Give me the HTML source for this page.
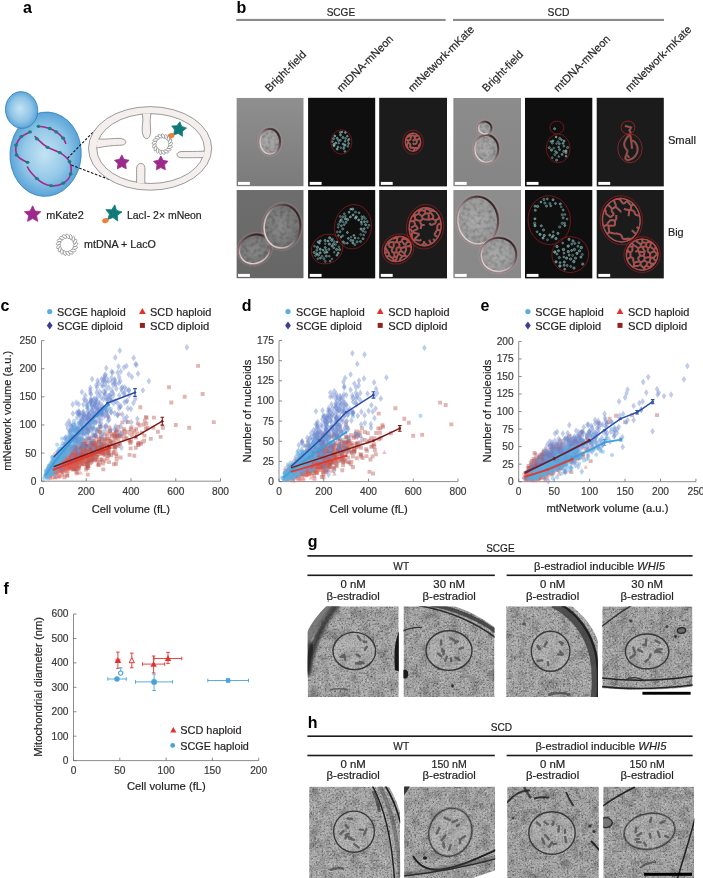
<!DOCTYPE html>
<html><head><meta charset="utf-8"><title>Figure</title>
<style>
html,body{margin:0;padding:0;background:#fff;}
body{width:703px;height:878px;overflow:hidden;}
svg{display:block;font-family:"Liberation Sans",sans-serif;will-change:transform;}
</style></head><body>
<svg width="703" height="878" viewBox="0 0 703 878">
<text x="23.0" y="13.2" font-size="16" font-weight="bold" fill="#000">a</text>
<text x="236.5" y="13.0" font-size="16" font-weight="bold" fill="#000">b</text>
<text x="0.5" y="310.8" font-size="16" font-weight="bold" fill="#000">c</text>
<text x="241.8" y="310.6" font-size="16" font-weight="bold" fill="#000">d</text>
<text x="480.5" y="310.9" font-size="16" font-weight="bold" fill="#000">e</text>
<text x="3.5" y="593.8" font-size="16" font-weight="bold" fill="#000">f</text>
<text x="307.8" y="547.0" font-size="16" font-weight="bold" fill="#000">g</text>
<text x="307.8" y="727.7" font-size="16" font-weight="bold" fill="#000">h</text>
<defs>
<radialGradient id="cellg" cx="0.5" cy="0.5" r="0.55" fx="0.48" fy="0.5">
<stop offset="0" stop-color="#c4e3f3"/><stop offset="0.55" stop-color="#94c8e8"/><stop offset="1" stop-color="#4c9bd4"/></radialGradient>
<radialGradient id="budg" cx="0.5" cy="0.5" r="0.55" fx="0.45" fy="0.45">
<stop offset="0" stop-color="#c4e3f3"/><stop offset="0.6" stop-color="#8fc4e6"/><stop offset="1" stop-color="#4e9dd5"/></radialGradient>
<clipPath id="innerclip"><ellipse cx="150.6" cy="148.6" rx="54.25" ry="35.35"/></clipPath>
</defs>
<ellipse cx="45.6" cy="154.2" rx="35.6" ry="42.2" transform="rotate(4 45.6 154.2)" fill="url(#cellg)" stroke="#2f7fc2" stroke-width="0.8"/>
<ellipse cx="21.6" cy="110" rx="16.1" ry="18.4" transform="rotate(-8 21.6 110)" fill="url(#budg)" stroke="#2f7fc2" stroke-width="0.8"/>
<path d="M38.5,126.3 C44,126.6 49.8,128.5 49.8,128.5 C53,129.8 56.3,131.9 56.3,131.9 C60,134.5 63.2,138.2 63.2,138.2 C64.5,140 65.7,143.2 65.7,143.2" fill="none" stroke="#a6278c" stroke-width="1.6" stroke-linecap="round"/>
<path d="M30,131.9 C26,133.5 21.3,136.6 21.3,136.6 C18,140 16,145.1 16,145.1 C15.2,150 16.6,155.1 16.6,155.1 C20,159.5 27.5,162.3 27.5,162.3" fill="none" stroke="#a6278c" stroke-width="1.6" stroke-linecap="round"/>
<path d="M35,136.6 C40,141 42,144.5 47.6,147.3 C52,149.6 56,150.4 59.8,152.6 C64,155 67.5,158 69.5,161.6 C71.5,166 71.6,170 70.7,173.9 C69.5,178 66.5,181.5 63.2,183.2 C59,185.6 55,186.2 51.1,185.7 C46,185.2 40.5,182 36.9,178.6 C32,174 29,170.5 27.5,167" fill="none" stroke="#a6278c" stroke-width="1.6" stroke-linecap="round"/>
<ellipse cx="38.5" cy="126.3" rx="1.95" ry="1.65" fill="#17807a"/>
<ellipse cx="49.8" cy="128.5" rx="1.95" ry="1.65" fill="#17807a"/>
<ellipse cx="56.3" cy="131.9" rx="1.95" ry="1.65" fill="#17807a"/>
<ellipse cx="63.2" cy="138.2" rx="1.95" ry="1.65" fill="#17807a"/>
<ellipse cx="30" cy="131.9" rx="1.95" ry="1.65" fill="#17807a"/>
<ellipse cx="21.3" cy="136.6" rx="1.95" ry="1.65" fill="#17807a"/>
<ellipse cx="16" cy="145.1" rx="1.95" ry="1.65" fill="#17807a"/>
<ellipse cx="16.6" cy="155.1" rx="1.95" ry="1.65" fill="#17807a"/>
<ellipse cx="27.5" cy="162.3" rx="1.95" ry="1.65" fill="#17807a"/>
<ellipse cx="36.9" cy="138.8" rx="1.95" ry="1.65" fill="#17807a"/>
<ellipse cx="47.6" cy="147.3" rx="1.95" ry="1.65" fill="#17807a"/>
<ellipse cx="59.8" cy="152.6" rx="1.95" ry="1.65" fill="#17807a"/>
<ellipse cx="69.5" cy="161.6" rx="1.95" ry="1.65" fill="#17807a"/>
<ellipse cx="70.7" cy="173.9" rx="1.95" ry="1.65" fill="#17807a"/>
<ellipse cx="63.2" cy="183.2" rx="1.95" ry="1.65" fill="#17807a"/>
<ellipse cx="51.1" cy="185.7" rx="1.95" ry="1.65" fill="#17807a"/>
<ellipse cx="36.9" cy="178.6" rx="1.95" ry="1.65" fill="#17807a"/>
<line x1="67.6" y1="158.2" x2="94.5" y2="130.6" stroke="#111" stroke-width="1.1" stroke-dasharray="2.6 1.6"/>
<line x1="71.3" y1="165.1" x2="110.5" y2="179.9" stroke="#111" stroke-width="1.1" stroke-dasharray="2.6 1.6"/>
<ellipse cx="150.1" cy="148.4" rx="61.6" ry="41.8" fill="#f4eeec" stroke="#7c7c7c" stroke-width="0.75"/>
<ellipse cx="150.6" cy="148.6" rx="53.8" ry="34.9" fill="#fff" stroke="#7c7c7c" stroke-width="0.75"/>
<g clip-path="url(#innerclip)">
<path d="M141.5,106 L142.6,116 C143.4,121 142,125 142.2,130 C142.4,135 144,138.6 146.6,138.6 C149.4,138.6 150.8,135 150.6,130 C150.4,125 149.8,121 150.6,116 L151.8,106 Z" fill="#f4eeec" stroke="#7c7c7c" stroke-width="0.75"/>
<path d="M90,138.4 L99,139 C106,139.6 113,138.2 119,138.4 C123.5,138.6 125.8,140.2 125.8,142 C125.8,144 123.5,145.3 119.5,145.3 C113,145.4 106,146.2 99,147.6 L90,148.4 Z" fill="#f4eeec" stroke="#7c7c7c" stroke-width="0.75"/>
<path d="M136.2,190 L136.6,180 C136.8,174 136.2,170 136.8,167 C137.4,164.4 139,163.4 140.9,163.4 C142.8,163.4 144.4,164.6 144.8,167.4 C145.2,170.5 144.6,175 144.8,180 L145.4,190 Z" fill="#f4eeec" stroke="#7c7c7c" stroke-width="0.75"/>
<path d="M212,150.6 L203,151.2 C196,151.6 189,151.4 181,151.6 C178.6,151.8 177,153 177,154.7 C177,156.4 178.6,157.6 181,157.7 C189,157.9 196,157.6 203,157.6 L212,157.8 Z" fill="#f4eeec" stroke="#7c7c7c" stroke-width="0.75"/>
</g>
<polygon points="121.80,155.00 124.15,159.36 129.03,160.25 125.60,163.84 126.27,168.75 121.80,166.60 117.33,168.75 118.00,163.84 114.57,160.25 119.45,159.36" fill="#9c2a8c" stroke="#9c2a8c" stroke-width="0.8" stroke-linejoin="round"/>
<polygon points="160.80,156.00 163.15,160.36 168.03,161.25 164.60,164.84 165.27,169.75 160.80,167.60 156.33,169.75 157.00,164.84 153.57,161.25 158.45,160.36" fill="#9c2a8c" stroke="#9c2a8c" stroke-width="0.8" stroke-linejoin="round"/>
<polygon points="179.89,121.68 181.65,126.45 186.48,128.05 182.49,131.20 182.46,136.29 178.23,133.46 173.38,135.01 174.76,130.11 171.79,125.98 176.88,125.78" fill="#117a78" stroke="#117a78" stroke-width="0.8" stroke-linejoin="round"/>
<ellipse cx="171.0" cy="135.8" rx="3.5" ry="2.6" transform="rotate(-20 171 135.8)" fill="#ee7f3b"/>
<ellipse cx="170.55" cy="144.20" rx="2.55" ry="1.25" transform="rotate(140.0 170.55 144.20)" fill="#fff" stroke="#6e6e6e" stroke-width="0.55"/><ellipse cx="170.00" cy="147.14" rx="2.55" ry="1.25" transform="rotate(161.2 170.00 147.14)" fill="#fff" stroke="#6e6e6e" stroke-width="0.55"/><ellipse cx="168.42" cy="149.69" rx="2.55" ry="1.25" transform="rotate(182.4 168.42 149.69)" fill="#fff" stroke="#6e6e6e" stroke-width="0.55"/><ellipse cx="166.03" cy="151.50" rx="2.55" ry="1.25" transform="rotate(203.5 166.03 151.50)" fill="#fff" stroke="#6e6e6e" stroke-width="0.55"/><ellipse cx="163.15" cy="152.32" rx="2.55" ry="1.25" transform="rotate(224.7 163.15 152.32)" fill="#fff" stroke="#6e6e6e" stroke-width="0.55"/><ellipse cx="160.17" cy="152.04" rx="2.55" ry="1.25" transform="rotate(245.9 160.17 152.04)" fill="#fff" stroke="#6e6e6e" stroke-width="0.55"/><ellipse cx="157.49" cy="150.70" rx="2.55" ry="1.25" transform="rotate(267.1 157.49 150.70)" fill="#fff" stroke="#6e6e6e" stroke-width="0.55"/><ellipse cx="155.47" cy="148.49" rx="2.55" ry="1.25" transform="rotate(288.2 155.47 148.49)" fill="#fff" stroke="#6e6e6e" stroke-width="0.55"/><ellipse cx="154.39" cy="145.70" rx="2.55" ry="1.25" transform="rotate(309.4 154.39 145.70)" fill="#fff" stroke="#6e6e6e" stroke-width="0.55"/><ellipse cx="154.39" cy="142.70" rx="2.55" ry="1.25" transform="rotate(330.6 154.39 142.70)" fill="#fff" stroke="#6e6e6e" stroke-width="0.55"/><ellipse cx="155.47" cy="139.91" rx="2.55" ry="1.25" transform="rotate(351.8 155.47 139.91)" fill="#fff" stroke="#6e6e6e" stroke-width="0.55"/><ellipse cx="157.49" cy="137.70" rx="2.55" ry="1.25" transform="rotate(372.9 157.49 137.70)" fill="#fff" stroke="#6e6e6e" stroke-width="0.55"/><ellipse cx="160.17" cy="136.36" rx="2.55" ry="1.25" transform="rotate(394.1 160.17 136.36)" fill="#fff" stroke="#6e6e6e" stroke-width="0.55"/><ellipse cx="163.15" cy="136.08" rx="2.55" ry="1.25" transform="rotate(415.3 163.15 136.08)" fill="#fff" stroke="#6e6e6e" stroke-width="0.55"/><ellipse cx="166.03" cy="136.90" rx="2.55" ry="1.25" transform="rotate(436.5 166.03 136.90)" fill="#fff" stroke="#6e6e6e" stroke-width="0.55"/><ellipse cx="168.42" cy="138.71" rx="2.55" ry="1.25" transform="rotate(457.6 168.42 138.71)" fill="#fff" stroke="#6e6e6e" stroke-width="0.55"/><ellipse cx="170.00" cy="141.26" rx="2.55" ry="1.25" transform="rotate(478.8 170.00 141.26)" fill="#fff" stroke="#6e6e6e" stroke-width="0.55"/>
<polygon points="32.60,205.80 35.07,211.00 40.78,211.74 36.59,215.70 37.65,221.36 32.60,218.60 27.55,221.36 28.61,215.70 24.42,211.74 30.13,211.00" fill="#9c2a8c" stroke="#9c2a8c" stroke-width="0.8" stroke-linejoin="round"/>
<text x="46.2" y="218.8" font-size="10.6" fill="#231f20" stroke="#231f20" stroke-width="0.2" textLength="37.5" lengthAdjust="spacingAndGlyphs">mKate2</text>
<polygon points="114.80,204.88 116.52,210.38 122.07,211.91 117.37,215.24 117.64,220.99 113.02,217.56 107.63,219.59 109.46,214.13 105.87,209.63 111.63,209.69" fill="#117a78" stroke="#117a78" stroke-width="0.8" stroke-linejoin="round"/>
<ellipse cx="105.4" cy="220.6" rx="3.3" ry="2.4" transform="rotate(-15 105.4 220.6)" fill="#ee7f3b"/>
<text x="126.9" y="218.8" font-size="10.6" fill="#231f20" stroke="#231f20" stroke-width="0.2" textLength="74.8" lengthAdjust="spacingAndGlyphs">LacI- 2× mNeon</text>
<ellipse cx="75.56" cy="244.80" rx="2.68" ry="1.31" transform="rotate(140.0 75.56 244.80)" fill="#fff" stroke="#6e6e6e" stroke-width="0.55"/><ellipse cx="74.98" cy="247.89" rx="2.68" ry="1.31" transform="rotate(161.2 74.98 247.89)" fill="#fff" stroke="#6e6e6e" stroke-width="0.55"/><ellipse cx="73.32" cy="250.57" rx="2.68" ry="1.31" transform="rotate(182.4 73.32 250.57)" fill="#fff" stroke="#6e6e6e" stroke-width="0.55"/><ellipse cx="70.81" cy="252.46" rx="2.68" ry="1.31" transform="rotate(203.5 70.81 252.46)" fill="#fff" stroke="#6e6e6e" stroke-width="0.55"/><ellipse cx="67.79" cy="253.32" rx="2.68" ry="1.31" transform="rotate(224.7 67.79 253.32)" fill="#fff" stroke="#6e6e6e" stroke-width="0.55"/><ellipse cx="64.66" cy="253.03" rx="2.68" ry="1.31" transform="rotate(245.9 64.66 253.03)" fill="#fff" stroke="#6e6e6e" stroke-width="0.55"/><ellipse cx="61.84" cy="251.63" rx="2.68" ry="1.31" transform="rotate(267.1 61.84 251.63)" fill="#fff" stroke="#6e6e6e" stroke-width="0.55"/><ellipse cx="59.72" cy="249.30" rx="2.68" ry="1.31" transform="rotate(288.2 59.72 249.30)" fill="#fff" stroke="#6e6e6e" stroke-width="0.55"/><ellipse cx="58.59" cy="246.37" rx="2.68" ry="1.31" transform="rotate(309.4 58.59 246.37)" fill="#fff" stroke="#6e6e6e" stroke-width="0.55"/><ellipse cx="58.59" cy="243.23" rx="2.68" ry="1.31" transform="rotate(330.6 58.59 243.23)" fill="#fff" stroke="#6e6e6e" stroke-width="0.55"/><ellipse cx="59.72" cy="240.30" rx="2.68" ry="1.31" transform="rotate(351.8 59.72 240.30)" fill="#fff" stroke="#6e6e6e" stroke-width="0.55"/><ellipse cx="61.84" cy="237.97" rx="2.68" ry="1.31" transform="rotate(372.9 61.84 237.97)" fill="#fff" stroke="#6e6e6e" stroke-width="0.55"/><ellipse cx="64.66" cy="236.57" rx="2.68" ry="1.31" transform="rotate(394.1 64.66 236.57)" fill="#fff" stroke="#6e6e6e" stroke-width="0.55"/><ellipse cx="67.79" cy="236.28" rx="2.68" ry="1.31" transform="rotate(415.3 67.79 236.28)" fill="#fff" stroke="#6e6e6e" stroke-width="0.55"/><ellipse cx="70.81" cy="237.14" rx="2.68" ry="1.31" transform="rotate(436.5 70.81 237.14)" fill="#fff" stroke="#6e6e6e" stroke-width="0.55"/><ellipse cx="73.32" cy="239.03" rx="2.68" ry="1.31" transform="rotate(457.6 73.32 239.03)" fill="#fff" stroke="#6e6e6e" stroke-width="0.55"/><ellipse cx="74.98" cy="241.71" rx="2.68" ry="1.31" transform="rotate(478.8 74.98 241.71)" fill="#fff" stroke="#6e6e6e" stroke-width="0.55"/>
<text x="84.1" y="247.6" font-size="10.6" fill="#231f20" stroke="#231f20" stroke-width="0.2" textLength="71.8" lengthAdjust="spacingAndGlyphs">mtDNA + LacO</text>
<text x="340.9" y="15.6" font-size="10.4" text-anchor="middle" fill="#231f20" stroke="#231f20" stroke-width="0.2" textLength="28.5" lengthAdjust="spacingAndGlyphs">SCGE</text>
<text x="558.5" y="15.6" font-size="10.4" text-anchor="middle" fill="#231f20" stroke="#231f20" stroke-width="0.2" textLength="21.8" lengthAdjust="spacingAndGlyphs">SCD</text>
<rect x="236.2" y="18.9" width="209.4" height="2.1" fill="#8b8b8b"/>
<rect x="453" y="18.9" width="211" height="2.1" fill="#8b8b8b"/>
<text x="269.6" y="92.4" font-size="11" fill="#231f20" stroke="#231f20" stroke-width="0.2" transform="rotate(-45 269.6 92.4)">Bright-field</text>
<text x="341.2" y="92.4" font-size="11" fill="#231f20" stroke="#231f20" stroke-width="0.2" transform="rotate(-45 341.2 92.4)">mtDNA-mNeon</text>
<text x="412.6" y="92.4" font-size="11" fill="#231f20" stroke="#231f20" stroke-width="0.2" transform="rotate(-45 412.6 92.4)">mtNetwork-mKate</text>
<text x="486.6" y="92.4" font-size="11" fill="#231f20" stroke="#231f20" stroke-width="0.2" transform="rotate(-45 486.6 92.4)">Bright-field</text>
<text x="558.1" y="92.4" font-size="11" fill="#231f20" stroke="#231f20" stroke-width="0.2" transform="rotate(-45 558.1 92.4)">mtDNA-mNeon</text>
<text x="629.8" y="92.4" font-size="11" fill="#231f20" stroke="#231f20" stroke-width="0.2" transform="rotate(-45 629.8 92.4)">mtNetwork-mKate</text>
<text x="667.9" y="144.0" font-size="10.4" fill="#231f20" stroke="#231f20" stroke-width="0.2" textLength="28.0" lengthAdjust="spacingAndGlyphs">Small</text>
<text x="667.9" y="236.4" font-size="10.4" fill="#231f20" stroke="#231f20" stroke-width="0.2" textLength="15.7" lengthAdjust="spacingAndGlyphs">Big</text>
<defs>
<linearGradient id="bfbg1" x1="0" y1="0" x2="0" y2="1"><stop offset="0" stop-color="#8f8f8f"/><stop offset="1" stop-color="#7b7b7b"/></linearGradient>
<linearGradient id="bfbg2" x1="0" y1="0" x2="0" y2="1"><stop offset="0" stop-color="#8c8c8c"/><stop offset="1" stop-color="#858585"/></linearGradient>
<linearGradient id="bfbg3" x1="0" y1="0" x2="0" y2="1"><stop offset="0" stop-color="#6e6e6e"/><stop offset="1" stop-color="#666666"/></linearGradient>
<linearGradient id="bfbg4" x1="0" y1="0" x2="0" y2="1"><stop offset="0" stop-color="#8d8d8d"/><stop offset="1" stop-color="#888888"/></linearGradient>
<linearGradient id="dic" x1="0.1" y1="0.9" x2="0.9" y2="0.1"><stop offset="0" stop-color="#e0e0e0"/><stop offset="0.35" stop-color="#b8b8b8"/><stop offset="0.6" stop-color="#707070"/><stop offset="1" stop-color="#1a1a1a"/></linearGradient>
<radialGradient id="bfcell" cx="0.45" cy="0.5" r="0.6"><stop offset="0" stop-color="#acacac"/><stop offset="1" stop-color="#969696"/></radialGradient>
<radialGradient id="bfcellD" cx="0.45" cy="0.5" r="0.6"><stop offset="0" stop-color="#8a8a8a"/><stop offset="1" stop-color="#727272"/></radialGradient>
<filter id="mott" x="0" y="0" width="1" height="1">
<feTurbulence type="fractalNoise" baseFrequency="0.28" numOctaves="2" seed="5" result="n"/>
<feColorMatrix in="n" type="matrix" values="0 0 0 0 0  0 0 0 0 0  0 0 0 0 0  1.0 0 0 0 -0.4" result="a"/>
<feComposite in="a" in2="SourceGraphic" operator="in" result="m"/>
<feMerge><feMergeNode in="SourceGraphic"/><feMergeNode in="m"/></feMerge>
</filter>
<filter id="blur04"><feGaussianBlur stdDeviation="0.45"/></filter>
<filter id="blur07"><feGaussianBlur stdDeviation="0.7"/></filter>
</defs>
<clipPath id="clip00"><rect x="236.4" y="97.8" width="67.3" height="88.6"/></clipPath>
<g clip-path="url(#clip00)"><rect x="236.4" y="97.8" width="67.3" height="88.6" fill="url(#bfbg1)"/>
<ellipse cx="269.9" cy="141.6" rx="12.2" ry="14.7" fill="none" stroke="#b0b0b0" stroke-opacity="0.2" stroke-width="1.4"/>
<ellipse cx="269.9" cy="141.6" rx="10.6" ry="13.1" fill="url(#bfcell)" filter="url(#mott)"/>
<ellipse cx="269.9" cy="141.6" rx="10.1" ry="12.6" fill="none" stroke="url(#dic)" stroke-width="1.9"/>
<ellipse cx="269.9" cy="141.6" rx="10.9" ry="13.4" fill="none" stroke="#a82028" stroke-width="0.5" stroke-opacity="0.75"/>
</g>
<rect x="308.1" y="97.8" width="67.1" height="88.6" fill="#0f0f0f"/>
<circle cx="340.3" cy="132.5" r="1.00" fill="#8fd3d3" fill-opacity="0.37" stroke="#a8e4e2" stroke-width="0.5" stroke-opacity="0.74"/><circle cx="342.0" cy="132.0" r="0.81" fill="#8fd3d3" fill-opacity="0.48" stroke="#a8e4e2" stroke-width="0.5" stroke-opacity="0.96"/><circle cx="345.4" cy="132.5" r="0.91" fill="#8fd3d3" fill-opacity="0.49" stroke="#a8e4e2" stroke-width="0.5" stroke-opacity="0.99"/><circle cx="334.8" cy="136.0" r="0.98" fill="#8fd3d3" fill-opacity="0.49" stroke="#a8e4e2" stroke-width="0.5" stroke-opacity="0.99"/><circle cx="340.5" cy="135.0" r="0.97" fill="#8fd3d3" fill-opacity="0.46" stroke="#a8e4e2" stroke-width="0.5" stroke-opacity="0.92"/><circle cx="347.3" cy="136.2" r="0.89" fill="#8fd3d3" fill-opacity="0.42" stroke="#a8e4e2" stroke-width="0.5" stroke-opacity="0.83"/><circle cx="333.5" cy="138.7" r="1.02" fill="#8fd3d3" fill-opacity="0.41" stroke="#a8e4e2" stroke-width="0.5" stroke-opacity="0.81"/><circle cx="337.2" cy="138.3" r="1.02" fill="#8fd3d3" fill-opacity="0.47" stroke="#a8e4e2" stroke-width="0.5" stroke-opacity="0.94"/><circle cx="342.9" cy="137.5" r="1.05" fill="#8fd3d3" fill-opacity="0.43" stroke="#a8e4e2" stroke-width="0.5" stroke-opacity="0.86"/><circle cx="345.6" cy="138.5" r="1.00" fill="#8fd3d3" fill-opacity="0.35" stroke="#a8e4e2" stroke-width="0.5" stroke-opacity="0.70"/><circle cx="348.9" cy="139.2" r="0.92" fill="#8fd3d3" fill-opacity="0.38" stroke="#a8e4e2" stroke-width="0.5" stroke-opacity="0.75"/><circle cx="332.4" cy="141.6" r="0.92" fill="#8fd3d3" fill-opacity="0.37" stroke="#a8e4e2" stroke-width="0.5" stroke-opacity="0.73"/><circle cx="338.4" cy="140.5" r="0.98" fill="#8fd3d3" fill-opacity="0.35" stroke="#a8e4e2" stroke-width="0.5" stroke-opacity="0.69"/><circle cx="340.3" cy="140.3" r="1.09" fill="#8fd3d3" fill-opacity="0.37" stroke="#a8e4e2" stroke-width="0.5" stroke-opacity="0.74"/><circle cx="345.1" cy="141.3" r="0.86" fill="#8fd3d3" fill-opacity="0.43" stroke="#a8e4e2" stroke-width="0.5" stroke-opacity="0.86"/><circle cx="348.2" cy="140.5" r="0.91" fill="#8fd3d3" fill-opacity="0.37" stroke="#a8e4e2" stroke-width="0.5" stroke-opacity="0.74"/><circle cx="333.9" cy="144.5" r="1.06" fill="#8fd3d3" fill-opacity="0.45" stroke="#a8e4e2" stroke-width="0.5" stroke-opacity="0.91"/><circle cx="335.7" cy="143.1" r="1.00" fill="#8fd3d3" fill-opacity="0.48" stroke="#a8e4e2" stroke-width="0.5" stroke-opacity="0.96"/><circle cx="338.7" cy="143.2" r="0.88" fill="#8fd3d3" fill-opacity="0.34" stroke="#a8e4e2" stroke-width="0.5" stroke-opacity="0.67"/><circle cx="343.2" cy="144.1" r="0.96" fill="#8fd3d3" fill-opacity="0.47" stroke="#a8e4e2" stroke-width="0.5" stroke-opacity="0.93"/><circle cx="345.1" cy="144.9" r="0.97" fill="#8fd3d3" fill-opacity="0.46" stroke="#a8e4e2" stroke-width="0.5" stroke-opacity="0.91"/><circle cx="348.6" cy="143.5" r="0.96" fill="#8fd3d3" fill-opacity="0.44" stroke="#a8e4e2" stroke-width="0.5" stroke-opacity="0.88"/><circle cx="334.1" cy="145.8" r="0.97" fill="#8fd3d3" fill-opacity="0.45" stroke="#a8e4e2" stroke-width="0.5" stroke-opacity="0.90"/><circle cx="337.9" cy="147.0" r="0.91" fill="#8fd3d3" fill-opacity="0.38" stroke="#a8e4e2" stroke-width="0.5" stroke-opacity="0.76"/><circle cx="340.8" cy="147.7" r="0.92" fill="#8fd3d3" fill-opacity="0.29" stroke="#a8e4e2" stroke-width="0.5" stroke-opacity="0.58"/><circle cx="344.1" cy="146.9" r="1.09" fill="#8fd3d3" fill-opacity="0.29" stroke="#a8e4e2" stroke-width="0.5" stroke-opacity="0.59"/><circle cx="347.9" cy="146.3" r="1.04" fill="#8fd3d3" fill-opacity="0.32" stroke="#a8e4e2" stroke-width="0.5" stroke-opacity="0.63"/><circle cx="337.2" cy="149.1" r="1.00" fill="#8fd3d3" fill-opacity="0.47" stroke="#a8e4e2" stroke-width="0.5" stroke-opacity="0.94"/><circle cx="343.6" cy="148.6" r="0.85" fill="#8fd3d3" fill-opacity="0.40" stroke="#a8e4e2" stroke-width="0.5" stroke-opacity="0.81"/><circle cx="345.0" cy="151.4" r="0.91" fill="#8fd3d3" fill-opacity="0.38" stroke="#a8e4e2" stroke-width="0.5" stroke-opacity="0.76"/>
<ellipse cx="341.4" cy="142" rx="10.5" ry="12.2" fill="none" stroke="#9e1a1f" stroke-width="0.65"/>
<rect x="379.2" y="97.8" width="67.8" height="88.6" fill="#1b1b1b"/>
<clipPath id="netc1"><ellipse cx="413" cy="142.2" rx="8.30" ry="9.67" transform="rotate(0 413 142.2)"/></clipPath>
<g clip-path="url(#netc1)"><path d="M420.9,142.2 L420.8,143.8 L420.4,145.4 L419.8,146.8 L419.1,148.2 L418.1,149.3 L417.0,150.2 L415.7,150.9 L414.4,151.3 L413.0,151.5 L411.6,151.3 L410.3,150.9 L409.0,150.2 L407.9,149.3 L406.9,148.2 L406.2,146.8 L405.6,145.4 L405.2,143.8 L405.1,142.2 L405.2,140.6 L405.6,139.0 L406.2,137.6 L406.9,136.2 L407.9,135.1 L409.0,134.2 L410.3,133.5 L411.6,133.1 L413.0,132.9 L414.4,133.1 L415.7,133.5 L417.0,134.2 L418.1,135.1 L419.1,136.2 L419.8,137.6 L420.4,139.0 L420.8,140.6 L420.9,142.2 M404.7,138.6 L410.1,135.4 M412.9,135.0 L411.0,135.8 M411.0,135.8 L410.1,135.4 M406.7,145.0 L407.9,148.8 M425.0,136.2 L416.5,140.0 M414.5,136.5 L423.9,133.6 M414.5,136.5 L415.0,139.3 M415.0,139.3 L416.5,140.0 M412.9,135.0 L414.5,136.5 M408.0,140.6 L408.2,142.7 M408.0,140.6 L410.4,139.8 M408.2,142.7 L410.5,144.2 M404.7,138.6 L408.0,140.6 M406.7,145.0 L408.2,142.7 M411.0,135.8 L410.4,139.8 M410.0,147.7 L410.5,144.2 M415.0,139.3 L412.6,140.9 M410.0,147.7 L414.5,147.8 M412.8,143.1 L414.3,144.5 M416.5,140.0 L417.0,142.8 M414.3,144.5 L417.0,142.8 M426.3,140.7 L419.5,144.2 M418.2,148.0 L414.6,148.0 M418.2,148.0 L423.6,153.4 M414.6,148.0 L412.8,158.3 M414.5,147.8 L414.6,148.0 M419.5,144.2 L418.2,148.0" fill="none" stroke="#d8e0e0" stroke-width="2.0" stroke-opacity="0.42" filter="url(#blur04)"/>
<path d="M420.9,142.2 L420.8,143.8 L420.4,145.4 L419.8,146.8 L419.1,148.2 L418.1,149.3 L417.0,150.2 L415.7,150.9 L414.4,151.3 L413.0,151.5 L411.6,151.3 L410.3,150.9 L409.0,150.2 L407.9,149.3 L406.9,148.2 L406.2,146.8 L405.6,145.4 L405.2,143.8 L405.1,142.2 L405.2,140.6 L405.6,139.0 L406.2,137.6 L406.9,136.2 L407.9,135.1 L409.0,134.2 L410.3,133.5 L411.6,133.1 L413.0,132.9 L414.4,133.1 L415.7,133.5 L417.0,134.2 L418.1,135.1 L419.1,136.2 L419.8,137.6 L420.4,139.0 L420.8,140.6 L420.9,142.2 M404.7,138.6 L410.1,135.4 M412.9,135.0 L411.0,135.8 M411.0,135.8 L410.1,135.4 M406.7,145.0 L407.9,148.8 M425.0,136.2 L416.5,140.0 M414.5,136.5 L423.9,133.6 M414.5,136.5 L415.0,139.3 M415.0,139.3 L416.5,140.0 M412.9,135.0 L414.5,136.5 M408.0,140.6 L408.2,142.7 M408.0,140.6 L410.4,139.8 M408.2,142.7 L410.5,144.2 M404.7,138.6 L408.0,140.6 M406.7,145.0 L408.2,142.7 M411.0,135.8 L410.4,139.8 M410.0,147.7 L410.5,144.2 M415.0,139.3 L412.6,140.9 M410.0,147.7 L414.5,147.8 M412.8,143.1 L414.3,144.5 M416.5,140.0 L417.0,142.8 M414.3,144.5 L417.0,142.8 M426.3,140.7 L419.5,144.2 M418.2,148.0 L414.6,148.0 M418.2,148.0 L423.6,153.4 M414.6,148.0 L412.8,158.3 M414.5,147.8 L414.6,148.0 M419.5,144.2 L418.2,148.0" fill="none" stroke="#f0302a" stroke-width="0.85" stroke-linejoin="round"/></g>
<ellipse cx="413" cy="142.2" rx="10.4" ry="12.2" fill="none" stroke="#9e1a1f" stroke-width="0.65"/>
<clipPath id="clip30"><rect x="453.2" y="97.8" width="67.8" height="88.6"/></clipPath>
<g clip-path="url(#clip30)"><rect x="453.2" y="97.8" width="67.8" height="88.6" fill="url(#bfbg2)"/>
<ellipse cx="486.4" cy="148.7" rx="13.9" ry="15.799999999999999" fill="none" stroke="#b0b0b0" stroke-opacity="0.2" stroke-width="1.4"/>
<ellipse cx="486.4" cy="148.7" rx="12.3" ry="14.2" fill="url(#bfcell)" filter="url(#mott)"/>
<ellipse cx="486.4" cy="148.7" rx="11.8" ry="13.7" fill="none" stroke="url(#dic)" stroke-width="1.9"/>
<ellipse cx="486.4" cy="148.7" rx="12.600000000000001" ry="14.5" fill="none" stroke="#a82028" stroke-width="0.5" stroke-opacity="0.75"/>
<ellipse cx="484.9" cy="127.9" rx="8.6" ry="8.2" fill="none" stroke="#b0b0b0" stroke-opacity="0.2" stroke-width="1.4"/>
<ellipse cx="484.9" cy="127.9" rx="7.0" ry="6.6" fill="url(#bfcell)" filter="url(#mott)"/>
<ellipse cx="484.9" cy="127.9" rx="6.5" ry="6.1" fill="none" stroke="url(#dic)" stroke-width="1.9"/>
<ellipse cx="484.9" cy="127.9" rx="7.3" ry="6.8999999999999995" fill="none" stroke="#a82028" stroke-width="0.5" stroke-opacity="0.75"/>
</g>
<rect x="525" y="97.8" width="67.3" height="88.6" fill="#0f0f0f"/>
<circle cx="556.1" cy="137.0" r="0.88" fill="#8fd3d3" fill-opacity="0.50" stroke="#a8e4e2" stroke-width="0.5" stroke-opacity="0.99"/><circle cx="559.7" cy="138.4" r="1.11" fill="#8fd3d3" fill-opacity="0.37" stroke="#a8e4e2" stroke-width="0.5" stroke-opacity="0.74"/><circle cx="550.9" cy="141.5" r="0.86" fill="#8fd3d3" fill-opacity="0.41" stroke="#a8e4e2" stroke-width="0.5" stroke-opacity="0.81"/><circle cx="552.9" cy="140.9" r="0.97" fill="#8fd3d3" fill-opacity="0.47" stroke="#a8e4e2" stroke-width="0.5" stroke-opacity="0.95"/><circle cx="558.1" cy="141.6" r="0.95" fill="#8fd3d3" fill-opacity="0.31" stroke="#a8e4e2" stroke-width="0.5" stroke-opacity="0.63"/><circle cx="561.5" cy="139.8" r="0.86" fill="#8fd3d3" fill-opacity="0.41" stroke="#a8e4e2" stroke-width="0.5" stroke-opacity="0.82"/><circle cx="564.1" cy="141.0" r="1.03" fill="#8fd3d3" fill-opacity="0.42" stroke="#a8e4e2" stroke-width="0.5" stroke-opacity="0.84"/><circle cx="552.4" cy="143.2" r="0.98" fill="#8fd3d3" fill-opacity="0.33" stroke="#a8e4e2" stroke-width="0.5" stroke-opacity="0.65"/><circle cx="556.5" cy="143.6" r="0.86" fill="#8fd3d3" fill-opacity="0.32" stroke="#a8e4e2" stroke-width="0.5" stroke-opacity="0.64"/><circle cx="559.4" cy="143.7" r="0.98" fill="#8fd3d3" fill-opacity="0.41" stroke="#a8e4e2" stroke-width="0.5" stroke-opacity="0.81"/><circle cx="563.0" cy="143.4" r="0.91" fill="#8fd3d3" fill-opacity="0.46" stroke="#a8e4e2" stroke-width="0.5" stroke-opacity="0.93"/><circle cx="549.3" cy="147.7" r="1.05" fill="#8fd3d3" fill-opacity="0.37" stroke="#a8e4e2" stroke-width="0.5" stroke-opacity="0.75"/><circle cx="553.7" cy="148.1" r="0.96" fill="#8fd3d3" fill-opacity="0.29" stroke="#a8e4e2" stroke-width="0.5" stroke-opacity="0.58"/><circle cx="558.6" cy="147.1" r="0.92" fill="#8fd3d3" fill-opacity="0.43" stroke="#a8e4e2" stroke-width="0.5" stroke-opacity="0.86"/><circle cx="563.9" cy="146.1" r="1.02" fill="#8fd3d3" fill-opacity="0.36" stroke="#a8e4e2" stroke-width="0.5" stroke-opacity="0.71"/><circle cx="567.6" cy="147.5" r="1.11" fill="#8fd3d3" fill-opacity="0.37" stroke="#a8e4e2" stroke-width="0.5" stroke-opacity="0.73"/><circle cx="551.5" cy="150.1" r="1.10" fill="#8fd3d3" fill-opacity="0.47" stroke="#a8e4e2" stroke-width="0.5" stroke-opacity="0.94"/><circle cx="555.4" cy="151.3" r="0.91" fill="#8fd3d3" fill-opacity="0.37" stroke="#a8e4e2" stroke-width="0.5" stroke-opacity="0.74"/><circle cx="559.5" cy="149.6" r="0.98" fill="#8fd3d3" fill-opacity="0.42" stroke="#a8e4e2" stroke-width="0.5" stroke-opacity="0.84"/><circle cx="563.7" cy="151.4" r="1.05" fill="#8fd3d3" fill-opacity="0.39" stroke="#a8e4e2" stroke-width="0.5" stroke-opacity="0.78"/><circle cx="566.0" cy="150.9" r="1.09" fill="#8fd3d3" fill-opacity="0.49" stroke="#a8e4e2" stroke-width="0.5" stroke-opacity="0.97"/><circle cx="554.8" cy="154.6" r="1.12" fill="#8fd3d3" fill-opacity="0.30" stroke="#a8e4e2" stroke-width="0.5" stroke-opacity="0.61"/><circle cx="556.7" cy="152.6" r="0.95" fill="#8fd3d3" fill-opacity="0.43" stroke="#a8e4e2" stroke-width="0.5" stroke-opacity="0.85"/><circle cx="562.1" cy="154.4" r="0.99" fill="#8fd3d3" fill-opacity="0.44" stroke="#a8e4e2" stroke-width="0.5" stroke-opacity="0.88"/><circle cx="566.0" cy="152.8" r="1.02" fill="#8fd3d3" fill-opacity="0.40" stroke="#a8e4e2" stroke-width="0.5" stroke-opacity="0.80"/><circle cx="552.3" cy="157.7" r="0.96" fill="#8fd3d3" fill-opacity="0.31" stroke="#a8e4e2" stroke-width="0.5" stroke-opacity="0.62"/><circle cx="558.7" cy="156.5" r="0.87" fill="#8fd3d3" fill-opacity="0.37" stroke="#a8e4e2" stroke-width="0.5" stroke-opacity="0.75"/><circle cx="566.1" cy="156.2" r="0.95" fill="#8fd3d3" fill-opacity="0.44" stroke="#a8e4e2" stroke-width="0.5" stroke-opacity="0.88"/><circle cx="556.6" cy="160.1" r="1.13" fill="#8fd3d3" fill-opacity="0.38" stroke="#a8e4e2" stroke-width="0.5" stroke-opacity="0.76"/>
<circle cx="554.6" cy="128.7" r="1.03" fill="#8fd3d3" fill-opacity="0.43" stroke="#a8e4e2" stroke-width="0.5" stroke-opacity="0.85"/>
<ellipse cx="558.2" cy="148.4" rx="11.9" ry="14.4" fill="none" stroke="#9e1a1f" stroke-width="0.65"/>
<ellipse cx="556.9" cy="127.5" rx="7.0" ry="6.4" fill="none" stroke="#9e1a1f" stroke-width="0.65"/>
<rect x="596.7" y="97.8" width="67.1" height="88.6" fill="#1b1b1b"/>
<path d="M624.9,125.9 L631,127.4 L629.4,130.4 L631,133 M630.4,134.5 C628,136 626,138 624.4,142.6 C623.8,145 624,147 627.4,150.7 C627.6,152.5 626.8,153.6 626.4,154.7 C625.6,156.2 625,157.6 625.4,158.8 C626.8,160.2 628,160.4 629.4,159.8 C632,159 633.5,158 634.5,156.8 C636.5,154.2 637.6,152.5 637.5,150.7 C637.8,148.5 637.6,147 637,145.6 C636.2,143.6 635.5,142.5 634.5,141.6 C633.6,141 632.8,140.7 632,140.6 M630.4,135.5 C631,140 631.8,144 632,148.7 M626.4,154.7 C628,155.5 629,156.5 628.6,158" fill="none" stroke="#c8d0d0" stroke-width="2.2" stroke-opacity="0.35" filter="url(#blur07)"/>
<path d="M624.9,125.9 L631,127.4 L629.4,130.4 L631,133 M630.4,134.5 C628,136 626,138 624.4,142.6 C623.8,145 624,147 627.4,150.7 C627.6,152.5 626.8,153.6 626.4,154.7 C625.6,156.2 625,157.6 625.4,158.8 C626.8,160.2 628,160.4 629.4,159.8 C632,159 633.5,158 634.5,156.8 C636.5,154.2 637.6,152.5 637.5,150.7 C637.8,148.5 637.6,147 637,145.6 C636.2,143.6 635.5,142.5 634.5,141.6 C633.6,141 632.8,140.7 632,140.6 M630.4,135.5 C631,140 631.8,144 632,148.7 M626.4,154.7 C628,155.5 629,156.5 628.6,158" fill="none" stroke="#f0302a" stroke-width="0.85" stroke-linejoin="round"/>
<ellipse cx="630" cy="148.4" rx="12.2" ry="14.4" fill="none" stroke="#c42a2a" stroke-width="0.65"/>
<ellipse cx="628" cy="127.5" rx="6.9" ry="6.5" fill="none" stroke="#c42a2a" stroke-width="0.65"/>
<clipPath id="clip01"><rect x="236.4" y="190.0" width="67.3" height="88.4"/></clipPath>
<g clip-path="url(#clip01)"><rect x="236.4" y="190.0" width="67.3" height="88.4" fill="url(#bfbg3)"/>
<ellipse cx="254.8" cy="249.2" rx="18.200000000000003" ry="16.2" transform="rotate(-32 254.8 249.2)" fill="none" stroke="#b0b0b0" stroke-opacity="0.2" stroke-width="1.4"/>
<ellipse cx="254.8" cy="249.2" rx="16.6" ry="14.6" transform="rotate(-32 254.8 249.2)" fill="url(#bfcellD)" filter="url(#mott)"/>
<ellipse cx="254.8" cy="249.2" rx="16.1" ry="14.1" transform="rotate(-32 254.8 249.2)" fill="none" stroke="url(#dic)" stroke-width="1.9"/>
<ellipse cx="254.8" cy="249.2" rx="16.900000000000002" ry="14.9" transform="rotate(-32 254.8 249.2)" fill="none" stroke="#a82028" stroke-width="0.5" stroke-opacity="0.75"/>
<ellipse cx="282.1" cy="226.5" rx="20.200000000000003" ry="23.8" transform="rotate(8 282.1 226.5)" fill="none" stroke="#b0b0b0" stroke-opacity="0.2" stroke-width="1.4"/>
<ellipse cx="282.1" cy="226.5" rx="18.6" ry="22.2" transform="rotate(8 282.1 226.5)" fill="url(#bfcellD)" filter="url(#mott)"/>
<ellipse cx="282.1" cy="226.5" rx="18.1" ry="21.7" transform="rotate(8 282.1 226.5)" fill="none" stroke="url(#dic)" stroke-width="1.9"/>
<ellipse cx="282.1" cy="226.5" rx="18.900000000000002" ry="22.5" transform="rotate(8 282.1 226.5)" fill="none" stroke="#a82028" stroke-width="0.5" stroke-opacity="0.75"/>
</g>
<rect x="308.1" y="190.0" width="67.1" height="88.4" fill="#0f0f0f"/>
<circle cx="350.7" cy="209.2" r="0.92" fill="#8fd3d3" fill-opacity="0.48" stroke="#a8e4e2" stroke-width="0.5" stroke-opacity="0.96"/><circle cx="352.7" cy="209.2" r="1.11" fill="#8fd3d3" fill-opacity="0.46" stroke="#a8e4e2" stroke-width="0.5" stroke-opacity="0.91"/><circle cx="344.3" cy="213.7" r="0.98" fill="#8fd3d3" fill-opacity="0.32" stroke="#a8e4e2" stroke-width="0.5" stroke-opacity="0.64"/><circle cx="349.1" cy="212.2" r="0.97" fill="#8fd3d3" fill-opacity="0.43" stroke="#a8e4e2" stroke-width="0.5" stroke-opacity="0.87"/><circle cx="355.5" cy="212.2" r="1.08" fill="#8fd3d3" fill-opacity="0.30" stroke="#a8e4e2" stroke-width="0.5" stroke-opacity="0.60"/><circle cx="359.0" cy="212.8" r="0.91" fill="#8fd3d3" fill-opacity="0.38" stroke="#a8e4e2" stroke-width="0.5" stroke-opacity="0.77"/><circle cx="340.2" cy="216.5" r="1.01" fill="#8fd3d3" fill-opacity="0.29" stroke="#a8e4e2" stroke-width="0.5" stroke-opacity="0.57"/><circle cx="342.8" cy="216.8" r="1.09" fill="#8fd3d3" fill-opacity="0.34" stroke="#a8e4e2" stroke-width="0.5" stroke-opacity="0.68"/><circle cx="345.4" cy="216.1" r="0.85" fill="#8fd3d3" fill-opacity="0.31" stroke="#a8e4e2" stroke-width="0.5" stroke-opacity="0.62"/><circle cx="350.4" cy="216.9" r="0.98" fill="#8fd3d3" fill-opacity="0.48" stroke="#a8e4e2" stroke-width="0.5" stroke-opacity="0.96"/><circle cx="353.1" cy="214.9" r="1.02" fill="#8fd3d3" fill-opacity="0.47" stroke="#a8e4e2" stroke-width="0.5" stroke-opacity="0.93"/><circle cx="356.3" cy="216.9" r="1.13" fill="#8fd3d3" fill-opacity="0.47" stroke="#a8e4e2" stroke-width="0.5" stroke-opacity="0.95"/><circle cx="361.7" cy="216.6" r="0.93" fill="#8fd3d3" fill-opacity="0.29" stroke="#a8e4e2" stroke-width="0.5" stroke-opacity="0.59"/><circle cx="363.7" cy="216.9" r="1.14" fill="#8fd3d3" fill-opacity="0.32" stroke="#a8e4e2" stroke-width="0.5" stroke-opacity="0.63"/><circle cx="341.2" cy="219.9" r="1.13" fill="#8fd3d3" fill-opacity="0.43" stroke="#a8e4e2" stroke-width="0.5" stroke-opacity="0.86"/><circle cx="345.4" cy="218.7" r="1.09" fill="#8fd3d3" fill-opacity="0.50" stroke="#a8e4e2" stroke-width="0.5" stroke-opacity="0.99"/><circle cx="347.6" cy="219.6" r="1.13" fill="#8fd3d3" fill-opacity="0.47" stroke="#a8e4e2" stroke-width="0.5" stroke-opacity="0.94"/><circle cx="355.5" cy="218.2" r="1.10" fill="#8fd3d3" fill-opacity="0.41" stroke="#a8e4e2" stroke-width="0.5" stroke-opacity="0.82"/><circle cx="358.7" cy="219.9" r="0.99" fill="#8fd3d3" fill-opacity="0.49" stroke="#a8e4e2" stroke-width="0.5" stroke-opacity="0.99"/><circle cx="362.0" cy="219.0" r="1.05" fill="#8fd3d3" fill-opacity="0.32" stroke="#a8e4e2" stroke-width="0.5" stroke-opacity="0.65"/><circle cx="365.5" cy="218.7" r="0.94" fill="#8fd3d3" fill-opacity="0.29" stroke="#a8e4e2" stroke-width="0.5" stroke-opacity="0.57"/><circle cx="340.1" cy="221.7" r="1.09" fill="#8fd3d3" fill-opacity="0.36" stroke="#a8e4e2" stroke-width="0.5" stroke-opacity="0.72"/><circle cx="343.0" cy="222.0" r="0.95" fill="#8fd3d3" fill-opacity="0.28" stroke="#a8e4e2" stroke-width="0.5" stroke-opacity="0.56"/><circle cx="346.0" cy="222.4" r="1.05" fill="#8fd3d3" fill-opacity="0.34" stroke="#a8e4e2" stroke-width="0.5" stroke-opacity="0.69"/><circle cx="361.3" cy="222.1" r="0.99" fill="#8fd3d3" fill-opacity="0.47" stroke="#a8e4e2" stroke-width="0.5" stroke-opacity="0.94"/><circle cx="364.4" cy="221.7" r="0.98" fill="#8fd3d3" fill-opacity="0.46" stroke="#a8e4e2" stroke-width="0.5" stroke-opacity="0.93"/><circle cx="367.3" cy="221.6" r="0.95" fill="#8fd3d3" fill-opacity="0.39" stroke="#a8e4e2" stroke-width="0.5" stroke-opacity="0.78"/><circle cx="338.5" cy="224.5" r="1.12" fill="#8fd3d3" fill-opacity="0.32" stroke="#a8e4e2" stroke-width="0.5" stroke-opacity="0.64"/><circle cx="341.4" cy="225.8" r="0.93" fill="#8fd3d3" fill-opacity="0.41" stroke="#a8e4e2" stroke-width="0.5" stroke-opacity="0.82"/><circle cx="344.2" cy="224.6" r="0.97" fill="#8fd3d3" fill-opacity="0.40" stroke="#a8e4e2" stroke-width="0.5" stroke-opacity="0.79"/><circle cx="361.7" cy="224.2" r="1.06" fill="#8fd3d3" fill-opacity="0.28" stroke="#a8e4e2" stroke-width="0.5" stroke-opacity="0.57"/><circle cx="365.7" cy="224.7" r="1.03" fill="#8fd3d3" fill-opacity="0.47" stroke="#a8e4e2" stroke-width="0.5" stroke-opacity="0.94"/><circle cx="369.0" cy="225.3" r="0.98" fill="#8fd3d3" fill-opacity="0.31" stroke="#a8e4e2" stroke-width="0.5" stroke-opacity="0.62"/><circle cx="338.2" cy="227.3" r="0.90" fill="#8fd3d3" fill-opacity="0.32" stroke="#a8e4e2" stroke-width="0.5" stroke-opacity="0.64"/><circle cx="342.7" cy="228.9" r="1.12" fill="#8fd3d3" fill-opacity="0.34" stroke="#a8e4e2" stroke-width="0.5" stroke-opacity="0.68"/><circle cx="361.1" cy="229.0" r="1.09" fill="#8fd3d3" fill-opacity="0.46" stroke="#a8e4e2" stroke-width="0.5" stroke-opacity="0.93"/><circle cx="364.2" cy="228.6" r="0.88" fill="#8fd3d3" fill-opacity="0.48" stroke="#a8e4e2" stroke-width="0.5" stroke-opacity="0.97"/><circle cx="367.6" cy="227.6" r="0.86" fill="#8fd3d3" fill-opacity="0.32" stroke="#a8e4e2" stroke-width="0.5" stroke-opacity="0.65"/><circle cx="337.3" cy="232.0" r="1.04" fill="#8fd3d3" fill-opacity="0.28" stroke="#a8e4e2" stroke-width="0.5" stroke-opacity="0.55"/><circle cx="340.1" cy="231.7" r="1.02" fill="#8fd3d3" fill-opacity="0.37" stroke="#a8e4e2" stroke-width="0.5" stroke-opacity="0.73"/><circle cx="347.4" cy="232.5" r="0.94" fill="#8fd3d3" fill-opacity="0.47" stroke="#a8e4e2" stroke-width="0.5" stroke-opacity="0.94"/><circle cx="362.9" cy="231.0" r="1.10" fill="#8fd3d3" fill-opacity="0.33" stroke="#a8e4e2" stroke-width="0.5" stroke-opacity="0.66"/><circle cx="365.4" cy="232.1" r="1.13" fill="#8fd3d3" fill-opacity="0.28" stroke="#a8e4e2" stroke-width="0.5" stroke-opacity="0.56"/><circle cx="338.5" cy="235.4" r="0.86" fill="#8fd3d3" fill-opacity="0.35" stroke="#a8e4e2" stroke-width="0.5" stroke-opacity="0.71"/><circle cx="342.9" cy="235.6" r="0.87" fill="#8fd3d3" fill-opacity="0.32" stroke="#a8e4e2" stroke-width="0.5" stroke-opacity="0.65"/><circle cx="353.9" cy="235.4" r="0.87" fill="#8fd3d3" fill-opacity="0.47" stroke="#a8e4e2" stroke-width="0.5" stroke-opacity="0.93"/><circle cx="360.7" cy="234.5" r="1.03" fill="#8fd3d3" fill-opacity="0.29" stroke="#a8e4e2" stroke-width="0.5" stroke-opacity="0.57"/><circle cx="363.7" cy="235.0" r="0.95" fill="#8fd3d3" fill-opacity="0.32" stroke="#a8e4e2" stroke-width="0.5" stroke-opacity="0.64"/><circle cx="341.2" cy="236.9" r="0.98" fill="#8fd3d3" fill-opacity="0.45" stroke="#a8e4e2" stroke-width="0.5" stroke-opacity="0.90"/><circle cx="348.4" cy="238.4" r="0.93" fill="#8fd3d3" fill-opacity="0.44" stroke="#a8e4e2" stroke-width="0.5" stroke-opacity="0.88"/><circle cx="351.1" cy="237.2" r="0.87" fill="#8fd3d3" fill-opacity="0.30" stroke="#a8e4e2" stroke-width="0.5" stroke-opacity="0.61"/><circle cx="355.1" cy="238.0" r="0.89" fill="#8fd3d3" fill-opacity="0.46" stroke="#a8e4e2" stroke-width="0.5" stroke-opacity="0.93"/><circle cx="358.4" cy="238.2" r="0.90" fill="#8fd3d3" fill-opacity="0.29" stroke="#a8e4e2" stroke-width="0.5" stroke-opacity="0.59"/><circle cx="363.0" cy="238.7" r="1.06" fill="#8fd3d3" fill-opacity="0.39" stroke="#a8e4e2" stroke-width="0.5" stroke-opacity="0.78"/><circle cx="343.2" cy="241.8" r="1.04" fill="#8fd3d3" fill-opacity="0.39" stroke="#a8e4e2" stroke-width="0.5" stroke-opacity="0.77"/><circle cx="350.8" cy="240.4" r="1.07" fill="#8fd3d3" fill-opacity="0.39" stroke="#a8e4e2" stroke-width="0.5" stroke-opacity="0.77"/><circle cx="353.1" cy="240.5" r="0.90" fill="#8fd3d3" fill-opacity="0.41" stroke="#a8e4e2" stroke-width="0.5" stroke-opacity="0.82"/><circle cx="357.1" cy="241.8" r="1.15" fill="#8fd3d3" fill-opacity="0.35" stroke="#a8e4e2" stroke-width="0.5" stroke-opacity="0.70"/><circle cx="360.5" cy="241.5" r="1.05" fill="#8fd3d3" fill-opacity="0.38" stroke="#a8e4e2" stroke-width="0.5" stroke-opacity="0.75"/><circle cx="344.6" cy="243.2" r="1.05" fill="#8fd3d3" fill-opacity="0.31" stroke="#a8e4e2" stroke-width="0.5" stroke-opacity="0.63"/><circle cx="347.4" cy="243.2" r="0.90" fill="#8fd3d3" fill-opacity="0.43" stroke="#a8e4e2" stroke-width="0.5" stroke-opacity="0.86"/><circle cx="352.8" cy="242.9" r="0.97" fill="#8fd3d3" fill-opacity="0.49" stroke="#a8e4e2" stroke-width="0.5" stroke-opacity="0.97"/><circle cx="354.8" cy="244.6" r="1.05" fill="#8fd3d3" fill-opacity="0.35" stroke="#a8e4e2" stroke-width="0.5" stroke-opacity="0.71"/>
<circle cx="329.7" cy="237.8" r="1.13" fill="#8fd3d3" fill-opacity="0.48" stroke="#a8e4e2" stroke-width="0.5" stroke-opacity="0.95"/><circle cx="332.4" cy="239.1" r="1.12" fill="#8fd3d3" fill-opacity="0.29" stroke="#a8e4e2" stroke-width="0.5" stroke-opacity="0.57"/><circle cx="318.1" cy="241.9" r="1.02" fill="#8fd3d3" fill-opacity="0.43" stroke="#a8e4e2" stroke-width="0.5" stroke-opacity="0.86"/><circle cx="320.3" cy="240.8" r="0.97" fill="#8fd3d3" fill-opacity="0.48" stroke="#a8e4e2" stroke-width="0.5" stroke-opacity="0.96"/><circle cx="325.1" cy="240.5" r="1.10" fill="#8fd3d3" fill-opacity="0.43" stroke="#a8e4e2" stroke-width="0.5" stroke-opacity="0.85"/><circle cx="328.0" cy="241.1" r="1.02" fill="#8fd3d3" fill-opacity="0.46" stroke="#a8e4e2" stroke-width="0.5" stroke-opacity="0.92"/><circle cx="331.7" cy="240.4" r="1.11" fill="#8fd3d3" fill-opacity="0.40" stroke="#a8e4e2" stroke-width="0.5" stroke-opacity="0.80"/><circle cx="334.3" cy="241.7" r="1.06" fill="#8fd3d3" fill-opacity="0.32" stroke="#a8e4e2" stroke-width="0.5" stroke-opacity="0.64"/><circle cx="337.1" cy="242.0" r="0.89" fill="#8fd3d3" fill-opacity="0.46" stroke="#a8e4e2" stroke-width="0.5" stroke-opacity="0.92"/><circle cx="319.4" cy="243.2" r="0.89" fill="#8fd3d3" fill-opacity="0.47" stroke="#a8e4e2" stroke-width="0.5" stroke-opacity="0.93"/><circle cx="325.3" cy="243.7" r="0.99" fill="#8fd3d3" fill-opacity="0.29" stroke="#a8e4e2" stroke-width="0.5" stroke-opacity="0.57"/><circle cx="329.4" cy="244.1" r="1.13" fill="#8fd3d3" fill-opacity="0.49" stroke="#a8e4e2" stroke-width="0.5" stroke-opacity="0.97"/><circle cx="333.3" cy="244.3" r="1.09" fill="#8fd3d3" fill-opacity="0.41" stroke="#a8e4e2" stroke-width="0.5" stroke-opacity="0.81"/><circle cx="335.5" cy="244.5" r="1.04" fill="#8fd3d3" fill-opacity="0.33" stroke="#a8e4e2" stroke-width="0.5" stroke-opacity="0.66"/><circle cx="314.5" cy="246.2" r="0.93" fill="#8fd3d3" fill-opacity="0.31" stroke="#a8e4e2" stroke-width="0.5" stroke-opacity="0.62"/><circle cx="317.4" cy="247.3" r="1.12" fill="#8fd3d3" fill-opacity="0.48" stroke="#a8e4e2" stroke-width="0.5" stroke-opacity="0.97"/><circle cx="325.3" cy="247.5" r="0.99" fill="#8fd3d3" fill-opacity="0.44" stroke="#a8e4e2" stroke-width="0.5" stroke-opacity="0.88"/><circle cx="331.9" cy="246.1" r="0.90" fill="#8fd3d3" fill-opacity="0.47" stroke="#a8e4e2" stroke-width="0.5" stroke-opacity="0.95"/><circle cx="333.7" cy="247.8" r="1.03" fill="#8fd3d3" fill-opacity="0.39" stroke="#a8e4e2" stroke-width="0.5" stroke-opacity="0.78"/><circle cx="338.9" cy="246.8" r="1.09" fill="#8fd3d3" fill-opacity="0.28" stroke="#a8e4e2" stroke-width="0.5" stroke-opacity="0.57"/><circle cx="316.8" cy="250.3" r="1.13" fill="#8fd3d3" fill-opacity="0.34" stroke="#a8e4e2" stroke-width="0.5" stroke-opacity="0.68"/><circle cx="320.2" cy="249.2" r="1.09" fill="#8fd3d3" fill-opacity="0.48" stroke="#a8e4e2" stroke-width="0.5" stroke-opacity="0.97"/><circle cx="323.1" cy="250.2" r="0.94" fill="#8fd3d3" fill-opacity="0.46" stroke="#a8e4e2" stroke-width="0.5" stroke-opacity="0.92"/><circle cx="326.1" cy="249.9" r="0.96" fill="#8fd3d3" fill-opacity="0.31" stroke="#a8e4e2" stroke-width="0.5" stroke-opacity="0.62"/><circle cx="328.9" cy="249.3" r="1.13" fill="#8fd3d3" fill-opacity="0.36" stroke="#a8e4e2" stroke-width="0.5" stroke-opacity="0.73"/><circle cx="336.6" cy="249.5" r="1.10" fill="#8fd3d3" fill-opacity="0.46" stroke="#a8e4e2" stroke-width="0.5" stroke-opacity="0.92"/><circle cx="339.6" cy="249.6" r="1.09" fill="#8fd3d3" fill-opacity="0.43" stroke="#a8e4e2" stroke-width="0.5" stroke-opacity="0.86"/><circle cx="314.2" cy="252.4" r="1.12" fill="#8fd3d3" fill-opacity="0.38" stroke="#a8e4e2" stroke-width="0.5" stroke-opacity="0.76"/><circle cx="316.7" cy="253.7" r="0.97" fill="#8fd3d3" fill-opacity="0.49" stroke="#a8e4e2" stroke-width="0.5" stroke-opacity="0.99"/><circle cx="320.2" cy="252.8" r="1.06" fill="#8fd3d3" fill-opacity="0.48" stroke="#a8e4e2" stroke-width="0.5" stroke-opacity="0.96"/><circle cx="324.8" cy="252.6" r="1.01" fill="#8fd3d3" fill-opacity="0.42" stroke="#a8e4e2" stroke-width="0.5" stroke-opacity="0.84"/><circle cx="326.9" cy="252.2" r="0.96" fill="#8fd3d3" fill-opacity="0.49" stroke="#a8e4e2" stroke-width="0.5" stroke-opacity="0.97"/><circle cx="334.3" cy="252.2" r="0.87" fill="#8fd3d3" fill-opacity="0.31" stroke="#a8e4e2" stroke-width="0.5" stroke-opacity="0.61"/><circle cx="338.2" cy="253.1" r="1.01" fill="#8fd3d3" fill-opacity="0.46" stroke="#a8e4e2" stroke-width="0.5" stroke-opacity="0.91"/><circle cx="315.5" cy="255.6" r="0.95" fill="#8fd3d3" fill-opacity="0.33" stroke="#a8e4e2" stroke-width="0.5" stroke-opacity="0.66"/><circle cx="318.5" cy="255.1" r="1.07" fill="#8fd3d3" fill-opacity="0.42" stroke="#a8e4e2" stroke-width="0.5" stroke-opacity="0.85"/><circle cx="322.1" cy="256.3" r="1.04" fill="#8fd3d3" fill-opacity="0.29" stroke="#a8e4e2" stroke-width="0.5" stroke-opacity="0.59"/><circle cx="326.3" cy="256.1" r="1.09" fill="#8fd3d3" fill-opacity="0.41" stroke="#a8e4e2" stroke-width="0.5" stroke-opacity="0.82"/><circle cx="329.3" cy="256.2" r="0.90" fill="#8fd3d3" fill-opacity="0.33" stroke="#a8e4e2" stroke-width="0.5" stroke-opacity="0.65"/><circle cx="337.0" cy="255.2" r="0.97" fill="#8fd3d3" fill-opacity="0.44" stroke="#a8e4e2" stroke-width="0.5" stroke-opacity="0.89"/><circle cx="317.8" cy="258.8" r="0.98" fill="#8fd3d3" fill-opacity="0.30" stroke="#a8e4e2" stroke-width="0.5" stroke-opacity="0.60"/><circle cx="320.4" cy="258.1" r="0.95" fill="#8fd3d3" fill-opacity="0.45" stroke="#a8e4e2" stroke-width="0.5" stroke-opacity="0.91"/><circle cx="323.8" cy="258.7" r="1.08" fill="#8fd3d3" fill-opacity="0.32" stroke="#a8e4e2" stroke-width="0.5" stroke-opacity="0.64"/><circle cx="332.0" cy="258.9" r="0.88" fill="#8fd3d3" fill-opacity="0.29" stroke="#a8e4e2" stroke-width="0.5" stroke-opacity="0.58"/><circle cx="325.3" cy="261.4" r="1.09" fill="#8fd3d3" fill-opacity="0.28" stroke="#a8e4e2" stroke-width="0.5" stroke-opacity="0.56"/><circle cx="330.1" cy="261.1" r="0.91" fill="#8fd3d3" fill-opacity="0.35" stroke="#a8e4e2" stroke-width="0.5" stroke-opacity="0.71"/>
<ellipse cx="353" cy="226.7" rx="18.4" ry="22.2" transform="rotate(8 353 226.7)" fill="none" stroke="#9e1a1f" stroke-width="0.65"/>
<ellipse cx="327" cy="249" rx="16.4" ry="14.4" transform="rotate(-32 327 249)" fill="none" stroke="#9e1a1f" stroke-width="0.65"/>
<rect x="379.2" y="190.0" width="67.8" height="88.4" fill="#1b1b1b"/>
<clipPath id="netc2"><ellipse cx="425.1" cy="226.7" rx="16.59" ry="19.76" transform="rotate(8 425.1 226.7)"/></clipPath>
<g clip-path="url(#netc2)"><path d="M441.1,229.0 L440.4,232.2 L439.2,235.4 L437.6,238.2 L435.7,240.7 L433.3,242.8 L430.8,244.4 L428.1,245.5 L425.2,246.0 L422.4,245.9 L419.7,245.2 L417.1,243.9 L414.7,242.2 L412.7,239.9 L411.1,237.3 L409.9,234.3 L409.1,231.1 L408.8,227.8 L409.1,224.4 L409.8,221.2 L411.0,218.0 L412.6,215.2 L414.5,212.7 L416.9,210.6 L419.4,209.0 L422.1,207.9 L425.0,207.4 L427.8,207.5 L430.5,208.2 L433.1,209.5 L435.5,211.2 L437.5,213.5 L439.1,216.1 L440.3,219.1 L441.1,222.3 L441.4,225.6 L441.1,229.0 M434.2,234.8 L437.3,229.5 M434.5,235.2 L446.7,241.5 M437.3,229.5 L449.6,233.9 M437.0,229.0 L437.3,229.5 M440.0,248.1 L433.2,238.8 M426.2,208.3 L424.7,210.9 M424.0,201.7 L421.1,210.1 M421.1,210.1 L424.7,210.9 M427.3,257.8 L427.1,244.8 M421.2,245.8 L424.1,243.0 M421.2,245.8 L422.7,258.2 M424.1,243.0 L427.1,244.8 M440.0,248.1 L430.1,242.5 M429.3,239.8 L430.1,242.5 M424.1,243.0 L424.1,241.0 M410.5,229.1 L398.6,232.1 M410.5,229.1 L412.3,231.7 M412.3,231.7 L412.5,232.4 M398.6,232.5 L411.7,235.0 M411.7,235.0 L412.5,232.4 M402.9,208.6 L412.0,216.1 M412.0,216.1 L407.8,221.3 M412.2,210.8 L415.4,215.3 M412.2,210.8 L417.5,209.8 M415.4,215.3 L418.8,213.7 M418.8,213.7 L418.9,211.7 M417.5,209.8 L418.9,211.7 M412.0,216.1 L414.9,216.0 M414.9,216.0 L415.4,215.3 M413.6,197.9 L417.5,209.8 M421.1,210.1 L418.9,211.7 M426.2,208.3 L430.8,210.8 M430.8,210.8 L431.3,210.4 M409.6,244.2 L419.5,244.4 M411.7,235.0 L412.2,240.3 M414.9,216.0 L415.2,219.5 M407.9,221.4 L414.0,221.1 M415.2,219.5 L414.0,221.1 M411.0,227.6 L415.4,225.4 M414.0,221.1 L415.4,225.4 M412.3,231.7 L418.0,228.7 M418.0,228.7 L415.9,225.5 M415.4,225.4 L415.9,225.5 M430.2,212.2 L433.5,216.2 M430.2,212.2 L430.8,210.8 M431.3,210.4 L439.6,212.2 M424.7,210.9 L425.5,213.2 M418.8,213.7 L421.9,216.2 M421.9,216.2 L425.5,213.2 M430.2,212.2 L428.6,213.6 M429.0,219.9 L428.8,219.8 M429.0,219.9 L432.6,218.8 M432.6,218.8 L433.5,216.2 M428.8,219.8 L428.6,213.6 M428.6,213.6 L425.5,213.2 M431.3,225.2 L429.3,223.3 M412.2,240.3 L414.1,239.5 M414.1,239.5 L419.7,240.7 M421.3,239.5 L419.7,240.7 M420.1,222.6 L420.4,221.1 M420.1,222.6 L421.6,224.8 M421.6,224.8 L424.6,225.1 M420.4,221.1 L422.7,218.7 M422.7,218.7 L423.9,219.2 M415.2,219.5 L420.4,221.1 M428.8,219.8 L423.9,219.2 M421.9,216.2 L422.7,218.7 M435.6,220.3 L438.8,218.6 M435.6,220.3 L435.8,223.1 M437.6,224.8 L440.4,223.7 M440.4,223.7 L441.1,221.4 M432.6,218.8 L435.6,220.3 M440.1,212.1 L438.8,218.6 M431.3,225.2 L435.8,223.1 M452.0,218.7 L441.1,221.4 M437.0,229.0 L437.6,224.8 M449.8,233.3 L440.4,223.7 M421.6,224.8 L420.6,229.0 M412.5,232.4 L419.4,234.0 M414.1,239.5 L419.5,234.3" fill="none" stroke="#d8e0e0" stroke-width="2.0" stroke-opacity="0.42" filter="url(#blur04)"/>
<path d="M441.1,229.0 L440.4,232.2 L439.2,235.4 L437.6,238.2 L435.7,240.7 L433.3,242.8 L430.8,244.4 L428.1,245.5 L425.2,246.0 L422.4,245.9 L419.7,245.2 L417.1,243.9 L414.7,242.2 L412.7,239.9 L411.1,237.3 L409.9,234.3 L409.1,231.1 L408.8,227.8 L409.1,224.4 L409.8,221.2 L411.0,218.0 L412.6,215.2 L414.5,212.7 L416.9,210.6 L419.4,209.0 L422.1,207.9 L425.0,207.4 L427.8,207.5 L430.5,208.2 L433.1,209.5 L435.5,211.2 L437.5,213.5 L439.1,216.1 L440.3,219.1 L441.1,222.3 L441.4,225.6 L441.1,229.0 M434.2,234.8 L437.3,229.5 M434.5,235.2 L446.7,241.5 M437.3,229.5 L449.6,233.9 M437.0,229.0 L437.3,229.5 M440.0,248.1 L433.2,238.8 M426.2,208.3 L424.7,210.9 M424.0,201.7 L421.1,210.1 M421.1,210.1 L424.7,210.9 M427.3,257.8 L427.1,244.8 M421.2,245.8 L424.1,243.0 M421.2,245.8 L422.7,258.2 M424.1,243.0 L427.1,244.8 M440.0,248.1 L430.1,242.5 M429.3,239.8 L430.1,242.5 M424.1,243.0 L424.1,241.0 M410.5,229.1 L398.6,232.1 M410.5,229.1 L412.3,231.7 M412.3,231.7 L412.5,232.4 M398.6,232.5 L411.7,235.0 M411.7,235.0 L412.5,232.4 M402.9,208.6 L412.0,216.1 M412.0,216.1 L407.8,221.3 M412.2,210.8 L415.4,215.3 M412.2,210.8 L417.5,209.8 M415.4,215.3 L418.8,213.7 M418.8,213.7 L418.9,211.7 M417.5,209.8 L418.9,211.7 M412.0,216.1 L414.9,216.0 M414.9,216.0 L415.4,215.3 M413.6,197.9 L417.5,209.8 M421.1,210.1 L418.9,211.7 M426.2,208.3 L430.8,210.8 M430.8,210.8 L431.3,210.4 M409.6,244.2 L419.5,244.4 M411.7,235.0 L412.2,240.3 M414.9,216.0 L415.2,219.5 M407.9,221.4 L414.0,221.1 M415.2,219.5 L414.0,221.1 M411.0,227.6 L415.4,225.4 M414.0,221.1 L415.4,225.4 M412.3,231.7 L418.0,228.7 M418.0,228.7 L415.9,225.5 M415.4,225.4 L415.9,225.5 M430.2,212.2 L433.5,216.2 M430.2,212.2 L430.8,210.8 M431.3,210.4 L439.6,212.2 M424.7,210.9 L425.5,213.2 M418.8,213.7 L421.9,216.2 M421.9,216.2 L425.5,213.2 M430.2,212.2 L428.6,213.6 M429.0,219.9 L428.8,219.8 M429.0,219.9 L432.6,218.8 M432.6,218.8 L433.5,216.2 M428.8,219.8 L428.6,213.6 M428.6,213.6 L425.5,213.2 M431.3,225.2 L429.3,223.3 M412.2,240.3 L414.1,239.5 M414.1,239.5 L419.7,240.7 M421.3,239.5 L419.7,240.7 M420.1,222.6 L420.4,221.1 M420.1,222.6 L421.6,224.8 M421.6,224.8 L424.6,225.1 M420.4,221.1 L422.7,218.7 M422.7,218.7 L423.9,219.2 M415.2,219.5 L420.4,221.1 M428.8,219.8 L423.9,219.2 M421.9,216.2 L422.7,218.7 M435.6,220.3 L438.8,218.6 M435.6,220.3 L435.8,223.1 M437.6,224.8 L440.4,223.7 M440.4,223.7 L441.1,221.4 M432.6,218.8 L435.6,220.3 M440.1,212.1 L438.8,218.6 M431.3,225.2 L435.8,223.1 M452.0,218.7 L441.1,221.4 M437.0,229.0 L437.6,224.8 M449.8,233.3 L440.4,223.7 M421.6,224.8 L420.6,229.0 M412.5,232.4 L419.4,234.0 M414.1,239.5 L419.5,234.3" fill="none" stroke="#f0302a" stroke-width="0.85" stroke-linejoin="round"/></g>
<clipPath id="netc3"><ellipse cx="398" cy="249" rx="14.50" ry="12.61" transform="rotate(-32 398 249)"/></clipPath>
<g clip-path="url(#netc3)"><path d="M410.0,241.5 L410.9,243.4 L411.5,245.5 L411.6,247.7 L411.3,249.9 L410.6,252.1 L409.6,254.2 L408.2,256.2 L406.5,257.9 L404.5,259.4 L402.3,260.5 L400.0,261.3 L397.6,261.7 L395.3,261.7 L393.0,261.4 L390.9,260.7 L389.0,259.6 L387.3,258.2 L386.0,256.5 L385.1,254.6 L384.5,252.5 L384.4,250.3 L384.7,248.1 L385.4,245.9 L386.4,243.8 L387.8,241.8 L389.5,240.1 L391.5,238.6 L393.7,237.5 L396.0,236.7 L398.4,236.3 L400.7,236.3 L403.0,236.6 L405.1,237.3 L407.0,238.4 L408.7,239.8 L410.0,241.5 M377.3,244.1 L385.4,247.4 M376.0,255.7 L387.9,252.0 M385.4,247.4 L387.9,252.0 M389.0,255.3 L379.9,263.3 M389.0,255.3 L389.0,252.5 M389.0,252.5 L387.9,252.0 M396.4,247.7 L399.6,247.3 M399.6,247.3 L400.9,248.2 M396.5,252.2 L398.6,253.1 M398.6,253.1 L400.8,250.6 M396.4,247.7 L396.5,252.2 M400.9,248.2 L400.8,250.6 M399.1,242.7 L401.7,241.0 M399.6,247.3 L399.1,242.7 M405.0,246.7 L400.9,248.2 M404.9,245.1 L401.7,241.0 M389.0,255.3 L391.7,258.0 M405.0,255.5 L402.3,256.3 M405.0,255.5 L412.9,260.2 M402.3,268.1 L399.6,259.7 M402.3,256.3 L399.6,259.7 M404.4,253.5 L400.8,250.6 M405.0,255.5 L404.4,253.5 M398.6,253.1 L398.6,253.7 M402.3,256.3 L398.6,253.7 M380.8,237.8 L389.2,242.7 M389.2,242.7 L388.3,246.0 M391.5,251.3 L392.6,248.0 M388.3,246.0 L392.6,248.0 M396.5,252.2 L393.7,252.6 M393.7,252.6 L391.5,251.3 M393.7,246.9 L392.6,248.0 M397.4,237.6 L396.7,242.0 M397.4,237.6 L392.4,238.8 M396.7,242.0 L393.7,242.7 M392.7,241.8 L393.7,242.7 M398.9,235.7 L397.4,237.6 M399.1,242.7 L396.7,242.0 M401.7,241.0 L402.4,238.9 M388.5,231.5 L392.4,238.8 M393.7,246.9 L393.7,242.7 M389.2,242.7 L392.7,241.8 M406.8,239.1 L402.6,238.9 M402.6,238.9 L407.8,228.1 M404.9,245.1 L407.8,241.3 M402.4,238.9 L402.6,238.9 M407.8,241.3 L406.8,239.1 M407.8,241.3 L411.1,242.7 M415.4,253.8 L410.2,245.9 M410.2,245.9 L405.1,246.7 M406.4,249.5 L405.1,246.7 M411.1,242.7 L410.2,245.9 M404.4,253.5 L406.4,249.5 M405.0,246.7 L405.1,246.7 M394.7,256.7 L396.7,257.2 M394.7,256.7 L392.3,257.9 M392.3,257.9 L394.8,261.3 M394.8,261.3 L397.2,258.0 M397.2,258.0 L396.7,257.2 M393.7,252.6 L394.7,256.7 M398.6,253.7 L396.7,257.2 M391.7,258.0 L392.3,257.9 M394.4,269.8 L394.8,261.3" fill="none" stroke="#d8e0e0" stroke-width="2.0" stroke-opacity="0.42" filter="url(#blur04)"/>
<path d="M410.0,241.5 L410.9,243.4 L411.5,245.5 L411.6,247.7 L411.3,249.9 L410.6,252.1 L409.6,254.2 L408.2,256.2 L406.5,257.9 L404.5,259.4 L402.3,260.5 L400.0,261.3 L397.6,261.7 L395.3,261.7 L393.0,261.4 L390.9,260.7 L389.0,259.6 L387.3,258.2 L386.0,256.5 L385.1,254.6 L384.5,252.5 L384.4,250.3 L384.7,248.1 L385.4,245.9 L386.4,243.8 L387.8,241.8 L389.5,240.1 L391.5,238.6 L393.7,237.5 L396.0,236.7 L398.4,236.3 L400.7,236.3 L403.0,236.6 L405.1,237.3 L407.0,238.4 L408.7,239.8 L410.0,241.5 M377.3,244.1 L385.4,247.4 M376.0,255.7 L387.9,252.0 M385.4,247.4 L387.9,252.0 M389.0,255.3 L379.9,263.3 M389.0,255.3 L389.0,252.5 M389.0,252.5 L387.9,252.0 M396.4,247.7 L399.6,247.3 M399.6,247.3 L400.9,248.2 M396.5,252.2 L398.6,253.1 M398.6,253.1 L400.8,250.6 M396.4,247.7 L396.5,252.2 M400.9,248.2 L400.8,250.6 M399.1,242.7 L401.7,241.0 M399.6,247.3 L399.1,242.7 M405.0,246.7 L400.9,248.2 M404.9,245.1 L401.7,241.0 M389.0,255.3 L391.7,258.0 M405.0,255.5 L402.3,256.3 M405.0,255.5 L412.9,260.2 M402.3,268.1 L399.6,259.7 M402.3,256.3 L399.6,259.7 M404.4,253.5 L400.8,250.6 M405.0,255.5 L404.4,253.5 M398.6,253.1 L398.6,253.7 M402.3,256.3 L398.6,253.7 M380.8,237.8 L389.2,242.7 M389.2,242.7 L388.3,246.0 M391.5,251.3 L392.6,248.0 M388.3,246.0 L392.6,248.0 M396.5,252.2 L393.7,252.6 M393.7,252.6 L391.5,251.3 M393.7,246.9 L392.6,248.0 M397.4,237.6 L396.7,242.0 M397.4,237.6 L392.4,238.8 M396.7,242.0 L393.7,242.7 M392.7,241.8 L393.7,242.7 M398.9,235.7 L397.4,237.6 M399.1,242.7 L396.7,242.0 M401.7,241.0 L402.4,238.9 M388.5,231.5 L392.4,238.8 M393.7,246.9 L393.7,242.7 M389.2,242.7 L392.7,241.8 M406.8,239.1 L402.6,238.9 M402.6,238.9 L407.8,228.1 M404.9,245.1 L407.8,241.3 M402.4,238.9 L402.6,238.9 M407.8,241.3 L406.8,239.1 M407.8,241.3 L411.1,242.7 M415.4,253.8 L410.2,245.9 M410.2,245.9 L405.1,246.7 M406.4,249.5 L405.1,246.7 M411.1,242.7 L410.2,245.9 M404.4,253.5 L406.4,249.5 M405.0,246.7 L405.1,246.7 M394.7,256.7 L396.7,257.2 M394.7,256.7 L392.3,257.9 M392.3,257.9 L394.8,261.3 M394.8,261.3 L397.2,258.0 M397.2,258.0 L396.7,257.2 M393.7,252.6 L394.7,256.7 M398.6,253.7 L396.7,257.2 M391.7,258.0 L392.3,257.9 M394.4,269.8 L394.8,261.3" fill="none" stroke="#f0302a" stroke-width="0.85" stroke-linejoin="round"/></g>
<ellipse cx="425.1" cy="226.7" rx="18.6" ry="22.4" transform="rotate(8 425.1 226.7)" fill="none" stroke="#9e1a1f" stroke-width="0.65"/>
<ellipse cx="398" cy="249" rx="16.6" ry="14.6" transform="rotate(-32 398 249)" fill="none" stroke="#9e1a1f" stroke-width="0.65"/>
<clipPath id="clip31"><rect x="453.2" y="190.0" width="67.8" height="88.4"/></clipPath>
<g clip-path="url(#clip31)"><rect x="453.2" y="190.0" width="67.8" height="88.4" fill="url(#bfbg4)"/>
<ellipse cx="477.8" cy="220.4" rx="22.3" ry="25.8" transform="rotate(-5 477.8 220.4)" fill="none" stroke="#b0b0b0" stroke-opacity="0.2" stroke-width="1.4"/>
<ellipse cx="477.8" cy="220.4" rx="20.7" ry="24.2" transform="rotate(-5 477.8 220.4)" fill="url(#bfcell)" filter="url(#mott)"/>
<ellipse cx="477.8" cy="220.4" rx="20.2" ry="23.7" transform="rotate(-5 477.8 220.4)" fill="none" stroke="url(#dic)" stroke-width="1.9"/>
<ellipse cx="477.8" cy="220.4" rx="21.0" ry="24.5" transform="rotate(-5 477.8 220.4)" fill="none" stroke="#a82028" stroke-width="0.5" stroke-opacity="0.75"/>
<ellipse cx="498.6" cy="254.8" rx="19.700000000000003" ry="19.0" transform="rotate(-10 498.6 254.8)" fill="none" stroke="#b0b0b0" stroke-opacity="0.2" stroke-width="1.4"/>
<ellipse cx="498.6" cy="254.8" rx="18.1" ry="17.4" transform="rotate(-10 498.6 254.8)" fill="url(#bfcell)" filter="url(#mott)"/>
<ellipse cx="498.6" cy="254.8" rx="17.6" ry="16.9" transform="rotate(-10 498.6 254.8)" fill="none" stroke="url(#dic)" stroke-width="1.9"/>
<ellipse cx="498.6" cy="254.8" rx="18.400000000000002" ry="17.7" transform="rotate(-10 498.6 254.8)" fill="none" stroke="#a82028" stroke-width="0.5" stroke-opacity="0.75"/>
</g>
<rect x="525" y="190.0" width="67.3" height="88.4" fill="#0f0f0f"/>
<circle cx="543.9" cy="199.5" r="1.16" fill="#8fd3d3" fill-opacity="0.33" stroke="#a8e4e2" stroke-width="0.5" stroke-opacity="0.66"/><circle cx="547.3" cy="198.9" r="1.04" fill="#8fd3d3" fill-opacity="0.34" stroke="#a8e4e2" stroke-width="0.5" stroke-opacity="0.68"/><circle cx="553.1" cy="199.7" r="1.05" fill="#8fd3d3" fill-opacity="0.44" stroke="#a8e4e2" stroke-width="0.5" stroke-opacity="0.88"/><circle cx="540.9" cy="202.0" r="0.94" fill="#8fd3d3" fill-opacity="0.45" stroke="#a8e4e2" stroke-width="0.5" stroke-opacity="0.89"/><circle cx="544.9" cy="203.1" r="1.15" fill="#8fd3d3" fill-opacity="0.33" stroke="#a8e4e2" stroke-width="0.5" stroke-opacity="0.66"/><circle cx="549.9" cy="203.5" r="1.04" fill="#8fd3d3" fill-opacity="0.33" stroke="#a8e4e2" stroke-width="0.5" stroke-opacity="0.67"/><circle cx="555.5" cy="203.5" r="0.94" fill="#8fd3d3" fill-opacity="0.45" stroke="#a8e4e2" stroke-width="0.5" stroke-opacity="0.90"/><circle cx="560.3" cy="203.9" r="1.09" fill="#8fd3d3" fill-opacity="0.43" stroke="#a8e4e2" stroke-width="0.5" stroke-opacity="0.87"/><circle cx="535.0" cy="206.2" r="1.09" fill="#8fd3d3" fill-opacity="0.38" stroke="#a8e4e2" stroke-width="0.5" stroke-opacity="0.76"/><circle cx="537.6" cy="206.4" r="1.18" fill="#8fd3d3" fill-opacity="0.43" stroke="#a8e4e2" stroke-width="0.5" stroke-opacity="0.86"/><circle cx="546.5" cy="206.1" r="1.04" fill="#8fd3d3" fill-opacity="0.41" stroke="#a8e4e2" stroke-width="0.5" stroke-opacity="0.81"/><circle cx="550.8" cy="205.8" r="1.03" fill="#8fd3d3" fill-opacity="0.37" stroke="#a8e4e2" stroke-width="0.5" stroke-opacity="0.74"/><circle cx="561.3" cy="206.9" r="0.95" fill="#8fd3d3" fill-opacity="0.29" stroke="#a8e4e2" stroke-width="0.5" stroke-opacity="0.57"/><circle cx="535.3" cy="210.3" r="1.07" fill="#8fd3d3" fill-opacity="0.41" stroke="#a8e4e2" stroke-width="0.5" stroke-opacity="0.82"/><circle cx="563.2" cy="210.0" r="0.98" fill="#8fd3d3" fill-opacity="0.39" stroke="#a8e4e2" stroke-width="0.5" stroke-opacity="0.78"/><circle cx="562.3" cy="214.7" r="1.16" fill="#8fd3d3" fill-opacity="0.33" stroke="#a8e4e2" stroke-width="0.5" stroke-opacity="0.66"/><circle cx="565.0" cy="214.5" r="0.95" fill="#8fd3d3" fill-opacity="0.30" stroke="#a8e4e2" stroke-width="0.5" stroke-opacity="0.59"/><circle cx="534.9" cy="218.8" r="1.03" fill="#8fd3d3" fill-opacity="0.46" stroke="#a8e4e2" stroke-width="0.5" stroke-opacity="0.93"/><circle cx="563.2" cy="217.8" r="1.11" fill="#8fd3d3" fill-opacity="0.36" stroke="#a8e4e2" stroke-width="0.5" stroke-opacity="0.72"/><circle cx="567.1" cy="219.0" r="0.96" fill="#8fd3d3" fill-opacity="0.31" stroke="#a8e4e2" stroke-width="0.5" stroke-opacity="0.62"/><circle cx="534.7" cy="223.4" r="1.20" fill="#8fd3d3" fill-opacity="0.33" stroke="#a8e4e2" stroke-width="0.5" stroke-opacity="0.67"/><circle cx="562.2" cy="223.3" r="1.19" fill="#8fd3d3" fill-opacity="0.30" stroke="#a8e4e2" stroke-width="0.5" stroke-opacity="0.59"/><circle cx="564.6" cy="223.1" r="0.97" fill="#8fd3d3" fill-opacity="0.34" stroke="#a8e4e2" stroke-width="0.5" stroke-opacity="0.68"/><circle cx="535.0" cy="225.7" r="1.08" fill="#8fd3d3" fill-opacity="0.49" stroke="#a8e4e2" stroke-width="0.5" stroke-opacity="0.98"/><circle cx="541.3" cy="225.8" r="1.08" fill="#8fd3d3" fill-opacity="0.40" stroke="#a8e4e2" stroke-width="0.5" stroke-opacity="0.80"/><circle cx="559.7" cy="226.9" r="1.25" fill="#8fd3d3" fill-opacity="0.29" stroke="#a8e4e2" stroke-width="0.5" stroke-opacity="0.57"/><circle cx="564.8" cy="225.5" r="1.02" fill="#8fd3d3" fill-opacity="0.46" stroke="#a8e4e2" stroke-width="0.5" stroke-opacity="0.92"/><circle cx="537.1" cy="231.7" r="0.98" fill="#8fd3d3" fill-opacity="0.36" stroke="#a8e4e2" stroke-width="0.5" stroke-opacity="0.73"/><circle cx="543.5" cy="230.0" r="1.14" fill="#8fd3d3" fill-opacity="0.36" stroke="#a8e4e2" stroke-width="0.5" stroke-opacity="0.72"/><circle cx="553.2" cy="231.9" r="1.05" fill="#8fd3d3" fill-opacity="0.31" stroke="#a8e4e2" stroke-width="0.5" stroke-opacity="0.62"/><circle cx="540.0" cy="234.4" r="1.13" fill="#8fd3d3" fill-opacity="0.50" stroke="#a8e4e2" stroke-width="0.5" stroke-opacity="0.99"/><circle cx="544.2" cy="235.5" r="1.20" fill="#8fd3d3" fill-opacity="0.46" stroke="#a8e4e2" stroke-width="0.5" stroke-opacity="0.91"/><circle cx="549.7" cy="235.1" r="0.98" fill="#8fd3d3" fill-opacity="0.48" stroke="#a8e4e2" stroke-width="0.5" stroke-opacity="0.96"/><circle cx="553.3" cy="235.7" r="1.03" fill="#8fd3d3" fill-opacity="0.46" stroke="#a8e4e2" stroke-width="0.5" stroke-opacity="0.92"/><circle cx="557.9" cy="233.4" r="1.10" fill="#8fd3d3" fill-opacity="0.44" stroke="#a8e4e2" stroke-width="0.5" stroke-opacity="0.88"/><circle cx="543.0" cy="238.1" r="1.02" fill="#8fd3d3" fill-opacity="0.49" stroke="#a8e4e2" stroke-width="0.5" stroke-opacity="0.98"/><circle cx="547.5" cy="239.7" r="1.03" fill="#8fd3d3" fill-opacity="0.29" stroke="#a8e4e2" stroke-width="0.5" stroke-opacity="0.58"/><circle cx="552.0" cy="237.3" r="0.95" fill="#8fd3d3" fill-opacity="0.43" stroke="#a8e4e2" stroke-width="0.5" stroke-opacity="0.85"/><circle cx="556.0" cy="238.6" r="1.16" fill="#8fd3d3" fill-opacity="0.48" stroke="#a8e4e2" stroke-width="0.5" stroke-opacity="0.97"/>
<circle cx="569.0" cy="239.4" r="1.05" fill="#8fd3d3" fill-opacity="0.49" stroke="#a8e4e2" stroke-width="0.5" stroke-opacity="0.98"/><circle cx="573.0" cy="241.0" r="1.20" fill="#8fd3d3" fill-opacity="0.38" stroke="#a8e4e2" stroke-width="0.5" stroke-opacity="0.77"/><circle cx="562.7" cy="243.1" r="0.98" fill="#8fd3d3" fill-opacity="0.36" stroke="#a8e4e2" stroke-width="0.5" stroke-opacity="0.72"/><circle cx="571.8" cy="244.1" r="1.10" fill="#8fd3d3" fill-opacity="0.34" stroke="#a8e4e2" stroke-width="0.5" stroke-opacity="0.67"/><circle cx="574.8" cy="243.4" r="1.02" fill="#8fd3d3" fill-opacity="0.36" stroke="#a8e4e2" stroke-width="0.5" stroke-opacity="0.72"/><circle cx="578.9" cy="242.8" r="1.12" fill="#8fd3d3" fill-opacity="0.30" stroke="#a8e4e2" stroke-width="0.5" stroke-opacity="0.60"/><circle cx="557.0" cy="246.5" r="1.21" fill="#8fd3d3" fill-opacity="0.44" stroke="#a8e4e2" stroke-width="0.5" stroke-opacity="0.88"/><circle cx="568.2" cy="246.1" r="1.20" fill="#8fd3d3" fill-opacity="0.50" stroke="#a8e4e2" stroke-width="0.5" stroke-opacity="1.00"/><circle cx="577.9" cy="246.3" r="1.02" fill="#8fd3d3" fill-opacity="0.35" stroke="#a8e4e2" stroke-width="0.5" stroke-opacity="0.71"/><circle cx="581.3" cy="247.6" r="1.24" fill="#8fd3d3" fill-opacity="0.47" stroke="#a8e4e2" stroke-width="0.5" stroke-opacity="0.95"/><circle cx="554.8" cy="252.0" r="1.25" fill="#8fd3d3" fill-opacity="0.50" stroke="#a8e4e2" stroke-width="0.5" stroke-opacity="0.99"/><circle cx="558.5" cy="250.7" r="1.03" fill="#8fd3d3" fill-opacity="0.48" stroke="#a8e4e2" stroke-width="0.5" stroke-opacity="0.97"/><circle cx="563.5" cy="249.6" r="1.23" fill="#8fd3d3" fill-opacity="0.47" stroke="#a8e4e2" stroke-width="0.5" stroke-opacity="0.95"/><circle cx="568.3" cy="251.6" r="1.16" fill="#8fd3d3" fill-opacity="0.48" stroke="#a8e4e2" stroke-width="0.5" stroke-opacity="0.97"/><circle cx="571.6" cy="250.5" r="0.94" fill="#8fd3d3" fill-opacity="0.46" stroke="#a8e4e2" stroke-width="0.5" stroke-opacity="0.91"/><circle cx="574.4" cy="249.5" r="1.22" fill="#8fd3d3" fill-opacity="0.39" stroke="#a8e4e2" stroke-width="0.5" stroke-opacity="0.78"/><circle cx="579.4" cy="250.9" r="1.21" fill="#8fd3d3" fill-opacity="0.39" stroke="#a8e4e2" stroke-width="0.5" stroke-opacity="0.79"/><circle cx="556.9" cy="254.1" r="1.01" fill="#8fd3d3" fill-opacity="0.37" stroke="#a8e4e2" stroke-width="0.5" stroke-opacity="0.74"/><circle cx="564.0" cy="253.2" r="0.94" fill="#8fd3d3" fill-opacity="0.38" stroke="#a8e4e2" stroke-width="0.5" stroke-opacity="0.76"/><circle cx="569.2" cy="255.0" r="1.06" fill="#8fd3d3" fill-opacity="0.38" stroke="#a8e4e2" stroke-width="0.5" stroke-opacity="0.76"/><circle cx="572.7" cy="255.4" r="1.06" fill="#8fd3d3" fill-opacity="0.28" stroke="#a8e4e2" stroke-width="0.5" stroke-opacity="0.56"/><circle cx="577.0" cy="253.4" r="1.15" fill="#8fd3d3" fill-opacity="0.50" stroke="#a8e4e2" stroke-width="0.5" stroke-opacity="1.00"/><circle cx="582.3" cy="254.5" r="1.03" fill="#8fd3d3" fill-opacity="0.33" stroke="#a8e4e2" stroke-width="0.5" stroke-opacity="0.65"/><circle cx="559.3" cy="257.6" r="1.15" fill="#8fd3d3" fill-opacity="0.38" stroke="#a8e4e2" stroke-width="0.5" stroke-opacity="0.75"/><circle cx="563.8" cy="257.0" r="0.95" fill="#8fd3d3" fill-opacity="0.37" stroke="#a8e4e2" stroke-width="0.5" stroke-opacity="0.74"/><circle cx="566.6" cy="258.1" r="1.12" fill="#8fd3d3" fill-opacity="0.49" stroke="#a8e4e2" stroke-width="0.5" stroke-opacity="0.97"/><circle cx="570.6" cy="259.0" r="1.20" fill="#8fd3d3" fill-opacity="0.40" stroke="#a8e4e2" stroke-width="0.5" stroke-opacity="0.80"/><circle cx="575.5" cy="258.2" r="1.16" fill="#8fd3d3" fill-opacity="0.39" stroke="#a8e4e2" stroke-width="0.5" stroke-opacity="0.77"/><circle cx="580.9" cy="257.1" r="1.07" fill="#8fd3d3" fill-opacity="0.44" stroke="#a8e4e2" stroke-width="0.5" stroke-opacity="0.87"/><circle cx="556.0" cy="261.8" r="1.13" fill="#8fd3d3" fill-opacity="0.50" stroke="#a8e4e2" stroke-width="0.5" stroke-opacity="0.99"/><circle cx="560.1" cy="262.6" r="0.95" fill="#8fd3d3" fill-opacity="0.42" stroke="#a8e4e2" stroke-width="0.5" stroke-opacity="0.84"/><circle cx="564.3" cy="262.1" r="1.14" fill="#8fd3d3" fill-opacity="0.43" stroke="#a8e4e2" stroke-width="0.5" stroke-opacity="0.86"/><circle cx="573.8" cy="261.6" r="1.25" fill="#8fd3d3" fill-opacity="0.47" stroke="#a8e4e2" stroke-width="0.5" stroke-opacity="0.93"/><circle cx="559.9" cy="266.0" r="1.25" fill="#8fd3d3" fill-opacity="0.49" stroke="#a8e4e2" stroke-width="0.5" stroke-opacity="0.99"/><circle cx="564.1" cy="265.3" r="1.05" fill="#8fd3d3" fill-opacity="0.39" stroke="#a8e4e2" stroke-width="0.5" stroke-opacity="0.78"/><circle cx="567.1" cy="265.5" r="1.11" fill="#8fd3d3" fill-opacity="0.33" stroke="#a8e4e2" stroke-width="0.5" stroke-opacity="0.66"/><circle cx="570.7" cy="266.4" r="1.05" fill="#8fd3d3" fill-opacity="0.31" stroke="#a8e4e2" stroke-width="0.5" stroke-opacity="0.63"/><circle cx="582.7" cy="264.1" r="1.18" fill="#8fd3d3" fill-opacity="0.38" stroke="#a8e4e2" stroke-width="0.5" stroke-opacity="0.77"/><circle cx="564.7" cy="269.2" r="1.00" fill="#8fd3d3" fill-opacity="0.42" stroke="#a8e4e2" stroke-width="0.5" stroke-opacity="0.85"/><circle cx="574.0" cy="268.1" r="1.23" fill="#8fd3d3" fill-opacity="0.37" stroke="#a8e4e2" stroke-width="0.5" stroke-opacity="0.74"/>
<ellipse cx="549.3" cy="220.2" rx="21.2" ry="24.5" transform="rotate(-5 549.3 220.2)" fill="none" stroke="#9e1a1f" stroke-width="0.65"/>
<ellipse cx="570.3" cy="254.6" rx="18.4" ry="17.9" transform="rotate(-10 570.3 254.6)" fill="none" stroke="#9e1a1f" stroke-width="0.65"/>
<rect x="596.7" y="190.0" width="67.1" height="88.4" fill="#1b1b1b"/>
<clipPath id="netc4"><ellipse cx="621.3" cy="220.2" rx="19.48" ry="22.45" transform="rotate(-5 621.3 220.2)"/></clipPath>
<g clip-path="url(#netc4)"><path d="M640.3,218.5 L640.4,222.4 L639.8,226.2 L638.7,229.7 L637.1,233.0 L635.0,236.0 L632.5,238.4 L629.6,240.3 L626.5,241.5 L623.2,242.2 L619.9,242.1 L616.6,241.4 L613.5,240.1 L610.6,238.1 L608.0,235.6 L605.8,232.6 L604.1,229.3 L602.9,225.7 L602.3,221.9 L602.2,218.0 L602.8,214.2 L603.9,210.7 L605.5,207.4 L607.6,204.4 L610.1,202.0 L613.0,200.1 L616.1,198.9 L619.4,198.2 L622.7,198.3 L626.0,199.0 L629.1,200.3 L632.0,202.3 L634.6,204.8 L636.8,207.8 L638.5,211.1 L639.7,214.7 L640.3,218.5 M631.5,188.3 L627.1,201.0 M630.8,187.8 L619.4,198.9 M627.1,201.0 L623.8,203.8 M623.8,203.8 L622.9,203.4 M619.4,198.9 L622.9,203.4 M634.1,211.1 L630.6,209.7 M630.6,209.7 L631.3,205.9 M631.3,205.9 L643.6,197.3 M646.6,218.1 L635.2,214.6 M635.2,214.6 L634.1,211.1 M627.1,201.0 L631.3,205.9 M630.6,209.7 L629.3,210.3 M629.3,210.3 L623.9,209.1 M629.3,210.3 L628.6,216.2 M620.6,212.4 L620.9,211.6 M616.3,215.0 L616.3,219.5 M620.9,211.6 L615.6,206.8 M615.8,204.9 L615.6,206.8 M607.5,223.3 L607.5,224.7 M607.5,223.3 L610.5,220.0 M610.5,220.0 L615.0,220.4 M608.4,225.8 L614.8,225.6 M608.4,225.8 L607.5,224.7 M614.8,225.6 L615.0,220.4 M597.9,240.8 L609.2,232.3 M609.2,232.3 L608.4,225.8 M592.5,230.8 L607.5,224.7 M609.2,232.3 L614.8,233.8 M630.6,239.6 L635.6,252.4 M630.6,239.6 L629.1,238.4 M629.1,238.4 L623.1,239.3 M623.1,239.3 L623.0,239.2 M616.3,219.5 L615.0,220.4 M610.4,217.2 L614.0,214.4 M619.4,198.9 L614.7,199.0 M615.8,204.9 L614.1,200.8 M614.7,199.0 L614.1,200.8 M638.8,228.7 L651.7,221.2 M630.6,239.6 L636.9,234.8 M636.6,227.0 L638.8,228.7 M631.8,230.2 L636.9,234.8 M614.8,233.8 L615.7,233.3 M623.0,239.2 L620.9,234.6 M620.9,234.6 L615.7,233.3 M615.6,206.8 L612.1,208.9 M612.1,208.9 L607.3,203.7 M614.0,214.4 L611.4,210.6 M612.1,208.9 L611.4,210.6 M606.1,212.4 L605.2,210.2 M606.1,212.4 L605.7,213.5 M605.2,210.2 L590.4,208.8 M604.8,203.5 L605.2,210.2 M610.4,217.2 L605.7,213.5" fill="none" stroke="#d8e0e0" stroke-width="2.0" stroke-opacity="0.42" filter="url(#blur04)"/>
<path d="M640.3,218.5 L640.4,222.4 L639.8,226.2 L638.7,229.7 L637.1,233.0 L635.0,236.0 L632.5,238.4 L629.6,240.3 L626.5,241.5 L623.2,242.2 L619.9,242.1 L616.6,241.4 L613.5,240.1 L610.6,238.1 L608.0,235.6 L605.8,232.6 L604.1,229.3 L602.9,225.7 L602.3,221.9 L602.2,218.0 L602.8,214.2 L603.9,210.7 L605.5,207.4 L607.6,204.4 L610.1,202.0 L613.0,200.1 L616.1,198.9 L619.4,198.2 L622.7,198.3 L626.0,199.0 L629.1,200.3 L632.0,202.3 L634.6,204.8 L636.8,207.8 L638.5,211.1 L639.7,214.7 L640.3,218.5 M631.5,188.3 L627.1,201.0 M630.8,187.8 L619.4,198.9 M627.1,201.0 L623.8,203.8 M623.8,203.8 L622.9,203.4 M619.4,198.9 L622.9,203.4 M634.1,211.1 L630.6,209.7 M630.6,209.7 L631.3,205.9 M631.3,205.9 L643.6,197.3 M646.6,218.1 L635.2,214.6 M635.2,214.6 L634.1,211.1 M627.1,201.0 L631.3,205.9 M630.6,209.7 L629.3,210.3 M629.3,210.3 L623.9,209.1 M629.3,210.3 L628.6,216.2 M620.6,212.4 L620.9,211.6 M616.3,215.0 L616.3,219.5 M620.9,211.6 L615.6,206.8 M615.8,204.9 L615.6,206.8 M607.5,223.3 L607.5,224.7 M607.5,223.3 L610.5,220.0 M610.5,220.0 L615.0,220.4 M608.4,225.8 L614.8,225.6 M608.4,225.8 L607.5,224.7 M614.8,225.6 L615.0,220.4 M597.9,240.8 L609.2,232.3 M609.2,232.3 L608.4,225.8 M592.5,230.8 L607.5,224.7 M609.2,232.3 L614.8,233.8 M630.6,239.6 L635.6,252.4 M630.6,239.6 L629.1,238.4 M629.1,238.4 L623.1,239.3 M623.1,239.3 L623.0,239.2 M616.3,219.5 L615.0,220.4 M610.4,217.2 L614.0,214.4 M619.4,198.9 L614.7,199.0 M615.8,204.9 L614.1,200.8 M614.7,199.0 L614.1,200.8 M638.8,228.7 L651.7,221.2 M630.6,239.6 L636.9,234.8 M636.6,227.0 L638.8,228.7 M631.8,230.2 L636.9,234.8 M614.8,233.8 L615.7,233.3 M623.0,239.2 L620.9,234.6 M620.9,234.6 L615.7,233.3 M615.6,206.8 L612.1,208.9 M612.1,208.9 L607.3,203.7 M614.0,214.4 L611.4,210.6 M612.1,208.9 L611.4,210.6 M606.1,212.4 L605.2,210.2 M606.1,212.4 L605.7,213.5 M605.2,210.2 L590.4,208.8 M604.8,203.5 L605.2,210.2 M610.4,217.2 L605.7,213.5" fill="none" stroke="#f0302a" stroke-width="0.85" stroke-linejoin="round"/></g>
<clipPath id="netc5"><ellipse cx="642.1" cy="254.6" rx="16.42" ry="16.15" transform="rotate(-10 642.1 254.6)"/></clipPath>
<g clip-path="url(#netc5)"><path d="M657.9,251.8 L658.1,254.6 L657.9,257.3 L657.1,259.9 L655.9,262.4 L654.3,264.7 L652.4,266.6 L650.1,268.2 L647.5,269.4 L644.8,270.1 L642.1,270.4 L639.3,270.1 L636.6,269.4 L634.1,268.3 L631.8,266.7 L629.8,264.8 L628.2,262.5 L627.0,260.0 L626.3,257.4 L626.1,254.6 L626.3,251.9 L627.1,249.3 L628.3,246.8 L629.9,244.5 L631.8,242.6 L634.1,241.0 L636.7,239.8 L639.4,239.1 L642.1,238.8 L644.9,239.1 L647.6,239.8 L650.1,240.9 L652.4,242.5 L654.4,244.4 L656.0,246.7 L657.2,249.2 L657.9,251.8 M634.7,230.7 L636.3,241.3 M634.1,245.2 L633.7,245.3 M633.7,245.3 L624.8,235.8 M667.9,249.5 L655.2,248.6 M656.0,242.2 L655.2,248.6 M646.4,229.7 L648.8,241.7 M648.8,241.7 L650.9,243.0 M656.0,242.2 L650.9,243.0 M619.5,263.8 L630.6,257.1 M630.6,257.1 L633.4,258.2 M633.2,261.4 L633.4,258.2 M632.5,246.4 L626.2,246.5 M632.5,246.4 L632.3,251.3 M626.2,246.5 L628.4,251.4 M628.4,251.4 L630.3,252.2 M630.3,252.2 L632.3,251.3 M633.7,245.3 L632.5,246.4 M634.1,245.2 L638.4,248.2 M635.4,251.9 L637.9,250.5 M638.4,248.2 L637.9,250.5 M617.3,259.3 L628.4,251.4 M630.6,257.1 L630.3,252.2 M650.9,243.0 L650.2,246.7 M654.3,249.7 L650.2,246.7 M636.3,241.3 L640.9,244.4 M638.4,248.2 L640.8,246.5 M640.9,244.4 L640.8,246.5 M641.3,229.7 L642.5,242.2 M640.9,244.4 L642.5,242.2 M648.8,241.7 L646.6,242.9 M642.5,242.2 L646.6,242.9 M643.5,267.7 L653.1,277.3 M643.5,267.7 L643.2,267.6 M626.1,273.4 L633.8,266.0 M633.2,261.4 L634.1,262.8 M633.8,266.0 L634.1,262.8 M633.8,266.0 L638.9,265.7 M643.2,267.6 L640.6,264.8 M638.9,265.7 L640.6,264.8 M640.8,246.5 L642.1,247.1 M646.6,242.9 L645.9,246.3 M645.9,246.3 L642.1,247.1 M650.2,246.7 L648.1,248.2 M645.9,246.3 L648.1,248.2 M646.2,265.9 L650.8,267.4 M646.2,265.9 L647.5,262.5 M647.5,262.5 L649.6,262.0 M649.6,262.0 L651.6,263.9 M651.6,263.9 L650.8,267.4 M643.5,267.7 L646.2,265.9 M657.1,262.7 L651.6,263.9 M640.6,264.8 L640.6,262.6 M647.5,262.5 L644.2,260.4 M644.2,260.4 L640.6,262.6 M638.7,251.4 L637.9,250.5 M638.7,251.4 L640.2,255.8 M640.2,255.8 L637.9,258.2 M634.1,262.8 L639.3,261.3 M637.9,258.2 L639.3,261.3 M640.6,262.6 L639.3,261.3 M657.1,262.7 L653.1,257.9 M649.6,262.0 L650.8,257.6 M653.1,257.9 L650.8,257.6 M667.3,256.4 L657.3,254.3 M653.1,257.9 L657.3,254.3 M654.3,249.7 L654.1,251.1 M657.3,254.3 L654.1,251.1 M650.0,253.1 L650.3,257.1 M650.0,253.1 L647.5,251.5 M650.3,257.1 L644.8,257.8 M643.6,255.7 L644.8,257.8 M643.6,255.7 L644.8,252.4 M650.8,257.6 L650.3,257.1 M654.1,251.1 L650.0,253.1 M648.1,248.2 L647.5,251.5 M644.2,260.4 L644.8,257.8 M642.1,247.1 L645.2,252.0 M640.2,255.8 L643.6,255.7 M638.7,251.4 L644.8,252.4" fill="none" stroke="#d8e0e0" stroke-width="2.0" stroke-opacity="0.42" filter="url(#blur04)"/>
<path d="M657.9,251.8 L658.1,254.6 L657.9,257.3 L657.1,259.9 L655.9,262.4 L654.3,264.7 L652.4,266.6 L650.1,268.2 L647.5,269.4 L644.8,270.1 L642.1,270.4 L639.3,270.1 L636.6,269.4 L634.1,268.3 L631.8,266.7 L629.8,264.8 L628.2,262.5 L627.0,260.0 L626.3,257.4 L626.1,254.6 L626.3,251.9 L627.1,249.3 L628.3,246.8 L629.9,244.5 L631.8,242.6 L634.1,241.0 L636.7,239.8 L639.4,239.1 L642.1,238.8 L644.9,239.1 L647.6,239.8 L650.1,240.9 L652.4,242.5 L654.4,244.4 L656.0,246.7 L657.2,249.2 L657.9,251.8 M634.7,230.7 L636.3,241.3 M634.1,245.2 L633.7,245.3 M633.7,245.3 L624.8,235.8 M667.9,249.5 L655.2,248.6 M656.0,242.2 L655.2,248.6 M646.4,229.7 L648.8,241.7 M648.8,241.7 L650.9,243.0 M656.0,242.2 L650.9,243.0 M619.5,263.8 L630.6,257.1 M630.6,257.1 L633.4,258.2 M633.2,261.4 L633.4,258.2 M632.5,246.4 L626.2,246.5 M632.5,246.4 L632.3,251.3 M626.2,246.5 L628.4,251.4 M628.4,251.4 L630.3,252.2 M630.3,252.2 L632.3,251.3 M633.7,245.3 L632.5,246.4 M634.1,245.2 L638.4,248.2 M635.4,251.9 L637.9,250.5 M638.4,248.2 L637.9,250.5 M617.3,259.3 L628.4,251.4 M630.6,257.1 L630.3,252.2 M650.9,243.0 L650.2,246.7 M654.3,249.7 L650.2,246.7 M636.3,241.3 L640.9,244.4 M638.4,248.2 L640.8,246.5 M640.9,244.4 L640.8,246.5 M641.3,229.7 L642.5,242.2 M640.9,244.4 L642.5,242.2 M648.8,241.7 L646.6,242.9 M642.5,242.2 L646.6,242.9 M643.5,267.7 L653.1,277.3 M643.5,267.7 L643.2,267.6 M626.1,273.4 L633.8,266.0 M633.2,261.4 L634.1,262.8 M633.8,266.0 L634.1,262.8 M633.8,266.0 L638.9,265.7 M643.2,267.6 L640.6,264.8 M638.9,265.7 L640.6,264.8 M640.8,246.5 L642.1,247.1 M646.6,242.9 L645.9,246.3 M645.9,246.3 L642.1,247.1 M650.2,246.7 L648.1,248.2 M645.9,246.3 L648.1,248.2 M646.2,265.9 L650.8,267.4 M646.2,265.9 L647.5,262.5 M647.5,262.5 L649.6,262.0 M649.6,262.0 L651.6,263.9 M651.6,263.9 L650.8,267.4 M643.5,267.7 L646.2,265.9 M657.1,262.7 L651.6,263.9 M640.6,264.8 L640.6,262.6 M647.5,262.5 L644.2,260.4 M644.2,260.4 L640.6,262.6 M638.7,251.4 L637.9,250.5 M638.7,251.4 L640.2,255.8 M640.2,255.8 L637.9,258.2 M634.1,262.8 L639.3,261.3 M637.9,258.2 L639.3,261.3 M640.6,262.6 L639.3,261.3 M657.1,262.7 L653.1,257.9 M649.6,262.0 L650.8,257.6 M653.1,257.9 L650.8,257.6 M667.3,256.4 L657.3,254.3 M653.1,257.9 L657.3,254.3 M654.3,249.7 L654.1,251.1 M657.3,254.3 L654.1,251.1 M650.0,253.1 L650.3,257.1 M650.0,253.1 L647.5,251.5 M650.3,257.1 L644.8,257.8 M643.6,255.7 L644.8,257.8 M643.6,255.7 L644.8,252.4 M650.8,257.6 L650.3,257.1 M654.1,251.1 L650.0,253.1 M648.1,248.2 L647.5,251.5 M644.2,260.4 L644.8,257.8 M642.1,247.1 L645.2,252.0 M640.2,255.8 L643.6,255.7 M638.7,251.4 L644.8,252.4" fill="none" stroke="#f0302a" stroke-width="0.85" stroke-linejoin="round"/></g>
<ellipse cx="621.3" cy="220.2" rx="21.2" ry="24.5" transform="rotate(-5 621.3 220.2)" fill="none" stroke="#9e1a1f" stroke-width="0.65"/>
<ellipse cx="642.1" cy="254.6" rx="18.2" ry="17.9" transform="rotate(-10 642.1 254.6)" fill="none" stroke="#9e1a1f" stroke-width="0.65"/>
<rect x="238.0" y="181.9" width="11.9" height="3" fill="#fff"/>
<rect x="238.0" y="273.9" width="11.9" height="3" fill="#fff"/>
<rect x="309.7" y="181.9" width="11.9" height="3" fill="#fff"/>
<rect x="309.7" y="273.9" width="11.9" height="3" fill="#fff"/>
<rect x="380.8" y="181.9" width="11.9" height="3" fill="#fff"/>
<rect x="380.8" y="273.9" width="11.9" height="3" fill="#fff"/>
<rect x="454.8" y="181.9" width="11.9" height="3" fill="#fff"/>
<rect x="454.8" y="273.9" width="11.9" height="3" fill="#fff"/>
<rect x="526.6" y="181.9" width="11.9" height="3" fill="#fff"/>
<rect x="526.6" y="273.9" width="11.9" height="3" fill="#fff"/>
<rect x="598.3" y="181.9" width="11.9" height="3" fill="#fff"/>
<rect x="598.3" y="273.9" width="11.9" height="3" fill="#fff"/>
<clipPath id="clipc"><rect x="38.5" y="330" width="185" height="154.2"/></clipPath>
<text x="0.5" y="310.8" font-size="1" fill="#231f20" stroke="#231f20" stroke-width="0.2"></text>
<circle cx="49.7" cy="311.6" r="2.6" fill="#5badde"/>
<text x="57.1" y="315.9" font-size="10.6" fill="#231f20" stroke="#231f20" stroke-width="0.2" textLength="68.6" lengthAdjust="spacingAndGlyphs">SCGE haploid</text>
<path d="M49.7,321.4 L52.6,325.4 L49.7,329.4 L46.8,325.4Z" fill="#3b3f95"/>
<text x="57.1" y="329.7" font-size="10.6" fill="#231f20" stroke="#231f20" stroke-width="0.2" textLength="65.8" lengthAdjust="spacingAndGlyphs">SCGE diploid</text>
<path d="M142.4,307.9 L145.8,314.0 L139.0,314.0Z" fill="#e2322b"/>
<text x="150.1" y="315.9" font-size="10.6" fill="#231f20" stroke="#231f20" stroke-width="0.2" textLength="61.2" lengthAdjust="spacingAndGlyphs">SCD haploid</text>
<rect x="139.9" y="322.9" width="5.0" height="5.0" fill="#8e2320"/>
<text x="150.1" y="329.7" font-size="10.6" fill="#231f20" stroke="#231f20" stroke-width="0.2" textLength="59.2" lengthAdjust="spacingAndGlyphs">SCD diploid</text>
<path d="M41.5,340.6 L41.5,481.2 L220.6,481.2" fill="none" stroke="#6d6e71" stroke-width="0.8"/>
<line x1="41.50" y1="481.2" x2="41.50" y2="478.2" stroke="#6d6e71" stroke-width="0.8"/>
<text x="41.5" y="494.8" font-size="10.2" text-anchor="middle" fill="#3a3a3a" stroke="#3a3a3a" stroke-width="0.2">0</text>
<line x1="86.25" y1="481.2" x2="86.25" y2="478.2" stroke="#6d6e71" stroke-width="0.8"/>
<text x="86.2" y="494.8" font-size="10.2" text-anchor="middle" fill="#3a3a3a" stroke="#3a3a3a" stroke-width="0.2">200</text>
<line x1="131.00" y1="481.2" x2="131.00" y2="478.2" stroke="#6d6e71" stroke-width="0.8"/>
<text x="131.0" y="494.8" font-size="10.2" text-anchor="middle" fill="#3a3a3a" stroke="#3a3a3a" stroke-width="0.2">400</text>
<line x1="175.75" y1="481.2" x2="175.75" y2="478.2" stroke="#6d6e71" stroke-width="0.8"/>
<text x="175.8" y="494.8" font-size="10.2" text-anchor="middle" fill="#3a3a3a" stroke="#3a3a3a" stroke-width="0.2">600</text>
<line x1="220.50" y1="481.2" x2="220.50" y2="478.2" stroke="#6d6e71" stroke-width="0.8"/>
<text x="220.5" y="494.8" font-size="10.2" text-anchor="middle" fill="#3a3a3a" stroke="#3a3a3a" stroke-width="0.2">800</text>
<line x1="41.5" y1="481.20" x2="44.5" y2="481.20" stroke="#6d6e71" stroke-width="0.8"/>
<text x="36.5" y="484.6" font-size="10.2" text-anchor="end" fill="#3a3a3a" stroke="#3a3a3a" stroke-width="0.2">0</text>
<line x1="41.5" y1="453.08" x2="44.5" y2="453.08" stroke="#6d6e71" stroke-width="0.8"/>
<text x="36.5" y="456.5" font-size="10.2" text-anchor="end" fill="#3a3a3a" stroke="#3a3a3a" stroke-width="0.2">50</text>
<line x1="41.5" y1="424.96" x2="44.5" y2="424.96" stroke="#6d6e71" stroke-width="0.8"/>
<text x="36.5" y="428.4" font-size="10.2" text-anchor="end" fill="#3a3a3a" stroke="#3a3a3a" stroke-width="0.2">100</text>
<line x1="41.5" y1="396.84" x2="44.5" y2="396.84" stroke="#6d6e71" stroke-width="0.8"/>
<text x="36.5" y="400.2" font-size="10.2" text-anchor="end" fill="#3a3a3a" stroke="#3a3a3a" stroke-width="0.2">150</text>
<line x1="41.5" y1="368.72" x2="44.5" y2="368.72" stroke="#6d6e71" stroke-width="0.8"/>
<text x="36.5" y="372.1" font-size="10.2" text-anchor="end" fill="#3a3a3a" stroke="#3a3a3a" stroke-width="0.2">200</text>
<line x1="41.5" y1="340.60" x2="44.5" y2="340.60" stroke="#6d6e71" stroke-width="0.8"/>
<text x="36.5" y="344.0" font-size="10.2" text-anchor="end" fill="#3a3a3a" stroke="#3a3a3a" stroke-width="0.2">250</text>
<text x="10.8" y="410.8" font-size="10.8" text-anchor="middle" fill="#231f20" stroke="#231f20" stroke-width="0.2" textLength="120.0" lengthAdjust="spacingAndGlyphs" transform="rotate(-90 10.8 410.8)">mtNetwork volume (a.u.)</text>
<text x="130.8" y="512.7" font-size="10.8" text-anchor="middle" fill="#231f20" stroke="#231f20" stroke-width="0.2" textLength="78.3" lengthAdjust="spacingAndGlyphs">Cell volume (fL)</text>
<g clip-path="url(#clipc)"><g transform="scale(.1)"><path d="M990,4420h0M745,4638h0M938,4494h0M1373,4335h0M766,4619h0M1445,4356h0M1225,4325h0M904,4580h0M731,4542h0M910,4468h0M649,4583h0M908,4453h0M795,4537h0M825,4550h0M763,4597h0M648,4577h0M744,4583h0M894,4576h0M965,4569h0M737,4647h0M1049,4344h0M1174,4360h0M1091,4548h0M717,4601h0M988,4649h0M924,4437h0M1098,4302h0M874,4637h0M709,4671h0M878,4660h0M735,4635h0M667,4657h0M752,4523h0M1083,4324h0M868,4325h0M820,4602h0M840,4434h0M861,4537h0M814,4456h0M562,4725h0M918,4489h0M786,4534h0M673,4757h0M751,4506h0M804,4517h0M1216,4359h0M784,4599h0M783,4478h0M760,4656h0M847,4561h0M928,4576h0M1177,4350h0M775,4612h0M834,4586h0M927,4591h0M969,4307h0M962,4371h0M933,4540h0M798,4590h0M857,4491h0M1090,4274h0M624,4598h0M1379,4445h0M998,4622h0M700,4614h0M654,4639h0M871,4467h0M862,4509h0M747,4691h0M638,4618h0M894,4597h0M1279,4220h0M1021,4474h0M1362,4292h0M929,4522h0M1008,4364h0M684,4613h0M633,4696h0M1464,4238h0M878,4746h0M752,4570h0M921,4470h0M667,4711h0M994,4517h0M712,4608h0M694,4644h0M1161,4637h0M739,4598h0M1148,4470h0M948,4557h0M839,4547h0M596,4672h0M733,4605h0M1044,4344h0M836,4442h0M1147,4404h0M776,4476h0M1049,4545h0M859,4517h0M879,4587h0M1690,3873h0M2138,4221h0" stroke="#b6504b" stroke-opacity="0.42" stroke-width="39" stroke-linecap="square"/><path d="M962,4450h0M1071,4449h0M897,4462h0M1410,4439h0M805,4545h0M906,4468h0M605,4587h0M1244,4345h0M689,4510h0M932,4589h0M867,4648h0M655,4632h0M899,4590h0M865,4524h0M1314,4274h0M645,4589h0M1004,4480h0M1073,4391h0M1043,4498h0M658,4664h0M1064,4512h0M1186,4358h0M862,4546h0M713,4658h0M834,4573h0M926,4443h0M962,4491h0M737,4682h0M1161,4378h0M680,4459h0M782,4529h0M1078,4530h0M750,4552h0M1224,4224h0M921,4411h0M830,4526h0M1151,4368h0M1165,4451h0M662,4600h0M1018,4457h0M685,4685h0M980,4514h0M758,4553h0M1002,4317h0M797,4438h0M995,4518h0M806,4520h0M773,4613h0M755,4476h0M1246,4307h0M947,4525h0M840,4579h0M857,4453h0M1343,4558h0M614,4584h0M1082,4421h0M706,4569h0M795,4541h0M881,4584h0M963,4497h0M915,4570h0M1378,4234h0M672,4747h0M803,4488h0M875,4681h0M868,4451h0M980,4512h0M1019,4488h0M826,4456h0M1093,4474h0M1149,4458h0M694,4549h0M951,4597h0M925,4450h0M1166,4595h0M1475,4279h0M1606,4369h0M899,4607h0M834,4512h0M1293,4404h0M630,4636h0M905,4381h0M644,4645h0M996,4494h0M1169,4313h0M610,4716h0M1188,4441h0M769,4548h0M1105,4423h0M1063,4492h0M674,4638h0M615,4570h0M904,4462h0M1359,4376h0M806,4512h0M958,4484h0M1074,4584h0M853,4529h0M859,4607h0M792,4567h0M1758,4250h0M1534,4278h0" stroke="#b6504b" stroke-opacity="0.42" stroke-width="39" stroke-linecap="square"/><path d="M809,4610h0M1403,4073h0M876,4481h0M899,4601h0M784,4527h0M1092,4461h0M1136,4532h0M776,4604h0M701,4680h0M1057,4456h0M926,4550h0M770,4555h0M1508,4389h0M1150,4532h0M1056,4443h0M917,4529h0M794,4556h0M776,4667h0M868,4466h0M1265,4381h0M1067,4545h0M918,4615h0M918,4452h0M575,4619h0M1004,4269h0M1183,4460h0M801,4526h0M611,4558h0M812,4501h0M765,4680h0M830,4529h0M885,4626h0M1160,4538h0M813,4472h0M975,4548h0M774,4559h0M856,4461h0M925,4586h0M892,4554h0M723,4533h0M701,4580h0M605,4541h0M915,4488h0M861,4696h0M718,4638h0M1142,4438h0M677,4648h0M989,4412h0M647,4525h0M852,4503h0M1086,4384h0M1129,4423h0M807,4414h0M806,4529h0M817,4583h0M883,4497h0M854,4545h0M646,4630h0M650,4702h0M845,4402h0M747,4659h0M1029,4635h0M1342,4306h0M764,4663h0M767,4526h0M777,4513h0M1085,4509h0M974,4482h0M1003,4487h0M655,4615h0M766,4559h0M1031,4621h0M1030,4506h0M778,4535h0M628,4693h0M919,4520h0M907,4432h0M820,4631h0M1072,4357h0M1308,4293h0M787,4609h0M1306,4484h0M1434,4246h0M799,4529h0M1003,4528h0M717,4612h0M1061,4514h0M1078,4559h0M720,4489h0M1118,4444h0M777,4652h0M1017,4532h0M759,4581h0M709,4685h0M721,4576h0M1138,4642h0M601,4685h0M1048,4548h0M744,4470h0M785,4533h0M1847,3968h0M1579,4317h0" stroke="#b6504b" stroke-opacity="0.42" stroke-width="39" stroke-linecap="square"/><path d="M985,4647h0M1003,4463h0M926,4547h0M863,4459h0M1089,4535h0M1387,4451h0M1166,4560h0M1201,4363h0M678,4606h0M1039,4397h0M1459,4286h0M900,4495h0M658,4553h0M624,4651h0M707,4603h0M1629,4278h0M607,4653h0M948,4410h0M629,4582h0M716,4600h0M708,4467h0M890,4575h0M838,4533h0M807,4616h0M1238,4290h0M1393,4433h0M981,4507h0M895,4487h0M1319,4350h0M1183,4268h0M891,4536h0M1156,4319h0M837,4540h0M928,4601h0M719,4626h0M762,4488h0M1017,4395h0M687,4626h0M816,4551h0M861,4598h0M850,4549h0M754,4554h0M1119,4362h0M1419,4328h0M672,4502h0M692,4656h0M670,4642h0M1108,4410h0M654,4559h0M1070,4490h0M1459,4171h0M634,4543h0M914,4551h0M924,4508h0M829,4554h0M1034,4440h0M825,4440h0M816,4588h0M716,4621h0M882,4606h0M671,4626h0M1036,4533h0M775,4724h0M1021,4434h0M651,4659h0M1112,4471h0M823,4640h0M980,4512h0M946,4455h0M765,4713h0M1312,4333h0M933,4542h0M712,4616h0M829,4583h0M866,4670h0M1300,4336h0M823,4475h0M1154,4359h0M1295,4318h0M943,4352h0M773,4619h0M707,4657h0M886,4575h0M780,4560h0M739,4633h0M1272,4323h0M852,4619h0M776,4507h0M795,4567h0M830,4558h0M1136,4460h0M863,4590h0M951,4445h0M793,4680h0M1037,4447h0M764,4568h0M1051,4403h0M851,4495h0M792,4525h0M1302,4419h0M1892,4278h0M1713,4025h0" stroke="#b6504b" stroke-opacity="0.42" stroke-width="39" stroke-linecap="square"/><path d="M1017,4440h0M1296,4549h0M746,4638h0M835,4544h0M1358,4478h0M748,4567h0M782,4575h0M727,4612h0M795,4610h0M798,4506h0M1539,4176h0M1001,4500h0M968,4468h0M645,4772h0M722,4468h0M961,4593h0M1100,4310h0M789,4544h0M706,4631h0M677,4614h0M685,4652h0M751,4596h0M999,4456h0M1304,4430h0M663,4603h0M824,4550h0M767,4733h0M600,4613h0M968,4426h0M680,4606h0M760,4628h0M911,4506h0M604,4665h0M722,4614h0M806,4477h0M906,4559h0M712,4527h0M981,4292h0M886,4660h0M990,4387h0M1166,4299h0M866,4553h0M790,4652h0M841,4441h0M1312,4411h0M912,4616h0M712,4586h0M889,4395h0M564,4571h0M1047,4387h0M970,4543h0M599,4682h0M792,4604h0M1021,4461h0M809,4566h0M1137,4349h0M1105,4440h0M1008,4544h0M828,4474h0M769,4676h0M1088,4492h0M859,4634h0M706,4644h0M919,4430h0M882,4308h0M1027,4508h0M1003,4520h0M1094,4405h0M1145,4367h0M841,4466h0M931,4576h0M617,4592h0M1020,4596h0M911,4524h0M707,4555h0M722,4539h0M956,4547h0M951,4488h0M737,4579h0M754,4403h0M900,4498h0M1026,4527h0M806,4607h0M859,4459h0M774,4545h0M903,4634h0M879,4415h0M1111,4553h0M653,4647h0M734,4615h0M841,4486h0M943,4448h0M1200,4436h0M742,4693h0M1098,4442h0M890,4628h0M930,4447h0M784,4503h0M780,4691h0M1149,4494h0M1981,3659h0" stroke="#b6504b" stroke-opacity="0.42" stroke-width="39" stroke-linecap="square"/><path d="M769,4558h0M696,4608h0M958,4509h0M995,4322h0M986,4462h0M749,4665h0M958,4471h0M1090,4621h0M883,4582h0M752,4541h0M732,4567h0M1026,4509h0M763,4661h0M1238,4392h0M709,4673h0M740,4536h0M1006,4473h0M943,4432h0M1141,4338h0M1007,4595h0M819,4543h0M1448,4207h0M1033,4694h0M1046,4454h0M821,4644h0M790,4659h0M857,4435h0M1007,4387h0M1018,4493h0M825,4568h0M800,4558h0M954,4512h0M876,4618h0M635,4628h0M1153,4471h0M1206,4575h0M725,4667h0M707,4488h0M685,4657h0M803,4507h0M625,4745h0M1115,4343h0M744,4507h0M804,4626h0M728,4696h0M968,4570h0M949,4358h0M782,4620h0M753,4565h0M767,4645h0M713,4562h0M795,4519h0M1000,4510h0M828,4616h0M908,4526h0M830,4576h0M780,4505h0M908,4545h0M784,4539h0M760,4666h0M635,4512h0M686,4664h0M1429,4419h0M785,4539h0M1078,4507h0M867,4637h0M907,4503h0M734,4595h0M1465,4178h0M1011,4428h0M1395,4252h0M829,4549h0M1003,4516h0M1184,4399h0M970,4609h0M765,4534h0M741,4569h0M776,4641h0M964,4505h0M880,4658h0M839,4536h0M1135,4522h0M796,4546h0M848,4512h0M751,4642h0M779,4525h0M1172,4358h0M849,4451h0M751,4689h0M1037,4411h0M725,4547h0M765,4547h0M1384,4431h0M928,4428h0M881,4512h0M1254,4384h0M830,4462h0M1028,4523h0M1441,4408h0M943,4550h0M2026,3940h0" stroke="#b6504b" stroke-opacity="0.42" stroke-width="39" stroke-linecap="square"/></g></g>
<g clip-path="url(#clipc)"><g transform="scale(.1)"><path d="M853,4470l23,41h-46zM564,4703l23,41h-46zM711,4577l23,41h-46zM490,4648l23,41h-46zM527,4629l23,41h-46zM585,4646l23,41h-46zM615,4681l23,41h-46zM530,4627l23,41h-46zM604,4656l23,41h-46zM466,4722l23,41h-46zM559,4620l23,41h-46zM925,4529l23,41h-46zM811,4476l23,41h-46zM717,4575l23,41h-46zM511,4693l23,41h-46zM664,4663l23,41h-46zM541,4736l23,41h-46zM588,4670l23,41h-46zM493,4692l23,41h-46zM508,4722l23,41h-46zM587,4662l23,41h-46zM563,4676l23,41h-46zM590,4720l23,41h-46zM580,4633l23,41h-46zM1021,4507l23,41h-46zM628,4601l23,41h-46zM683,4595l23,41h-46zM591,4655l23,41h-46zM670,4586l23,41h-46zM561,4623l23,41h-46zM548,4594l23,41h-46zM600,4612l23,41h-46zM746,4531l23,41h-46zM594,4732l23,41h-46zM772,4589l23,41h-46zM645,4660l23,41h-46zM586,4622l23,41h-46zM506,4670l23,41h-46zM768,4555l23,41h-46zM765,4637l23,41h-46zM571,4686l23,41h-46zM835,4527l23,41h-46zM548,4678l23,41h-46zM566,4589l23,41h-46zM513,4732l23,41h-46zM577,4622l23,41h-46zM546,4594l23,41h-46zM530,4625l23,41h-46zM567,4660l23,41h-46zM675,4570l23,41h-46zM585,4741l23,41h-46zM692,4575l23,41h-46zM525,4750l23,41h-46zM751,4471l23,41h-46zM554,4681l23,41h-46zM533,4624l23,41h-46zM552,4615l23,41h-46zM682,4687l23,41h-46zM657,4595l23,41h-46zM542,4676l23,41h-46zM558,4627l23,41h-46zM787,4597l23,41h-46zM494,4711l23,41h-46zM519,4662l23,41h-46z" fill="#e8574c" fill-opacity="0.38"/><path d="M738,4631l23,41h-46zM559,4613l23,41h-46zM469,4697l23,41h-46zM648,4646l23,41h-46zM788,4607l23,41h-46zM589,4742l23,41h-46zM545,4623l23,41h-46zM697,4560l23,41h-46zM621,4644l23,41h-46zM548,4659l23,41h-46zM637,4658l23,41h-46zM579,4718l23,41h-46zM883,4359l23,41h-46zM707,4662l23,41h-46zM626,4703l23,41h-46zM598,4558l23,41h-46zM505,4725l23,41h-46zM571,4640l23,41h-46zM584,4583l23,41h-46zM704,4636l23,41h-46zM522,4629l23,41h-46zM515,4691l23,41h-46zM687,4608l23,41h-46zM647,4564l23,41h-46zM578,4603l23,41h-46zM722,4563l23,41h-46zM696,4613l23,41h-46zM519,4697l23,41h-46zM550,4749l23,41h-46zM838,4576l23,41h-46zM560,4592l23,41h-46zM516,4635l23,41h-46zM551,4733l23,41h-46zM534,4680l23,41h-46zM539,4697l23,41h-46zM597,4600l23,41h-46zM1052,4588l23,41h-46zM757,4633l23,41h-46zM723,4591l23,41h-46zM623,4627l23,41h-46zM690,4608l23,41h-46zM567,4672l23,41h-46zM710,4517l23,41h-46zM678,4575l23,41h-46zM549,4626l23,41h-46zM470,4698l23,41h-46zM603,4649l23,41h-46zM511,4610l23,41h-46zM628,4676l23,41h-46zM627,4635l23,41h-46zM644,4599l23,41h-46zM562,4740l23,41h-46zM500,4646l23,41h-46zM644,4595l23,41h-46zM673,4594l23,41h-46zM548,4706l23,41h-46zM670,4649l23,41h-46zM560,4652l23,41h-46zM603,4651l23,41h-46zM633,4662l23,41h-46zM550,4687l23,41h-46zM526,4578l23,41h-46zM670,4536l23,41h-46zM633,4639l23,41h-46z" fill="#e8574c" fill-opacity="0.38"/><path d="M779,4540l23,41h-46zM496,4689l23,41h-46zM689,4593l23,41h-46zM757,4664l23,41h-46zM515,4661l23,41h-46zM501,4738l23,41h-46zM494,4743l23,41h-46zM516,4693l23,41h-46zM634,4620l23,41h-46zM566,4695l23,41h-46zM704,4510l23,41h-46zM652,4619l23,41h-46zM693,4600l23,41h-46zM505,4656l23,41h-46zM498,4692l23,41h-46zM712,4558l23,41h-46zM708,4606l23,41h-46zM464,4670l23,41h-46zM534,4654l23,41h-46zM807,4704l23,41h-46zM728,4596l23,41h-46zM609,4668l23,41h-46zM611,4620l23,41h-46zM1050,4567l23,41h-46zM726,4474l23,41h-46zM629,4599l23,41h-46zM651,4652l23,41h-46zM554,4642l23,41h-46zM600,4681l23,41h-46zM724,4633l23,41h-46zM563,4650l23,41h-46zM529,4628l23,41h-46zM496,4709l23,41h-46zM600,4619l23,41h-46zM579,4648l23,41h-46zM715,4623l23,41h-46zM506,4685l23,41h-46zM874,4561l23,41h-46zM685,4524l23,41h-46zM646,4562l23,41h-46zM597,4676l23,41h-46zM613,4569l23,41h-46zM616,4497l23,41h-46zM678,4644l23,41h-46zM695,4552l23,41h-46zM738,4518l23,41h-46zM611,4604l23,41h-46zM879,4657l23,41h-46zM632,4632l23,41h-46zM525,4644l23,41h-46zM516,4702l23,41h-46zM633,4653l23,41h-46zM542,4514l23,41h-46zM727,4566l23,41h-46zM1086,4476l23,41h-46zM521,4692l23,41h-46zM552,4649l23,41h-46zM599,4603l23,41h-46zM676,4600l23,41h-46zM548,4673l23,41h-46zM662,4659l23,41h-46zM510,4639l23,41h-46zM737,4621l23,41h-46zM1086,4141l23,41h-46z" fill="#e8574c" fill-opacity="0.38"/><path d="M562,4695l23,41h-46zM566,4652l23,41h-46zM579,4632l23,41h-46zM699,4623l23,41h-46zM601,4624l23,41h-46zM560,4658l23,41h-46zM608,4610l23,41h-46zM633,4655l23,41h-46zM775,4506l23,41h-46zM493,4677l23,41h-46zM651,4579l23,41h-46zM621,4559l23,41h-46zM720,4534l23,41h-46zM669,4589l23,41h-46zM576,4606l23,41h-46zM871,4500l23,41h-46zM624,4653l23,41h-46zM935,4519l23,41h-46zM541,4696l23,41h-46zM593,4641l23,41h-46zM613,4561l23,41h-46zM750,4544l23,41h-46zM588,4582l23,41h-46zM585,4610l23,41h-46zM845,4505l23,41h-46zM561,4670l23,41h-46zM556,4628l23,41h-46zM590,4628l23,41h-46zM543,4677l23,41h-46zM634,4610l23,41h-46zM752,4522l23,41h-46zM568,4614l23,41h-46zM510,4709l23,41h-46zM741,4554l23,41h-46zM527,4666l23,41h-46zM520,4673l23,41h-46zM633,4519l23,41h-46zM594,4621l23,41h-46zM1072,4446l23,41h-46zM614,4680l23,41h-46zM799,4555l23,41h-46zM585,4625l23,41h-46zM623,4618l23,41h-46zM519,4713l23,41h-46zM1338,4304l23,41h-46zM506,4759l23,41h-46zM529,4603l23,41h-46zM766,4460l23,41h-46zM557,4674l23,41h-46zM691,4634l23,41h-46zM562,4601l23,41h-46zM655,4595l23,41h-46zM526,4690l23,41h-46zM908,4547l23,41h-46zM517,4668l23,41h-46zM1033,4472l23,41h-46zM704,4603l23,41h-46zM728,4580l23,41h-46zM582,4627l23,41h-46zM609,4602l23,41h-46zM660,4581l23,41h-46zM583,4652l23,41h-46zM561,4664l23,41h-46zM1042,4237l23,41h-46z" fill="#e8574c" fill-opacity="0.38"/><path d="M593,4743l23,41h-46zM807,4512l23,41h-46zM728,4379l23,41h-46zM829,4496l23,41h-46zM531,4630l23,41h-46zM565,4670l23,41h-46zM568,4662l23,41h-46zM657,4504l23,41h-46zM588,4639l23,41h-46zM703,4604l23,41h-46zM663,4566l23,41h-46zM672,4611l23,41h-46zM493,4653l23,41h-46zM556,4679l23,41h-46zM688,4559l23,41h-46zM762,4589l23,41h-46zM591,4624l23,41h-46zM532,4684l23,41h-46zM583,4613l23,41h-46zM576,4645l23,41h-46zM535,4663l23,41h-46zM673,4576l23,41h-46zM562,4706l23,41h-46zM573,4628l23,41h-46zM977,4617l23,41h-46zM818,4615l23,41h-46zM741,4440l23,41h-46zM498,4704l23,41h-46zM593,4689l23,41h-46zM597,4651l23,41h-46zM523,4701l23,41h-46zM793,4578l23,41h-46zM705,4468l23,41h-46zM509,4679l23,41h-46zM639,4632l23,41h-46zM552,4664l23,41h-46zM478,4690l23,41h-46zM637,4689l23,41h-46zM638,4666l23,41h-46zM610,4586l23,41h-46zM557,4620l23,41h-46zM551,4628l23,41h-46zM790,4583l23,41h-46zM565,4741l23,41h-46zM754,4491l23,41h-46zM711,4630l23,41h-46zM583,4672l23,41h-46zM564,4597l23,41h-46zM555,4689l23,41h-46zM844,4621l23,41h-46zM660,4621l23,41h-46zM479,4704l23,41h-46zM545,4698l23,41h-46zM667,4656l23,41h-46zM713,4608l23,41h-46zM623,4651l23,41h-46zM559,4690l23,41h-46zM604,4612l23,41h-46zM549,4621l23,41h-46zM853,4578l23,41h-46zM603,4736l23,41h-46zM579,4623l23,41h-46zM555,4696l23,41h-46zM1198,4113l23,41h-46z" fill="#e8574c" fill-opacity="0.38"/><path d="M724,4583l23,41h-46zM545,4691l23,41h-46zM557,4667l23,41h-46zM731,4586l23,41h-46zM517,4625l23,41h-46zM673,4544l23,41h-46zM629,4665l23,41h-46zM549,4673l23,41h-46zM697,4537l23,41h-46zM622,4653l23,41h-46zM581,4591l23,41h-46zM505,4679l23,41h-46zM514,4634l23,41h-46zM623,4581l23,41h-46zM642,4489l23,41h-46zM654,4569l23,41h-46zM549,4674l23,41h-46zM673,4569l23,41h-46zM729,4659l23,41h-46zM798,4598l23,41h-46zM688,4660l23,41h-46zM820,4557l23,41h-46zM580,4688l23,41h-46zM505,4686l23,41h-46zM607,4566l23,41h-46zM602,4645l23,41h-46zM580,4619l23,41h-46zM550,4684l23,41h-46zM549,4614l23,41h-46zM602,4665l23,41h-46zM523,4614l23,41h-46zM575,4685l23,41h-46zM549,4754l23,41h-46zM599,4686l23,41h-46zM618,4593l23,41h-46zM580,4644l23,41h-46zM645,4589l23,41h-46zM644,4551l23,41h-46zM549,4618l23,41h-46zM632,4621l23,41h-46zM549,4571l23,41h-46zM548,4655l23,41h-46zM542,4638l23,41h-46zM538,4711l23,41h-46zM612,4602l23,41h-46zM499,4741l23,41h-46zM570,4655l23,41h-46zM591,4583l23,41h-46zM528,4645l23,41h-46zM759,4638l23,41h-46zM734,4623l23,41h-46zM589,4570l23,41h-46zM722,4603l23,41h-46zM655,4604l23,41h-46zM635,4653l23,41h-46zM580,4630l23,41h-46zM567,4648l23,41h-46zM501,4698l23,41h-46zM696,4591l23,41h-46zM871,4561l23,41h-46zM887,4553l23,41h-46zM556,4591l23,41h-46zM944,4386l23,41h-46z" fill="#e8574c" fill-opacity="0.38"/></g></g>
<g clip-path="url(#clipc)"><g transform="scale(.1)"><path d="M744,4339l23,34-23,34-23-34zM1117,3684l23,34-23,34-23-34zM886,4289l23,34-23,34-23-34zM849,4194l23,34-23,34-23-34zM858,4497l23,34-23,34-23-34zM1031,4090l23,34-23,34-23-34zM1009,4123l23,34-23,34-23-34zM933,3961l23,34-23,34-23-34zM1289,3864l23,34-23,34-23-34zM1218,3877l23,34-23,34-23-34zM801,4292l23,34-23,34-23-34zM692,4447l23,34-23,34-23-34zM661,4483l23,34-23,34-23-34zM1012,4198l23,34-23,34-23-34zM928,4378l23,34-23,34-23-34zM727,4011l23,34-23,34-23-34zM1071,4071l23,34-23,34-23-34zM1046,4118l23,34-23,34-23-34zM870,4357l23,34-23,34-23-34zM665,4455l23,34-23,34-23-34zM964,3982l23,34-23,34-23-34zM857,4374l23,34-23,34-23-34zM710,4499l23,34-23,34-23-34zM649,4349l23,34-23,34-23-34zM930,4100l23,34-23,34-23-34zM813,4345l23,34-23,34-23-34zM1004,4109l23,34-23,34-23-34zM942,4026l23,34-23,34-23-34zM859,4183l23,34-23,34-23-34zM734,4359l23,34-23,34-23-34zM825,4095l23,34-23,34-23-34zM1191,3736l23,34-23,34-23-34zM976,3772l23,34-23,34-23-34zM858,4234l23,34-23,34-23-34zM1040,3749l23,34-23,34-23-34zM861,4179l23,34-23,34-23-34zM689,4178l23,34-23,34-23-34zM726,4562l23,34-23,34-23-34zM1119,3870l23,34-23,34-23-34zM1114,4089l23,34-23,34-23-34zM996,4198l23,34-23,34-23-34zM1207,4310l23,34-23,34-23-34zM842,4115l23,34-23,34-23-34zM1155,4231l23,34-23,34-23-34zM797,4356l23,34-23,34-23-34zM967,3891l23,34-23,34-23-34zM883,4078l23,34-23,34-23-34zM1062,4099l23,34-23,34-23-34zM1081,4172l23,34-23,34-23-34zM720,4350l23,34-23,34-23-34zM831,4435l23,34-23,34-23-34zM817,4265l23,34-23,34-23-34zM807,4194l23,34-23,34-23-34zM941,4253l23,34-23,34-23-34zM745,4419l23,34-23,34-23-34zM1318,3735l23,34-23,34-23-34zM1016,4155l23,34-23,34-23-34zM886,4166l23,34-23,34-23-34zM723,4228l23,34-23,34-23-34zM930,4126l23,34-23,34-23-34zM982,3994l23,34-23,34-23-34zM777,4300l23,34-23,34-23-34zM953,3999l23,34-23,34-23-34zM926,4172l23,34-23,34-23-34zM996,4229l23,34-23,34-23-34zM1134,3818l23,34-23,34-23-34zM944,4471l23,34-23,34-23-34zM1185,3631l23,34-23,34-23-34zM919,4066l23,34-23,34-23-34zM904,4219l23,34-23,34-23-34zM887,4222l23,34-23,34-23-34zM1023,4021l23,34-23,34-23-34zM1355,3608l23,34-23,34-23-34z" fill="#6a86cc" fill-opacity="0.42"/><path d="M989,4139l23,34-23,34-23-34zM750,4472l23,34-23,34-23-34zM780,4242l23,34-23,34-23-34zM877,4149l23,34-23,34-23-34zM825,4297l23,34-23,34-23-34zM783,4360l23,34-23,34-23-34zM901,3871l23,34-23,34-23-34zM745,4318l23,34-23,34-23-34zM1337,3545l23,34-23,34-23-34zM830,4239l23,34-23,34-23-34zM835,4111l23,34-23,34-23-34zM1011,4068l23,34-23,34-23-34zM960,4320l23,34-23,34-23-34zM985,3801l23,34-23,34-23-34zM803,4401l23,34-23,34-23-34zM1147,3770l23,34-23,34-23-34zM760,4272l23,34-23,34-23-34zM1083,4005l23,34-23,34-23-34zM969,3841l23,34-23,34-23-34zM947,4195l23,34-23,34-23-34zM748,4273l23,34-23,34-23-34zM997,3883l23,34-23,34-23-34zM721,4319l23,34-23,34-23-34zM588,4525l23,34-23,34-23-34zM668,4209l23,34-23,34-23-34zM896,4226l23,34-23,34-23-34zM1268,4135l23,34-23,34-23-34zM886,4107l23,34-23,34-23-34zM1093,4161l23,34-23,34-23-34zM705,4358l23,34-23,34-23-34zM660,4338l23,34-23,34-23-34zM972,4073l23,34-23,34-23-34zM703,4275l23,34-23,34-23-34zM1208,4229l23,34-23,34-23-34zM787,4009l23,34-23,34-23-34zM1119,3784l23,34-23,34-23-34zM1061,4222l23,34-23,34-23-34zM778,4101l23,34-23,34-23-34zM1109,3946l23,34-23,34-23-34zM1224,4110l23,34-23,34-23-34zM1008,4063l23,34-23,34-23-34zM1266,4179l23,34-23,34-23-34zM952,4193l23,34-23,34-23-34zM964,4086l23,34-23,34-23-34zM794,4222l23,34-23,34-23-34zM912,4340l23,34-23,34-23-34zM930,4242l23,34-23,34-23-34zM1202,4038l23,34-23,34-23-34zM761,4375l23,34-23,34-23-34zM1246,3839l23,34-23,34-23-34zM895,4111l23,34-23,34-23-34zM733,4455l23,34-23,34-23-34zM1005,4405l23,34-23,34-23-34zM917,3978l23,34-23,34-23-34zM1089,3843l23,34-23,34-23-34zM709,4227l23,34-23,34-23-34zM867,4245l23,34-23,34-23-34zM970,4116l23,34-23,34-23-34zM999,3891l23,34-23,34-23-34zM881,4138l23,34-23,34-23-34zM1014,3941l23,34-23,34-23-34zM626,4470l23,34-23,34-23-34zM890,4156l23,34-23,34-23-34zM835,4260l23,34-23,34-23-34zM1067,4089l23,34-23,34-23-34zM916,4029l23,34-23,34-23-34zM628,4400l23,34-23,34-23-34zM841,3959l23,34-23,34-23-34zM1005,4218l23,34-23,34-23-34zM962,4022l23,34-23,34-23-34zM809,4406l23,34-23,34-23-34zM1012,4101l23,34-23,34-23-34zM1489,3777l23,34-23,34-23-34z" fill="#6a86cc" fill-opacity="0.42"/><path d="M763,3992l23,34-23,34-23-34zM1135,3980l23,34-23,34-23-34zM825,4246l23,34-23,34-23-34zM1046,3721l23,34-23,34-23-34zM652,4456l23,34-23,34-23-34zM1126,3692l23,34-23,34-23-34zM1048,4268l23,34-23,34-23-34zM698,4286l23,34-23,34-23-34zM844,4295l23,34-23,34-23-34zM817,4191l23,34-23,34-23-34zM1177,4116l23,34-23,34-23-34zM751,4241l23,34-23,34-23-34zM1006,4056l23,34-23,34-23-34zM771,4381l23,34-23,34-23-34zM831,4361l23,34-23,34-23-34zM723,4538l23,34-23,34-23-34zM910,4177l23,34-23,34-23-34zM1148,4257l23,34-23,34-23-34zM798,4111l23,34-23,34-23-34zM705,4331l23,34-23,34-23-34zM758,4351l23,34-23,34-23-34zM962,4187l23,34-23,34-23-34zM729,4245l23,34-23,34-23-34zM1110,4263l23,34-23,34-23-34zM832,4136l23,34-23,34-23-34zM1045,3885l23,34-23,34-23-34zM793,4086l23,34-23,34-23-34zM993,4090l23,34-23,34-23-34zM913,4159l23,34-23,34-23-34zM848,4266l23,34-23,34-23-34zM1240,3640l23,34-23,34-23-34zM1023,4300l23,34-23,34-23-34zM1135,4000l23,34-23,34-23-34zM962,3993l23,34-23,34-23-34zM1000,4091l23,34-23,34-23-34zM909,3978l23,34-23,34-23-34zM878,4327l23,34-23,34-23-34zM819,3887l23,34-23,34-23-34zM1037,4286l23,34-23,34-23-34zM931,4143l23,34-23,34-23-34zM1032,3824l23,34-23,34-23-34zM910,4136l23,34-23,34-23-34zM1240,3908l23,34-23,34-23-34zM869,4258l23,34-23,34-23-34zM974,4050l23,34-23,34-23-34zM819,4414l23,34-23,34-23-34zM1016,4104l23,34-23,34-23-34zM1060,3957l23,34-23,34-23-34zM762,4431l23,34-23,34-23-34zM1032,3888l23,34-23,34-23-34zM920,4067l23,34-23,34-23-34zM911,4264l23,34-23,34-23-34zM652,4402l23,34-23,34-23-34zM1115,3745l23,34-23,34-23-34zM992,4023l23,34-23,34-23-34zM884,4344l23,34-23,34-23-34zM865,4323l23,34-23,34-23-34zM859,4284l23,34-23,34-23-34zM1082,3925l23,34-23,34-23-34zM839,4436l23,34-23,34-23-34zM1334,3996l23,34-23,34-23-34zM1374,4154l23,34-23,34-23-34zM877,4050l23,34-23,34-23-34zM932,4187l23,34-23,34-23-34zM805,4180l23,34-23,34-23-34zM887,4125l23,34-23,34-23-34zM790,4265l23,34-23,34-23-34zM1009,4308l23,34-23,34-23-34zM751,4370l23,34-23,34-23-34zM946,4014l23,34-23,34-23-34zM1189,4048l23,34-23,34-23-34zM903,4390l23,34-23,34-23-34zM1288,3709l23,34-23,34-23-34z" fill="#6a86cc" fill-opacity="0.42"/><path d="M998,3993l23,34-23,34-23-34zM1049,3783l23,34-23,34-23-34zM751,4262l23,34-23,34-23-34zM1135,3918l23,34-23,34-23-34zM870,4141l23,34-23,34-23-34zM1017,3757l23,34-23,34-23-34zM828,4256l23,34-23,34-23-34zM985,4067l23,34-23,34-23-34zM823,4160l23,34-23,34-23-34zM905,3995l23,34-23,34-23-34zM1034,3958l23,34-23,34-23-34zM853,3921l23,34-23,34-23-34zM904,3898l23,34-23,34-23-34zM1074,3951l23,34-23,34-23-34zM1160,3806l23,34-23,34-23-34zM889,4162l23,34-23,34-23-34zM863,4108l23,34-23,34-23-34zM732,4362l23,34-23,34-23-34zM977,4123l23,34-23,34-23-34zM786,4103l23,34-23,34-23-34zM1215,4444l23,34-23,34-23-34zM1059,3824l23,34-23,34-23-34zM1047,4125l23,34-23,34-23-34zM888,4436l23,34-23,34-23-34zM731,4346l23,34-23,34-23-34zM941,4328l23,34-23,34-23-34zM790,4468l23,34-23,34-23-34zM1107,4085l23,34-23,34-23-34zM814,4278l23,34-23,34-23-34zM1224,3839l23,34-23,34-23-34zM1058,4232l23,34-23,34-23-34zM1104,3968l23,34-23,34-23-34zM894,4154l23,34-23,34-23-34zM884,4200l23,34-23,34-23-34zM733,4222l23,34-23,34-23-34zM774,4403l23,34-23,34-23-34zM855,3970l23,34-23,34-23-34zM922,4252l23,34-23,34-23-34zM1085,3776l23,34-23,34-23-34zM667,4358l23,34-23,34-23-34zM1353,3957l23,34-23,34-23-34zM690,4581l23,34-23,34-23-34zM768,4329l23,34-23,34-23-34zM838,4426l23,34-23,34-23-34zM696,4366l23,34-23,34-23-34zM934,4443l23,34-23,34-23-34zM1176,4116l23,34-23,34-23-34zM744,4216l23,34-23,34-23-34zM769,4092l23,34-23,34-23-34zM1273,3974l23,34-23,34-23-34zM1208,4025l23,34-23,34-23-34zM864,4252l23,34-23,34-23-34zM703,4273l23,34-23,34-23-34zM825,4296l23,34-23,34-23-34zM923,4028l23,34-23,34-23-34zM969,4086l23,34-23,34-23-34zM1179,4002l23,34-23,34-23-34zM745,4404l23,34-23,34-23-34zM1027,4062l23,34-23,34-23-34zM987,3923l23,34-23,34-23-34zM799,4291l23,34-23,34-23-34zM960,4046l23,34-23,34-23-34zM874,4021l23,34-23,34-23-34zM1263,3860l23,34-23,34-23-34zM1053,4057l23,34-23,34-23-34zM873,4121l23,34-23,34-23-34zM856,3964l23,34-23,34-23-34zM921,3757l23,34-23,34-23-34zM771,4140l23,34-23,34-23-34zM848,4298l23,34-23,34-23-34zM1058,3866l23,34-23,34-23-34zM735,4268l23,34-23,34-23-34zM1153,3541l23,34-23,34-23-34z" fill="#6a86cc" fill-opacity="0.42"/><path d="M776,4356l23,34-23,34-23-34zM1194,4286l23,34-23,34-23-34zM780,4511l23,34-23,34-23-34zM795,4242l23,34-23,34-23-34zM846,4138l23,34-23,34-23-34zM921,4004l23,34-23,34-23-34zM836,4147l23,34-23,34-23-34zM1024,4341l23,34-23,34-23-34zM1279,4050l23,34-23,34-23-34zM910,4195l23,34-23,34-23-34zM772,4426l23,34-23,34-23-34zM1313,4188l23,34-23,34-23-34zM772,4378l23,34-23,34-23-34zM797,4345l23,34-23,34-23-34zM1064,3746l23,34-23,34-23-34zM586,4526l23,34-23,34-23-34zM679,4252l23,34-23,34-23-34zM836,4155l23,34-23,34-23-34zM1380,3703l23,34-23,34-23-34zM722,4358l23,34-23,34-23-34zM1208,3681l23,34-23,34-23-34zM863,4205l23,34-23,34-23-34zM950,3998l23,34-23,34-23-34zM1022,4043l23,34-23,34-23-34zM806,4160l23,34-23,34-23-34zM939,4085l23,34-23,34-23-34zM1049,3916l23,34-23,34-23-34zM874,3991l23,34-23,34-23-34zM963,3957l23,34-23,34-23-34zM982,4043l23,34-23,34-23-34zM836,4083l23,34-23,34-23-34zM1063,3647l23,34-23,34-23-34zM913,4130l23,34-23,34-23-34zM1019,3819l23,34-23,34-23-34zM1290,3875l23,34-23,34-23-34zM1203,3777l23,34-23,34-23-34zM946,4058l23,34-23,34-23-34zM729,4262l23,34-23,34-23-34zM966,4275l23,34-23,34-23-34zM729,4103l23,34-23,34-23-34zM930,4302l23,34-23,34-23-34zM890,4109l23,34-23,34-23-34zM826,4136l23,34-23,34-23-34zM845,4179l23,34-23,34-23-34zM834,4011l23,34-23,34-23-34zM799,4103l23,34-23,34-23-34zM1291,3921l23,34-23,34-23-34zM1081,4126l23,34-23,34-23-34zM1177,3691l23,34-23,34-23-34zM941,4129l23,34-23,34-23-34zM790,4196l23,34-23,34-23-34zM1024,3794l23,34-23,34-23-34zM1099,3922l23,34-23,34-23-34zM769,4265l23,34-23,34-23-34zM981,4052l23,34-23,34-23-34zM1025,4107l23,34-23,34-23-34zM1263,3980l23,34-23,34-23-34zM1147,3759l23,34-23,34-23-34zM731,4336l23,34-23,34-23-34zM822,4235l23,34-23,34-23-34zM911,3973l23,34-23,34-23-34zM1063,3781l23,34-23,34-23-34zM832,4306l23,34-23,34-23-34zM870,4189l23,34-23,34-23-34zM1429,3869l23,34-23,34-23-34zM1024,4105l23,34-23,34-23-34zM876,4265l23,34-23,34-23-34zM921,4008l23,34-23,34-23-34zM861,4171l23,34-23,34-23-34zM1147,4097l23,34-23,34-23-34zM880,4127l23,34-23,34-23-34zM1198,3473l23,34-23,34-23-34zM1265,3625l23,34-23,34-23-34z" fill="#6a86cc" fill-opacity="0.42"/><path d="M1028,4061l23,34-23,34-23-34zM1035,3766l23,34-23,34-23-34zM1078,4132l23,34-23,34-23-34zM963,3817l23,34-23,34-23-34zM770,4258l23,34-23,34-23-34zM903,3993l23,34-23,34-23-34zM783,4271l23,34-23,34-23-34zM994,4173l23,34-23,34-23-34zM887,4431l23,34-23,34-23-34zM780,4305l23,34-23,34-23-34zM1365,3613l23,34-23,34-23-34zM897,4249l23,34-23,34-23-34zM1020,4089l23,34-23,34-23-34zM838,4165l23,34-23,34-23-34zM685,4379l23,34-23,34-23-34zM780,4472l23,34-23,34-23-34zM896,4244l23,34-23,34-23-34zM960,3967l23,34-23,34-23-34zM904,3845l23,34-23,34-23-34zM791,4110l23,34-23,34-23-34zM694,4327l23,34-23,34-23-34zM948,3981l23,34-23,34-23-34zM903,4091l23,34-23,34-23-34zM1128,3896l23,34-23,34-23-34zM774,4267l23,34-23,34-23-34zM961,3958l23,34-23,34-23-34zM811,4202l23,34-23,34-23-34zM941,4104l23,34-23,34-23-34zM731,4454l23,34-23,34-23-34zM1190,3795l23,34-23,34-23-34zM1110,3972l23,34-23,34-23-34zM857,4140l23,34-23,34-23-34zM975,4114l23,34-23,34-23-34zM907,3957l23,34-23,34-23-34zM1309,4054l23,34-23,34-23-34zM1244,3989l23,34-23,34-23-34zM869,4025l23,34-23,34-23-34zM946,3957l23,34-23,34-23-34zM1051,3902l23,34-23,34-23-34zM1009,4236l23,34-23,34-23-34zM943,3966l23,34-23,34-23-34zM957,4320l23,34-23,34-23-34zM1056,3712l23,34-23,34-23-34zM1086,4043l23,34-23,34-23-34zM1000,4083l23,34-23,34-23-34zM1243,3897l23,34-23,34-23-34zM767,4362l23,34-23,34-23-34zM990,4087l23,34-23,34-23-34zM1163,3851l23,34-23,34-23-34zM871,4140l23,34-23,34-23-34zM980,4101l23,34-23,34-23-34zM1213,3849l23,34-23,34-23-34zM961,4170l23,34-23,34-23-34zM700,4209l23,34-23,34-23-34zM715,4310l23,34-23,34-23-34zM975,4111l23,34-23,34-23-34zM658,4528l23,34-23,34-23-34zM1192,3921l23,34-23,34-23-34zM1061,4075l23,34-23,34-23-34zM834,4151l23,34-23,34-23-34zM911,3909l23,34-23,34-23-34zM1243,4154l23,34-23,34-23-34zM1110,3904l23,34-23,34-23-34zM625,4663l23,34-23,34-23-34zM1144,3800l23,34-23,34-23-34zM1156,3978l23,34-23,34-23-34zM1080,3966l23,34-23,34-23-34zM810,4353l23,34-23,34-23-34zM895,4268l23,34-23,34-23-34zM707,4326l23,34-23,34-23-34zM786,4081l23,34-23,34-23-34zM1869,3439l23,34-23,34-23-34z" fill="#6a86cc" fill-opacity="0.42"/></g></g>
<g clip-path="url(#clipc)"><g transform="scale(.1)"><path d="M539,4666h0M482,4727h0M525,4687h0M654,4471h0M521,4653h0M532,4647h0M552,4644h0M606,4575h0M593,4611h0M544,4613h0M490,4679h0M502,4750h0M508,4710h0M527,4741h0M525,4695h0M587,4677h0M514,4617h0M534,4621h0M498,4753h0M519,4674h0M518,4723h0M624,4496h0M620,4458h0M544,4603h0M458,4740h0M477,4758h0M524,4628h0M536,4590h0M619,4464h0M491,4661h0M591,4615h0M594,4564h0M458,4712h0M569,4629h0M569,4599h0M603,4581h0M517,4628h0M721,4366h0M698,4460h0M534,4638h0M550,4583h0M536,4700h0M577,4613h0M536,4655h0M724,4402h0M554,4682h0M791,4510h0M548,4642h0M581,4557h0M615,4467h0M678,4531h0M482,4763h0M544,4660h0M652,4501h0M643,4485h0M477,4731h0M473,4742h0M712,4498h0M537,4606h0M529,4669h0M701,4379h0M753,4391h0M521,4644h0M520,4609h0" stroke="#5aaee0" stroke-opacity="0.45" stroke-width="42" stroke-linecap="round"/><path d="M527,4625h0M647,4518h0M507,4684h0M504,4714h0M461,4734h0M600,4638h0M523,4700h0M527,4674h0M665,4477h0M594,4513h0M554,4636h0M527,4657h0M609,4494h0M490,4661h0M693,4409h0M507,4681h0M720,4427h0M588,4615h0M630,4488h0M561,4687h0M513,4647h0M493,4701h0M499,4700h0M465,4758h0M580,4623h0M563,4631h0M476,4736h0M630,4508h0M579,4584h0M955,4142h0M559,4592h0M480,4716h0M531,4617h0M481,4684h0M497,4743h0M503,4662h0M587,4595h0M623,4527h0M694,4333h0M563,4599h0M566,4572h0M810,4335h0M524,4641h0M816,4394h0M708,4447h0M635,4571h0M932,4238h0M547,4612h0M503,4679h0M486,4743h0M565,4564h0M716,4446h0M523,4693h0M549,4663h0M605,4490h0M521,4645h0M621,4590h0M477,4705h0M549,4622h0M603,4545h0M596,4545h0M527,4661h0M554,4592h0M633,4575h0" stroke="#5aaee0" stroke-opacity="0.45" stroke-width="42" stroke-linecap="round"/><path d="M628,4571h0M622,4578h0M723,4285h0M681,4517h0M673,4438h0M536,4592h0M599,4581h0M591,4624h0M482,4704h0M622,4527h0M540,4675h0M772,4275h0M580,4634h0M525,4702h0M616,4506h0M489,4710h0M816,4312h0M495,4677h0M631,4554h0M541,4653h0M579,4654h0M552,4667h0M468,4713h0M596,4556h0M648,4585h0M629,4521h0M678,4495h0M582,4569h0M472,4725h0M490,4721h0M581,4566h0M655,4439h0M682,4526h0M582,4525h0M586,4607h0M573,4674h0M514,4664h0M571,4522h0M507,4685h0M521,4685h0M737,4222h0M617,4582h0M697,4432h0M537,4621h0M775,4355h0M633,4491h0M463,4772h0M690,4404h0M600,4518h0M482,4721h0M697,4424h0M635,4577h0M525,4665h0M524,4682h0M500,4737h0M510,4688h0M743,4209h0M798,4392h0M570,4634h0M740,4320h0M538,4633h0M754,4345h0M506,4696h0" stroke="#5aaee0" stroke-opacity="0.45" stroke-width="42" stroke-linecap="round"/><path d="M932,4209h0M606,4604h0M559,4607h0M521,4672h0M462,4760h0M514,4645h0M590,4585h0M519,4634h0M557,4722h0M611,4572h0M492,4660h0M599,4526h0M574,4569h0M512,4741h0M628,4528h0M660,4550h0M676,4427h0M555,4620h0M557,4636h0M473,4775h0M937,4280h0M568,4599h0M606,4501h0M484,4713h0M522,4574h0M535,4714h0M491,4696h0M573,4549h0M601,4644h0M666,4461h0M634,4523h0M534,4647h0M766,4361h0M610,4599h0M632,4589h0M651,4436h0M500,4695h0M555,4761h0M748,4245h0M650,4555h0M575,4543h0M615,4625h0M586,4540h0M510,4698h0M588,4490h0M570,4582h0M495,4727h0M479,4682h0M664,4491h0M660,4491h0M564,4564h0M711,4458h0M622,4550h0M638,4563h0M854,4321h0M822,4235h0M441,4781h0M585,4636h0M790,4443h0M615,4529h0M741,4398h0M517,4709h0M517,4718h0" stroke="#5aaee0" stroke-opacity="0.45" stroke-width="42" stroke-linecap="round"/><path d="M547,4633h0M688,4366h0M786,4231h0M547,4671h0M576,4552h0M753,4314h0M616,4597h0M564,4617h0M661,4400h0M572,4447h0M660,4527h0M695,4501h0M481,4731h0M619,4589h0M645,4516h0M488,4687h0M479,4726h0M657,4439h0M475,4728h0M659,4510h0M520,4646h0M874,4080h0M567,4604h0M510,4674h0M595,4508h0M582,4561h0M537,4662h0M581,4514h0M843,4253h0M584,4532h0M558,4565h0M667,4549h0M484,4739h0M593,4527h0M646,4458h0M502,4695h0M547,4607h0M603,4547h0M528,4668h0M546,4639h0M696,4488h0M481,4786h0M521,4746h0M454,4753h0M526,4684h0M659,4643h0M480,4710h0M569,4581h0M625,4521h0M510,4689h0M702,4411h0M467,4721h0M496,4700h0M847,4266h0M654,4499h0M573,4575h0M568,4686h0M551,4607h0M526,4571h0M521,4697h0M609,4555h0M501,4735h0M727,4471h0" stroke="#5aaee0" stroke-opacity="0.45" stroke-width="42" stroke-linecap="round"/><path d="M686,4498h0M479,4735h0M533,4661h0M529,4666h0M588,4586h0M531,4625h0M687,4531h0M481,4744h0M666,4451h0M614,4657h0M743,4269h0M526,4654h0M877,4326h0M501,4738h0M766,4278h0M555,4610h0M543,4674h0M576,4602h0M980,4290h0M554,4625h0M622,4386h0M625,4553h0M539,4668h0M1108,4091h0M706,4315h0M596,4662h0M542,4585h0M703,4399h0M507,4705h0M496,4698h0M544,4675h0M681,4528h0M573,4631h0M525,4667h0M757,4311h0M521,4634h0M763,4427h0M678,4516h0M666,4547h0M533,4661h0M586,4623h0M556,4589h0M513,4679h0M622,4485h0M557,4664h0M512,4672h0M546,4584h0M570,4561h0M677,4444h0M576,4580h0M536,4628h0M738,4414h0M658,4469h0M740,4436h0M709,4416h0M595,4558h0M633,4507h0M560,4687h0M453,4761h0M583,4571h0M562,4593h0M548,4658h0M502,4640h0" stroke="#5aaee0" stroke-opacity="0.45" stroke-width="42" stroke-linecap="round"/></g></g>
<path d="M45.3,475.6 L53.6,463.2 L63.9,450.3 L75.1,437.3 L86.2,425.0 L108.6,404.7" fill="none" stroke="#3f9fdc" stroke-width="1.9" stroke-linejoin="round"/>
<circle cx="53.6" cy="463.2" r="1.3" fill="#3f9fdc"/>
<circle cx="63.9" cy="450.3" r="1.3" fill="#3f9fdc"/>
<circle cx="75.1" cy="437.3" r="1.3" fill="#3f9fdc"/>
<circle cx="86.2" cy="425.0" r="1.3" fill="#3f9fdc"/>
<circle cx="108.6" cy="404.7" r="1.3" fill="#3f9fdc"/>
<path d="M53.6,457.0 L107.5,403.0 L135.0,392.5" fill="none" stroke="#2c4fa8" stroke-width="1.5" stroke-linejoin="round"/>
<circle cx="107.5" cy="403.0" r="1.3" fill="#2c4fa8"/>
<circle cx="135.0" cy="392.5" r="1.3" fill="#2c4fa8"/>
<path d="M135.0,396.4 L135.0,388.6 M133.2,396.4 L136.8,396.4 M133.2,388.6 L136.8,388.6" stroke="#2c4fa8" stroke-width="1.1" fill="none"/>
<path d="M52.7,470.0 L109.5,448.0" fill="none" stroke="#e43a2d" stroke-width="1.9" stroke-linejoin="round"/>
<circle cx="109.5" cy="448.0" r="1.3" fill="#e43a2d"/>
<path d="M53.6,466.8 L108.6,446.0 L135.9,436.6 L162.3,421.2" fill="none" stroke="#7d1a16" stroke-width="1.5" stroke-linejoin="round"/>
<circle cx="108.6" cy="446.0" r="1.3" fill="#7d1a16"/>
<circle cx="135.9" cy="436.6" r="1.3" fill="#7d1a16"/>
<circle cx="162.3" cy="421.2" r="1.3" fill="#7d1a16"/>
<path d="M162.3,425.1 L162.3,417.3 M160.5,425.1 L164.1,425.1 M160.5,417.3 L164.1,417.3" stroke="#7d1a16" stroke-width="1.1" fill="none"/>
<clipPath id="clipd"><rect x="276.0" y="330" width="185" height="154.60000000000002"/></clipPath>
<circle cx="288.0" cy="311.6" r="2.6" fill="#5badde"/>
<text x="296.1" y="315.9" font-size="10.6" fill="#231f20" stroke="#231f20" stroke-width="0.2" textLength="68.6" lengthAdjust="spacingAndGlyphs">SCGE haploid</text>
<path d="M288.0,321.4 L290.9,325.4 L288.0,329.4 L285.1,325.4Z" fill="#3b3f95"/>
<text x="296.1" y="329.7" font-size="10.6" fill="#231f20" stroke="#231f20" stroke-width="0.2" textLength="65.8" lengthAdjust="spacingAndGlyphs">SCGE diploid</text>
<path d="M380.2,307.9 L383.6,314.0 L376.8,314.0Z" fill="#e2322b"/>
<text x="388.3" y="315.9" font-size="10.6" fill="#231f20" stroke="#231f20" stroke-width="0.2" textLength="61.2" lengthAdjust="spacingAndGlyphs">SCD haploid</text>
<rect x="377.7" y="322.9" width="5.0" height="5.0" fill="#8e2320"/>
<text x="388.3" y="329.7" font-size="10.6" fill="#231f20" stroke="#231f20" stroke-width="0.2" textLength="59.2" lengthAdjust="spacingAndGlyphs">SCD diploid</text>
<path d="M279.0,340.55 L279.0,481.6 L457.9,481.6" fill="none" stroke="#6d6e71" stroke-width="0.8"/>
<line x1="279.00" y1="481.6" x2="279.00" y2="478.6" stroke="#6d6e71" stroke-width="0.8"/>
<text x="279.0" y="495.2" font-size="10.2" text-anchor="middle" fill="#3a3a3a" stroke="#3a3a3a" stroke-width="0.2">0</text>
<line x1="323.75" y1="481.6" x2="323.75" y2="478.6" stroke="#6d6e71" stroke-width="0.8"/>
<text x="323.8" y="495.2" font-size="10.2" text-anchor="middle" fill="#3a3a3a" stroke="#3a3a3a" stroke-width="0.2">200</text>
<line x1="368.50" y1="481.6" x2="368.50" y2="478.6" stroke="#6d6e71" stroke-width="0.8"/>
<text x="368.5" y="495.2" font-size="10.2" text-anchor="middle" fill="#3a3a3a" stroke="#3a3a3a" stroke-width="0.2">400</text>
<line x1="413.25" y1="481.6" x2="413.25" y2="478.6" stroke="#6d6e71" stroke-width="0.8"/>
<text x="413.2" y="495.2" font-size="10.2" text-anchor="middle" fill="#3a3a3a" stroke="#3a3a3a" stroke-width="0.2">600</text>
<line x1="458.00" y1="481.6" x2="458.00" y2="478.6" stroke="#6d6e71" stroke-width="0.8"/>
<text x="458.0" y="495.2" font-size="10.2" text-anchor="middle" fill="#3a3a3a" stroke="#3a3a3a" stroke-width="0.2">800</text>
<line x1="279.0" y1="481.60" x2="282.0" y2="481.60" stroke="#6d6e71" stroke-width="0.8"/>
<text x="274.0" y="485.0" font-size="10.2" text-anchor="end" fill="#3a3a3a" stroke="#3a3a3a" stroke-width="0.2">0</text>
<line x1="279.0" y1="461.45" x2="282.0" y2="461.45" stroke="#6d6e71" stroke-width="0.8"/>
<text x="274.0" y="464.9" font-size="10.2" text-anchor="end" fill="#3a3a3a" stroke="#3a3a3a" stroke-width="0.2">25</text>
<line x1="279.0" y1="441.30" x2="282.0" y2="441.30" stroke="#6d6e71" stroke-width="0.8"/>
<text x="274.0" y="444.7" font-size="10.2" text-anchor="end" fill="#3a3a3a" stroke="#3a3a3a" stroke-width="0.2">50</text>
<line x1="279.0" y1="421.15" x2="282.0" y2="421.15" stroke="#6d6e71" stroke-width="0.8"/>
<text x="274.0" y="424.6" font-size="10.2" text-anchor="end" fill="#3a3a3a" stroke="#3a3a3a" stroke-width="0.2">75</text>
<line x1="279.0" y1="401.00" x2="282.0" y2="401.00" stroke="#6d6e71" stroke-width="0.8"/>
<text x="274.0" y="404.4" font-size="10.2" text-anchor="end" fill="#3a3a3a" stroke="#3a3a3a" stroke-width="0.2">100</text>
<line x1="279.0" y1="380.85" x2="282.0" y2="380.85" stroke="#6d6e71" stroke-width="0.8"/>
<text x="274.0" y="384.2" font-size="10.2" text-anchor="end" fill="#3a3a3a" stroke="#3a3a3a" stroke-width="0.2">125</text>
<line x1="279.0" y1="360.70" x2="282.0" y2="360.70" stroke="#6d6e71" stroke-width="0.8"/>
<text x="274.0" y="364.1" font-size="10.2" text-anchor="end" fill="#3a3a3a" stroke="#3a3a3a" stroke-width="0.2">150</text>
<line x1="279.0" y1="340.55" x2="282.0" y2="340.55" stroke="#6d6e71" stroke-width="0.8"/>
<text x="274.0" y="343.9" font-size="10.2" text-anchor="end" fill="#3a3a3a" stroke="#3a3a3a" stroke-width="0.2">175</text>
<text x="251.2" y="411" font-size="10.8" text-anchor="middle" fill="#231f20" stroke="#231f20" stroke-width="0.2" textLength="102.9" lengthAdjust="spacingAndGlyphs" transform="rotate(-90 251.2 411)">Number of nucleoids</text>
<text x="368.7" y="512.7" font-size="10.8" text-anchor="middle" fill="#231f20" stroke="#231f20" stroke-width="0.2" textLength="78.2" lengthAdjust="spacingAndGlyphs">Cell volume (fL)</text>
<g clip-path="url(#clipd)"><g transform="scale(.1)"><path d="M3298,4589h0M3712,4469h0M3144,4619h0M3143,4647h0M3142,4471h0M3135,4607h0M3480,4425h0M3044,4675h0M3157,4603h0M3397,4549h0M3461,4371h0M2922,4732h0M3429,4512h0M3342,4676h0M3355,4575h0M3389,4462h0M3444,4429h0M3078,4608h0M3147,4631h0M3200,4665h0M3238,4617h0M3704,4595h0M3787,4136h0M3367,4602h0M3000,4695h0M3263,4588h0M3145,4788h0M3182,4644h0M3212,4551h0M3233,4746h0M3378,4503h0M3002,4647h0M3256,4356h0M3276,4607h0M3196,4574h0M3274,4484h0M3253,4479h0M3112,4624h0M3432,4514h0M3395,4564h0M3470,4467h0M3135,4517h0M3366,4575h0M3123,4586h0M3265,4658h0M3286,4510h0M3047,4678h0M3423,4703h0M3146,4633h0M3206,4481h0M3373,4633h0M3084,4555h0M3360,4566h0M3405,4592h0M3647,4320h0M3154,4609h0M3327,4490h0M3296,4628h0M3317,4460h0M3186,4545h0M3027,4627h0M3190,4636h0M3193,4568h0M3103,4735h0M3126,4666h0M3224,4527h0M3210,4661h0M3439,4589h0M3067,4623h0M3044,4615h0M3169,4488h0M3537,4378h0M3370,4539h0M3155,4590h0M3269,4568h0M3071,4561h0M3072,4630h0M2999,4581h0M3106,4588h0M3228,4425h0M3367,4661h0M3277,4591h0M3127,4596h0M3336,4629h0M3391,4593h0M3086,4541h0M3149,4651h0M3139,4590h0M3232,4706h0M3179,4512h0M3131,4548h0M3544,4492h0M3245,4351h0M3669,4508h0M3449,4474h0M3157,4668h0M3103,4563h0M3257,4720h0M3569,4582h0M3830,4268h0M4401,4026h0M4043,4187h0" stroke="#b6504b" stroke-opacity="0.42" stroke-width="39" stroke-linecap="square"/><path d="M3518,4432h0M3427,4570h0M3126,4559h0M3092,4535h0M3154,4597h0M3086,4669h0M3106,4662h0M3154,4703h0M3479,4485h0M3041,4698h0M3198,4541h0M3153,4658h0M3264,4492h0M3040,4649h0M3219,4672h0M3227,4615h0M3097,4554h0M3106,4656h0M3046,4610h0M3063,4617h0M3308,4618h0M3194,4632h0M3222,4604h0M3067,4614h0M3098,4595h0M3096,4715h0M3247,4636h0M3562,4372h0M3129,4683h0M3145,4653h0M3269,4547h0M3398,4389h0M3286,4704h0M3021,4709h0M3193,4632h0M3563,4315h0M3543,4492h0M3058,4614h0M3292,4620h0M3173,4515h0M3203,4699h0M2994,4629h0M3426,4515h0M3743,4465h0M3339,4452h0M3191,4569h0M3665,4561h0M3151,4525h0M3338,4574h0M3036,4601h0M3218,4492h0M3273,4567h0M3168,4524h0M3030,4688h0M3161,4490h0M3661,4491h0M3381,4519h0M3182,4515h0M3578,4353h0M3181,4591h0M3281,4477h0M3280,4529h0M3226,4581h0M3302,4503h0M3051,4639h0M3157,4577h0M3226,4561h0M3289,4662h0M3218,4770h0M3019,4668h0M3807,4378h0M3192,4645h0M3178,4490h0M3227,4580h0M3604,4425h0M3744,4383h0M3267,4495h0M3112,4683h0M3178,4584h0M3294,4484h0M3314,4500h0M3285,4362h0M3124,4589h0M3084,4698h0M3178,4703h0M3092,4652h0M3462,4423h0M3120,4653h0M3331,4544h0M3081,4659h0M3343,4685h0M3331,4524h0M3166,4722h0M3307,4533h0M3185,4563h0M3110,4528h0M3297,4632h0M3203,4654h0M3290,4539h0M3346,4536h0M4457,4050h0M4088,4228h0" stroke="#b6504b" stroke-opacity="0.42" stroke-width="39" stroke-linecap="square"/><path d="M3124,4576h0M3229,4423h0M3473,4388h0M3414,4459h0M3393,4495h0M3185,4637h0M3486,4459h0M3458,4481h0M3297,4670h0M3209,4528h0M3199,4678h0M3308,4545h0M3492,4626h0M3147,4632h0M3221,4522h0M3678,4331h0M3227,4652h0M3015,4708h0M3146,4525h0M3041,4702h0M3163,4720h0M3048,4636h0M3264,4541h0M3451,4607h0M3203,4625h0M3439,4503h0M3413,4460h0M3101,4707h0M3791,4392h0M3252,4628h0M3074,4575h0M3260,4677h0M3211,4520h0M3021,4617h0M3394,4543h0M3805,4284h0M3712,4382h0M3431,4650h0M3355,4575h0M3020,4598h0M3113,4666h0M3270,4626h0M3476,4477h0M3475,4420h0M3341,4349h0M3223,4371h0M2978,4676h0M3144,4562h0M3183,4663h0M3117,4700h0M3058,4617h0M3436,4598h0M3000,4641h0M3610,4477h0M3060,4616h0M3824,4252h0M3099,4695h0M3294,4589h0M3361,4654h0M3224,4617h0M3160,4667h0M3481,4384h0M3568,4440h0M3695,4719h0M3235,4459h0M3192,4674h0M3168,4729h0M3334,4454h0M3240,4540h0M3069,4611h0M3261,4445h0M3189,4625h0M3045,4658h0M3189,4502h0M3240,4598h0M3317,4492h0M3431,4496h0M3171,4498h0M3261,4704h0M3303,4476h0M3085,4620h0M3541,4526h0M3477,4399h0M3211,4642h0M3089,4600h0M3074,4588h0M3725,4457h0M3474,4423h0M2995,4751h0M3067,4752h0M3104,4646h0M3223,4481h0M3302,4647h0M3293,4527h0M3601,4360h0M3519,4523h0M3221,4462h0M3522,4454h0M3200,4582h0M3312,4366h0M4513,4244h0M3730,4735h0" stroke="#b6504b" stroke-opacity="0.42" stroke-width="39" stroke-linecap="square"/><path d="M3130,4637h0M3183,4501h0M3464,4522h0M3385,4384h0M3144,4616h0M3491,4495h0M3159,4619h0M3530,4672h0M3367,4567h0M3283,4581h0M3130,4606h0M3348,4559h0M3444,4426h0M3029,4729h0M3123,4552h0M3047,4631h0M3142,4603h0M3394,4441h0M3271,4510h0M3181,4635h0M3216,4630h0M3189,4642h0M3196,4504h0M3195,4557h0M3545,4511h0M3306,4524h0M3620,4281h0M3384,4446h0M3175,4568h0M2954,4713h0M3108,4601h0M3294,4508h0M3075,4676h0M3293,4454h0M3006,4794h0M3102,4668h0M3313,4619h0M3200,4460h0M3084,4644h0M3434,4623h0M3462,4512h0M3077,4570h0M3139,4756h0M3739,4441h0M3108,4637h0M3358,4622h0M3120,4622h0M3604,4544h0M3025,4733h0M3453,4487h0M3461,4442h0M3214,4654h0M3107,4672h0M3193,4669h0M3242,4625h0M3124,4534h0M3677,4417h0M3182,4666h0M3158,4534h0M3129,4664h0M3649,4400h0M3211,4584h0M3242,4486h0M3241,4575h0M3102,4602h0M3261,4499h0M3085,4454h0M3351,4430h0M3183,4654h0M3343,4544h0M3427,4510h0M3235,4641h0M3168,4572h0M3421,4551h0M2959,4649h0M3479,4621h0M3075,4637h0M3438,4464h0M3306,4484h0M3512,4509h0M3235,4773h0M3313,4573h0M3234,4343h0M3249,4469h0M3214,4537h0M3761,4330h0M3465,4365h0M3099,4571h0M3096,4707h0M3217,4618h0M3231,4667h0M3164,4594h0M3402,4492h0M3303,4551h0M3457,4488h0M3343,4626h0M3480,4578h0M3024,4677h0M3131,4541h0M3167,4624h0M4132,4357h0M3909,4332h0" stroke="#b6504b" stroke-opacity="0.42" stroke-width="39" stroke-linecap="square"/><path d="M3124,4660h0M3164,4673h0M3373,4497h0M3340,4549h0M3055,4636h0M3465,4486h0M3191,4627h0M3101,4552h0M3345,4486h0M3437,4459h0M3061,4640h0M3243,4541h0M3074,4596h0M2938,4712h0M3041,4687h0M3436,4612h0M3324,4582h0M3428,4554h0M3104,4524h0M3120,4734h0M3219,4540h0M3218,4560h0M3242,4723h0M3247,4571h0M3126,4613h0M3427,4422h0M3514,4619h0M3137,4577h0M3401,4415h0M3316,4522h0M3345,4523h0M3179,4556h0M3057,4712h0M3187,4636h0M3497,4414h0M3240,4516h0M3210,4570h0M3254,4597h0M3087,4692h0M3561,4438h0M3130,4726h0M3034,4673h0M3252,4642h0M3154,4493h0M3509,4352h0M3336,4373h0M3484,4515h0M3404,4471h0M3416,4443h0M3567,4473h0M3517,4527h0M3367,4360h0M3229,4408h0M3130,4569h0M3749,4500h0M3171,4605h0M3117,4556h0M3274,4618h0M3121,4661h0M3115,4516h0M3327,4565h0M3219,4633h0M3082,4530h0M3111,4561h0M3332,4602h0M3184,4671h0M3508,4644h0M3542,4516h0M3011,4650h0M3232,4678h0M3184,4467h0M3286,4656h0M3234,4726h0M3157,4596h0M3149,4595h0M3346,4565h0M3132,4721h0M3612,4548h0M3184,4405h0M3110,4649h0M3041,4671h0M3300,4635h0M3560,4341h0M3799,4328h0M3021,4593h0M3054,4454h0M3313,4470h0M3287,4430h0M3064,4566h0M3293,4533h0M3416,4599h0M3208,4617h0M3074,4509h0M3015,4601h0M3164,4562h0M3134,4601h0M3626,4580h0M3459,4245h0M3032,4546h0M3010,4590h0M4222,4349h0" stroke="#b6504b" stroke-opacity="0.42" stroke-width="39" stroke-linecap="square"/><path d="M3111,4580h0M3322,4478h0M3215,4555h0M2966,4615h0M3216,4464h0M2961,4669h0M3142,4549h0M3238,4571h0M3284,4509h0M3335,4537h0M3371,4351h0M3141,4714h0M3036,4613h0M3163,4534h0M3370,4609h0M3296,4561h0M3027,4637h0M3079,4733h0M3163,4500h0M3244,4520h0M3088,4634h0M3197,4515h0M3280,4634h0M3277,4627h0M3227,4652h0M3246,4452h0M3026,4741h0M3099,4599h0M3200,4674h0M3363,4514h0M3081,4659h0M3416,4415h0M3233,4674h0M3177,4676h0M3253,4681h0M3140,4555h0M3247,4656h0M3081,4583h0M3303,4661h0M3341,4451h0M3143,4557h0M2963,4696h0M3529,4565h0M3507,4449h0M3410,4316h0M3576,4428h0M3173,4642h0M3073,4619h0M3223,4587h0M3759,4542h0M3405,4610h0M3170,4545h0M3301,4671h0M2930,4755h0M3417,4534h0M3187,4641h0M3202,4631h0M3362,4455h0M3211,4654h0M3037,4633h0M3354,4522h0M3231,4553h0M3100,4483h0M3167,4561h0M3142,4536h0M3306,4487h0M3183,4532h0M3170,4619h0M3546,4361h0M2978,4635h0M3245,4555h0M3147,4578h0M3374,4607h0M3726,4564h0M3280,4583h0M3307,4562h0M3185,4619h0M3266,4529h0M3391,4480h0M3286,4592h0M3192,4585h0M3693,4407h0M3072,4558h0M3487,4410h0M3231,4501h0M3191,4607h0M3042,4588h0M3127,4618h0M3103,4613h0M3598,4321h0M3350,4502h0M3047,4574h0M3305,4530h0M3612,4565h0M3783,4284h0M3012,4589h0M3002,4631h0M3585,4463h0M3323,4622h0M3173,4630h0M3954,4083h0" stroke="#b6504b" stroke-opacity="0.42" stroke-width="39" stroke-linecap="square"/></g></g>
<g clip-path="url(#clipd)"><g transform="scale(.1)"><path d="M2922,4727l23,41h-46zM3197,4645l23,41h-46zM2898,4716l23,41h-46zM3049,4598l23,41h-46zM2962,4667l23,41h-46zM2972,4736l23,41h-46zM2990,4674l23,41h-46zM2933,4716l23,41h-46zM3026,4684l23,41h-46zM2895,4670l23,41h-46zM3037,4724l23,41h-46zM3015,4674l23,41h-46zM3013,4626l23,41h-46zM2951,4699l23,41h-46zM2893,4735l23,41h-46zM2877,4722l23,41h-46zM2904,4742l23,41h-46zM2864,4741l23,41h-46zM3104,4628l23,41h-46zM3142,4674l23,41h-46zM2925,4776l23,41h-46zM2944,4713l23,41h-46zM2860,4743l23,41h-46zM3035,4703l23,41h-46zM3014,4703l23,41h-46zM3007,4599l23,41h-46zM3109,4755l23,41h-46zM3053,4695l23,41h-46zM2965,4659l23,41h-46zM2896,4749l23,41h-46zM3064,4730l23,41h-46zM2926,4698l23,41h-46zM2936,4651l23,41h-46zM2877,4743l23,41h-46zM2997,4759l23,41h-46zM3068,4564l23,41h-46zM3001,4675l23,41h-46zM2966,4606l23,41h-46zM3013,4653l23,41h-46zM3107,4582l23,41h-46zM2981,4678l23,41h-46zM2944,4683l23,41h-46zM3125,4570l23,41h-46zM2963,4666l23,41h-46zM3122,4676l23,41h-46zM2947,4732l23,41h-46zM3045,4672l23,41h-46zM3319,4686l23,41h-46zM3089,4601l23,41h-46zM2933,4778l23,41h-46zM2912,4716l23,41h-46zM2949,4700l23,41h-46zM2886,4759l23,41h-46zM3099,4522l23,41h-46zM3055,4639l23,41h-46zM2878,4732l23,41h-46zM2909,4635l23,41h-46zM2976,4686l23,41h-46zM3009,4655l23,41h-46zM2952,4699l23,41h-46zM2963,4691l23,41h-46zM2888,4772l23,41h-46zM2898,4714l23,41h-46zM2999,4641l23,41h-46z" fill="#e8574c" fill-opacity="0.38"/><path d="M2910,4685l23,41h-46zM3025,4677l23,41h-46zM2973,4685l23,41h-46zM2991,4630l23,41h-46zM2970,4732l23,41h-46zM3029,4594l23,41h-46zM3042,4674l23,41h-46zM3099,4648l23,41h-46zM2855,4738l23,41h-46zM3100,4641l23,41h-46zM3159,4681l23,41h-46zM2996,4603l23,41h-46zM3011,4643l23,41h-46zM3085,4717l23,41h-46zM2936,4709l23,41h-46zM2978,4627l23,41h-46zM2915,4660l23,41h-46zM2991,4667l23,41h-46zM2870,4710l23,41h-46zM2973,4660l23,41h-46zM2989,4627l23,41h-46zM3031,4713l23,41h-46zM2974,4701l23,41h-46zM3069,4704l23,41h-46zM2902,4733l23,41h-46zM2997,4625l23,41h-46zM2970,4650l23,41h-46zM3022,4659l23,41h-46zM3023,4599l23,41h-46zM3039,4573l23,41h-46zM2944,4695l23,41h-46zM2983,4774l23,41h-46zM2931,4705l23,41h-46zM3012,4523l23,41h-46zM3198,4542l23,41h-46zM2981,4629l23,41h-46zM3127,4540l23,41h-46zM2954,4680l23,41h-46zM2902,4705l23,41h-46zM3282,4543l23,41h-46zM2873,4684l23,41h-46zM3083,4599l23,41h-46zM2961,4747l23,41h-46zM3042,4683l23,41h-46zM2886,4664l23,41h-46zM2975,4764l23,41h-46zM3136,4550l23,41h-46zM3085,4590l23,41h-46zM2994,4608l23,41h-46zM2988,4696l23,41h-46zM3201,4648l23,41h-46zM2928,4674l23,41h-46zM3232,4695l23,41h-46zM2903,4735l23,41h-46zM3052,4652l23,41h-46zM2898,4693l23,41h-46zM3464,4529l23,41h-46zM2936,4784l23,41h-46zM2962,4643l23,41h-46zM3073,4672l23,41h-46zM3013,4617l23,41h-46zM2934,4702l23,41h-46zM3037,4776l23,41h-46zM2903,4700l23,41h-46z" fill="#e8574c" fill-opacity="0.38"/><path d="M2932,4660l23,41h-46zM2886,4699l23,41h-46zM2987,4716l23,41h-46zM2912,4746l23,41h-46zM3010,4645l23,41h-46zM2885,4736l23,41h-46zM2850,4697l23,41h-46zM2893,4733l23,41h-46zM2887,4697l23,41h-46zM2937,4729l23,41h-46zM2865,4691l23,41h-46zM3244,4684l23,41h-46zM2950,4664l23,41h-46zM3024,4647l23,41h-46zM2962,4717l23,41h-46zM3142,4563l23,41h-46zM2857,4704l23,41h-46zM3076,4659l23,41h-46zM2922,4656l23,41h-46zM3138,4642l23,41h-46zM2958,4637l23,41h-46zM2963,4701l23,41h-46zM2875,4699l23,41h-46zM3088,4648l23,41h-46zM3021,4668l23,41h-46zM3035,4651l23,41h-46zM2925,4679l23,41h-46zM2929,4661l23,41h-46zM2892,4718l23,41h-46zM2907,4697l23,41h-46zM2985,4616l23,41h-46zM2974,4697l23,41h-46zM2878,4672l23,41h-46zM2952,4672l23,41h-46zM2948,4665l23,41h-46zM3056,4692l23,41h-46zM3230,4572l23,41h-46zM3005,4580l23,41h-46zM3161,4632l23,41h-46zM3038,4617l23,41h-46zM3123,4640l23,41h-46zM3044,4679l23,41h-46zM2982,4711l23,41h-46zM3024,4720l23,41h-46zM2989,4692l23,41h-46zM2907,4676l23,41h-46zM3033,4710l23,41h-46zM2911,4697l23,41h-46zM2939,4690l23,41h-46zM2909,4676l23,41h-46zM2953,4674l23,41h-46zM2953,4677l23,41h-46zM2920,4693l23,41h-46zM2873,4696l23,41h-46zM3033,4631l23,41h-46zM2944,4649l23,41h-46zM2958,4705l23,41h-46zM3050,4571l23,41h-46zM2920,4730l23,41h-46zM2899,4682l23,41h-46zM2962,4704l23,41h-46zM2965,4738l23,41h-46zM3155,4591l23,41h-46z" fill="#e8574c" fill-opacity="0.38"/><path d="M2982,4664l23,41h-46zM3202,4635l23,41h-46zM2922,4698l23,41h-46zM3052,4673l23,41h-46zM3047,4623l23,41h-46zM2926,4760l23,41h-46zM3347,4405l23,41h-46zM2869,4768l23,41h-46zM2930,4681l23,41h-46zM2983,4681l23,41h-46zM3011,4606l23,41h-46zM3084,4679l23,41h-46zM2923,4746l23,41h-46zM2942,4650l23,41h-46zM2917,4740l23,41h-46zM2911,4755l23,41h-46zM3061,4614l23,41h-46zM3027,4613l23,41h-46zM2931,4692l23,41h-46zM2879,4690l23,41h-46zM2937,4635l23,41h-46zM2870,4704l23,41h-46zM2988,4681l23,41h-46zM3096,4564l23,41h-46zM3044,4682l23,41h-46zM3095,4632l23,41h-46zM2925,4712l23,41h-46zM3346,4716l23,41h-46zM2860,4750l23,41h-46zM2987,4704l23,41h-46zM2938,4576l23,41h-46zM2965,4663l23,41h-46zM3003,4619l23,41h-46zM2914,4677l23,41h-46zM3169,4693l23,41h-46zM3204,4579l23,41h-46zM3043,4676l23,41h-46zM2970,4685l23,41h-46zM2979,4741l23,41h-46zM3063,4717l23,41h-46zM3191,4676l23,41h-46zM2948,4744l23,41h-46zM2975,4616l23,41h-46zM2884,4662l23,41h-46zM2917,4741l23,41h-46zM3000,4704l23,41h-46zM2861,4730l23,41h-46zM3044,4679l23,41h-46zM3179,4632l23,41h-46zM3001,4718l23,41h-46zM2875,4724l23,41h-46zM2981,4706l23,41h-46zM2968,4620l23,41h-46zM2912,4688l23,41h-46zM2874,4672l23,41h-46zM2912,4747l23,41h-46zM2992,4665l23,41h-46zM2960,4692l23,41h-46zM2973,4640l23,41h-46zM2929,4718l23,41h-46zM2939,4655l23,41h-46zM2946,4647l23,41h-46zM3071,4689l23,41h-46z" fill="#e8574c" fill-opacity="0.38"/><path d="M2915,4698l23,41h-46zM2868,4728l23,41h-46zM3351,4570l23,41h-46zM2958,4686l23,41h-46zM3323,4650l23,41h-46zM2965,4632l23,41h-46zM3844,4499l23,41h-46zM3133,4663l23,41h-46zM2914,4739l23,41h-46zM3216,4558l23,41h-46zM3004,4724l23,41h-46zM3261,4607l23,41h-46zM2918,4758l23,41h-46zM2904,4694l23,41h-46zM2941,4713l23,41h-46zM2911,4750l23,41h-46zM3050,4617l23,41h-46zM2986,4686l23,41h-46zM3173,4571l23,41h-46zM2959,4615l23,41h-46zM2953,4664l23,41h-46zM3113,4652l23,41h-46zM3139,4649l23,41h-46zM3022,4712l23,41h-46zM3165,4708l23,41h-46zM2981,4686l23,41h-46zM3127,4598l23,41h-46zM2917,4711l23,41h-46zM2930,4627l23,41h-46zM3203,4483l23,41h-46zM2976,4655l23,41h-46zM3235,4493l23,41h-46zM3078,4619l23,41h-46zM2979,4678l23,41h-46zM2996,4723l23,41h-46zM3225,4608l23,41h-46zM2987,4679l23,41h-46zM2872,4716l23,41h-46zM2852,4685l23,41h-46zM2848,4729l23,41h-46zM3137,4578l23,41h-46zM2989,4626l23,41h-46zM3028,4686l23,41h-46zM2932,4715l23,41h-46zM3045,4652l23,41h-46zM2950,4698l23,41h-46zM3092,4605l23,41h-46zM3082,4675l23,41h-46zM3166,4508l23,41h-46zM2972,4681l23,41h-46zM2874,4735l23,41h-46zM3053,4628l23,41h-46zM3020,4681l23,41h-46zM2924,4722l23,41h-46zM2888,4632l23,41h-46zM3020,4740l23,41h-46zM3087,4655l23,41h-46zM2917,4687l23,41h-46zM2880,4681l23,41h-46zM2891,4678l23,41h-46zM3098,4604l23,41h-46zM3151,4704l23,41h-46zM3018,4629l23,41h-46z" fill="#e8574c" fill-opacity="0.38"/><path d="M3111,4646l23,41h-46zM2951,4648l23,41h-46zM2896,4724l23,41h-46zM2935,4726l23,41h-46zM2955,4633l23,41h-46zM2976,4621l23,41h-46zM3073,4698l23,41h-46zM2937,4633l23,41h-46zM2978,4698l23,41h-46zM2876,4747l23,41h-46zM2930,4697l23,41h-46zM2897,4683l23,41h-46zM3013,4696l23,41h-46zM3090,4707l23,41h-46zM3089,4604l23,41h-46zM3032,4634l23,41h-46zM2941,4721l23,41h-46zM2881,4747l23,41h-46zM3014,4589l23,41h-46zM2850,4658l23,41h-46zM3236,4569l23,41h-46zM2881,4694l23,41h-46zM3037,4758l23,41h-46zM3028,4704l23,41h-46zM2971,4727l23,41h-46zM3044,4724l23,41h-46zM2930,4725l23,41h-46zM2926,4636l23,41h-46zM2999,4677l23,41h-46zM3164,4525l23,41h-46zM3272,4528l23,41h-46zM3041,4696l23,41h-46zM3042,4604l23,41h-46zM3134,4558l23,41h-46zM2869,4761l23,41h-46zM3091,4721l23,41h-46zM2942,4662l23,41h-46zM3058,4657l23,41h-46zM2909,4713l23,41h-46zM3057,4681l23,41h-46zM3253,4640l23,41h-46zM2875,4688l23,41h-46zM3041,4661l23,41h-46zM2902,4644l23,41h-46zM2867,4756l23,41h-46zM2983,4660l23,41h-46zM2948,4676l23,41h-46zM3041,4658l23,41h-46zM2965,4756l23,41h-46zM3150,4612l23,41h-46zM3175,4636l23,41h-46zM3099,4607l23,41h-46zM3009,4666l23,41h-46zM2936,4704l23,41h-46zM3142,4638l23,41h-46zM2950,4721l23,41h-46zM3183,4637l23,41h-46zM2946,4683l23,41h-46zM2858,4699l23,41h-46zM2964,4705l23,41h-46zM3153,4666l23,41h-46zM3059,4688l23,41h-46zM2934,4651l23,41h-46z" fill="#e8574c" fill-opacity="0.38"/></g></g>
<g clip-path="url(#clipd)"><g transform="scale(.1)"><path d="M3217,4298l23,34-23,34-23-34zM3589,3773l23,34-23,34-23-34zM3227,4520l23,34-23,34-23-34zM3402,4300l23,34-23,34-23-34zM3377,4322l23,34-23,34-23-34zM3256,4162l23,34-23,34-23-34zM3186,4250l23,34-23,34-23-34zM3194,4405l23,34-23,34-23-34zM3375,4200l23,34-23,34-23-34zM3105,4435l23,34-23,34-23-34zM3166,4312l23,34-23,34-23-34zM3021,4377l23,34-23,34-23-34zM3290,4302l23,34-23,34-23-34zM3237,4354l23,34-23,34-23-34zM3305,4411l23,34-23,34-23-34zM3417,4279l23,34-23,34-23-34zM3232,4125l23,34-23,34-23-34zM3279,4315l23,34-23,34-23-34zM3123,4534l23,34-23,34-23-34zM3139,4441l23,34-23,34-23-34zM3367,4215l23,34-23,34-23-34zM3124,4446l23,34-23,34-23-34zM3498,4055l23,34-23,34-23-34zM3276,4355l23,34-23,34-23-34zM3310,4239l23,34-23,34-23-34zM3493,4066l23,34-23,34-23-34zM3362,4188l23,34-23,34-23-34zM3151,4387l23,34-23,34-23-34zM3066,4438l23,34-23,34-23-34zM3325,4251l23,34-23,34-23-34zM3271,4118l23,34-23,34-23-34zM3403,4222l23,34-23,34-23-34zM3404,4457l23,34-23,34-23-34zM3525,3948l23,34-23,34-23-34zM3686,4074l23,34-23,34-23-34zM3303,4333l23,34-23,34-23-34zM3179,4291l23,34-23,34-23-34zM3761,3854l23,34-23,34-23-34zM3714,4018l23,34-23,34-23-34zM3412,4452l23,34-23,34-23-34zM3214,4401l23,34-23,34-23-34zM3270,4187l23,34-23,34-23-34zM3524,4098l23,34-23,34-23-34zM3116,4491l23,34-23,34-23-34zM3260,4251l23,34-23,34-23-34zM3161,4389l23,34-23,34-23-34zM3375,3966l23,34-23,34-23-34zM3649,4196l23,34-23,34-23-34zM3289,4083l23,34-23,34-23-34zM3233,4370l23,34-23,34-23-34zM3161,4342l23,34-23,34-23-34zM3186,4250l23,34-23,34-23-34zM3225,4332l23,34-23,34-23-34zM3306,4086l23,34-23,34-23-34zM3359,4139l23,34-23,34-23-34zM3340,4674l23,34-23,34-23-34zM3358,4037l23,34-23,34-23-34zM3751,3918l23,34-23,34-23-34zM3535,3945l23,34-23,34-23-34zM3269,4456l23,34-23,34-23-34zM3177,4341l23,34-23,34-23-34zM3771,3896l23,34-23,34-23-34zM3297,4473l23,34-23,34-23-34zM3442,3842l23,34-23,34-23-34zM3145,4442l23,34-23,34-23-34zM3190,4273l23,34-23,34-23-34zM3140,4380l23,34-23,34-23-34zM3365,4048l23,34-23,34-23-34zM3124,4590l23,34-23,34-23-34zM3036,4692l23,34-23,34-23-34zM3675,3902l23,34-23,34-23-34zM3124,4410l23,34-23,34-23-34zM3573,3605l23,34-23,34-23-34z" fill="#6a86cc" fill-opacity="0.42"/><path d="M3152,4319l23,34-23,34-23-34zM3273,4331l23,34-23,34-23-34zM3210,4380l23,34-23,34-23-34zM3558,3951l23,34-23,34-23-34zM2988,4417l23,34-23,34-23-34zM3352,4295l23,34-23,34-23-34zM3270,4192l23,34-23,34-23-34zM3303,3933l23,34-23,34-23-34zM3252,4187l23,34-23,34-23-34zM3161,4366l23,34-23,34-23-34zM3274,4353l23,34-23,34-23-34zM3441,4279l23,34-23,34-23-34zM3153,4398l23,34-23,34-23-34zM3243,4128l23,34-23,34-23-34zM3230,4481l23,34-23,34-23-34zM3223,4159l23,34-23,34-23-34zM3070,4597l23,34-23,34-23-34zM3202,4561l23,34-23,34-23-34zM3248,4155l23,34-23,34-23-34zM3231,4605l23,34-23,34-23-34zM3142,4490l23,34-23,34-23-34zM3217,4454l23,34-23,34-23-34zM3209,4325l23,34-23,34-23-34zM3566,4010l23,34-23,34-23-34zM3532,3987l23,34-23,34-23-34zM3225,4070l23,34-23,34-23-34zM3197,4484l23,34-23,34-23-34zM3095,4423l23,34-23,34-23-34zM3529,4083l23,34-23,34-23-34zM3543,3802l23,34-23,34-23-34zM3436,4075l23,34-23,34-23-34zM3711,4244l23,34-23,34-23-34zM3388,4247l23,34-23,34-23-34zM3303,3893l23,34-23,34-23-34zM3368,4221l23,34-23,34-23-34zM3320,4229l23,34-23,34-23-34zM3129,4357l23,34-23,34-23-34zM3367,4151l23,34-23,34-23-34zM3387,4287l23,34-23,34-23-34zM3343,3877l23,34-23,34-23-34zM3184,4393l23,34-23,34-23-34zM3212,4214l23,34-23,34-23-34zM3376,3941l23,34-23,34-23-34zM3189,4447l23,34-23,34-23-34zM3299,4073l23,34-23,34-23-34zM3295,4130l23,34-23,34-23-34zM2990,4556l23,34-23,34-23-34zM3091,4516l23,34-23,34-23-34zM3334,4397l23,34-23,34-23-34zM3166,4456l23,34-23,34-23-34zM3299,4251l23,34-23,34-23-34zM3404,4088l23,34-23,34-23-34zM3411,4480l23,34-23,34-23-34zM3143,4314l23,34-23,34-23-34zM3451,3746l23,34-23,34-23-34zM3355,4001l23,34-23,34-23-34zM3646,4119l23,34-23,34-23-34zM3155,4356l23,34-23,34-23-34zM3311,4460l23,34-23,34-23-34zM3154,4547l23,34-23,34-23-34zM3424,4160l23,34-23,34-23-34zM3080,4381l23,34-23,34-23-34zM3338,3892l23,34-23,34-23-34zM3365,4335l23,34-23,34-23-34zM3047,4652l23,34-23,34-23-34zM3439,3990l23,34-23,34-23-34zM3406,3943l23,34-23,34-23-34zM3352,4223l23,34-23,34-23-34zM3241,4640l23,34-23,34-23-34zM3259,4253l23,34-23,34-23-34zM3374,4238l23,34-23,34-23-34zM3420,4289l23,34-23,34-23-34zM3506,3710l23,34-23,34-23-34z" fill="#6a86cc" fill-opacity="0.42"/><path d="M3302,4143l23,34-23,34-23-34zM3365,4152l23,34-23,34-23-34zM3252,4184l23,34-23,34-23-34zM3313,4279l23,34-23,34-23-34zM3032,4554l23,34-23,34-23-34zM3185,4461l23,34-23,34-23-34zM3612,4210l23,34-23,34-23-34zM3267,4270l23,34-23,34-23-34zM3315,4516l23,34-23,34-23-34zM3324,3928l23,34-23,34-23-34zM3408,3936l23,34-23,34-23-34zM3095,4456l23,34-23,34-23-34zM3438,4024l23,34-23,34-23-34zM3196,4303l23,34-23,34-23-34zM3484,4348l23,34-23,34-23-34zM3275,4277l23,34-23,34-23-34zM3330,4261l23,34-23,34-23-34zM3261,4218l23,34-23,34-23-34zM3214,4407l23,34-23,34-23-34zM3276,4417l23,34-23,34-23-34zM3278,4152l23,34-23,34-23-34zM3359,4121l23,34-23,34-23-34zM3327,4045l23,34-23,34-23-34zM3211,4303l23,34-23,34-23-34zM3559,3998l23,34-23,34-23-34zM3534,4094l23,34-23,34-23-34zM3240,4135l23,34-23,34-23-34zM3272,4331l23,34-23,34-23-34zM3124,4394l23,34-23,34-23-34zM3291,4405l23,34-23,34-23-34zM3392,4065l23,34-23,34-23-34zM2983,4473l23,34-23,34-23-34zM3708,4208l23,34-23,34-23-34zM3257,4302l23,34-23,34-23-34zM3645,3511l23,34-23,34-23-34zM3400,3926l23,34-23,34-23-34zM3315,4308l23,34-23,34-23-34zM3463,3917l23,34-23,34-23-34zM3290,4341l23,34-23,34-23-34zM3313,4410l23,34-23,34-23-34zM3391,4332l23,34-23,34-23-34zM3400,3984l23,34-23,34-23-34zM3268,4220l23,34-23,34-23-34zM3111,4523l23,34-23,34-23-34zM3276,4425l23,34-23,34-23-34zM3248,4334l23,34-23,34-23-34zM3331,4305l23,34-23,34-23-34zM3021,4391l23,34-23,34-23-34zM3094,4510l23,34-23,34-23-34zM3352,4121l23,34-23,34-23-34zM3377,4457l23,34-23,34-23-34zM3214,4289l23,34-23,34-23-34zM3288,4296l23,34-23,34-23-34zM3247,4165l23,34-23,34-23-34zM3484,4257l23,34-23,34-23-34zM3303,4175l23,34-23,34-23-34zM3558,3894l23,34-23,34-23-34zM3329,4416l23,34-23,34-23-34zM3250,4374l23,34-23,34-23-34zM3305,4125l23,34-23,34-23-34zM3283,4070l23,34-23,34-23-34zM3093,4635l23,34-23,34-23-34zM3138,4266l23,34-23,34-23-34zM3275,4371l23,34-23,34-23-34zM3149,4462l23,34-23,34-23-34zM3302,4428l23,34-23,34-23-34zM3145,4361l23,34-23,34-23-34zM3492,4349l23,34-23,34-23-34zM3172,4237l23,34-23,34-23-34zM3279,4341l23,34-23,34-23-34zM3272,4671l23,34-23,34-23-34zM3428,3942l23,34-23,34-23-34zM3808,3952l23,34-23,34-23-34z" fill="#6a86cc" fill-opacity="0.42"/><path d="M3165,4256l23,34-23,34-23-34zM3063,4514l23,34-23,34-23-34zM3241,4389l23,34-23,34-23-34zM3019,4390l23,34-23,34-23-34zM3023,4476l23,34-23,34-23-34zM3620,4358l23,34-23,34-23-34zM3188,4567l23,34-23,34-23-34zM3177,4186l23,34-23,34-23-34zM3468,4175l23,34-23,34-23-34zM3561,3840l23,34-23,34-23-34zM3272,4191l23,34-23,34-23-34zM3603,3896l23,34-23,34-23-34zM3177,4227l23,34-23,34-23-34zM3254,4278l23,34-23,34-23-34zM3086,4532l23,34-23,34-23-34zM3506,3864l23,34-23,34-23-34zM3573,3919l23,34-23,34-23-34zM3466,4022l23,34-23,34-23-34zM3364,4043l23,34-23,34-23-34zM3363,4322l23,34-23,34-23-34zM3529,4101l23,34-23,34-23-34zM3589,4311l23,34-23,34-23-34zM3145,4508l23,34-23,34-23-34zM3345,4295l23,34-23,34-23-34zM3119,4456l23,34-23,34-23-34zM3084,4561l23,34-23,34-23-34zM3613,4084l23,34-23,34-23-34zM3219,4347l23,34-23,34-23-34zM3355,4162l23,34-23,34-23-34zM3074,4346l23,34-23,34-23-34zM3391,4436l23,34-23,34-23-34zM3728,4082l23,34-23,34-23-34zM3447,4245l23,34-23,34-23-34zM3430,4095l23,34-23,34-23-34zM3318,4180l23,34-23,34-23-34zM3177,4339l23,34-23,34-23-34zM3247,4313l23,34-23,34-23-34zM3376,4204l23,34-23,34-23-34zM3224,4491l23,34-23,34-23-34zM3235,4364l23,34-23,34-23-34zM3257,4222l23,34-23,34-23-34zM3263,4199l23,34-23,34-23-34zM3081,4636l23,34-23,34-23-34zM3317,4139l23,34-23,34-23-34zM3512,4089l23,34-23,34-23-34zM3403,4042l23,34-23,34-23-34zM3313,4399l23,34-23,34-23-34zM3488,4079l23,34-23,34-23-34zM3103,4611l23,34-23,34-23-34zM3412,4014l23,34-23,34-23-34zM3401,4168l23,34-23,34-23-34zM3252,4362l23,34-23,34-23-34zM3365,4271l23,34-23,34-23-34zM3108,4344l23,34-23,34-23-34zM3097,4476l23,34-23,34-23-34zM3463,4055l23,34-23,34-23-34zM3578,4124l23,34-23,34-23-34zM3317,4136l23,34-23,34-23-34zM3078,4481l23,34-23,34-23-34zM3026,4552l23,34-23,34-23-34zM3362,4290l23,34-23,34-23-34zM3171,4328l23,34-23,34-23-34zM3117,4544l23,34-23,34-23-34zM3272,4151l23,34-23,34-23-34zM3016,4462l23,34-23,34-23-34zM3453,4030l23,34-23,34-23-34zM3181,4300l23,34-23,34-23-34zM3442,4125l23,34-23,34-23-34zM3261,4283l23,34-23,34-23-34zM3152,4417l23,34-23,34-23-34zM3365,4079l23,34-23,34-23-34zM3336,4090l23,34-23,34-23-34zM3741,3791l23,34-23,34-23-34z" fill="#6a86cc" fill-opacity="0.42"/><path d="M3374,4230l23,34-23,34-23-34zM3397,4144l23,34-23,34-23-34zM3247,4192l23,34-23,34-23-34zM3371,4207l23,34-23,34-23-34zM3073,4537l23,34-23,34-23-34zM3153,4289l23,34-23,34-23-34zM3479,4112l23,34-23,34-23-34zM3314,4010l23,34-23,34-23-34zM3399,4239l23,34-23,34-23-34zM3115,4294l23,34-23,34-23-34zM3345,4208l23,34-23,34-23-34zM3341,4332l23,34-23,34-23-34zM3432,4058l23,34-23,34-23-34zM3097,4351l23,34-23,34-23-34zM3112,4299l23,34-23,34-23-34zM3428,4182l23,34-23,34-23-34zM3076,4572l23,34-23,34-23-34zM3200,4411l23,34-23,34-23-34zM3381,4011l23,34-23,34-23-34zM3325,4242l23,34-23,34-23-34zM3439,3911l23,34-23,34-23-34zM3358,3935l23,34-23,34-23-34zM3236,4562l23,34-23,34-23-34zM3002,4591l23,34-23,34-23-34zM3067,4562l23,34-23,34-23-34zM3260,4334l23,34-23,34-23-34zM3580,3940l23,34-23,34-23-34zM3357,3950l23,34-23,34-23-34zM3553,4301l23,34-23,34-23-34zM3443,4428l23,34-23,34-23-34zM3266,4142l23,34-23,34-23-34zM3224,4402l23,34-23,34-23-34zM3126,4400l23,34-23,34-23-34zM3367,4144l23,34-23,34-23-34zM3084,4382l23,34-23,34-23-34zM3443,3830l23,34-23,34-23-34zM3371,4065l23,34-23,34-23-34zM3095,4424l23,34-23,34-23-34zM3301,4494l23,34-23,34-23-34zM3371,4174l23,34-23,34-23-34zM3344,4315l23,34-23,34-23-34zM3159,4342l23,34-23,34-23-34zM3136,4306l23,34-23,34-23-34zM3395,4222l23,34-23,34-23-34zM3604,3971l23,34-23,34-23-34zM3305,4170l23,34-23,34-23-34zM2959,4537l23,34-23,34-23-34zM3028,4498l23,34-23,34-23-34zM3060,4521l23,34-23,34-23-34zM3175,4355l23,34-23,34-23-34zM3373,4264l23,34-23,34-23-34zM3274,4147l23,34-23,34-23-34zM3159,4079l23,34-23,34-23-34zM3466,4237l23,34-23,34-23-34zM3523,3921l23,34-23,34-23-34zM3285,4712l23,34-23,34-23-34zM3180,4349l23,34-23,34-23-34zM3324,4111l23,34-23,34-23-34zM3255,4262l23,34-23,34-23-34zM3353,4041l23,34-23,34-23-34zM3173,4312l23,34-23,34-23-34zM3152,4429l23,34-23,34-23-34zM3222,4232l23,34-23,34-23-34zM3402,4140l23,34-23,34-23-34zM3155,4471l23,34-23,34-23-34zM3360,4235l23,34-23,34-23-34zM3096,4450l23,34-23,34-23-34zM3095,4439l23,34-23,34-23-34zM3170,4207l23,34-23,34-23-34zM3201,4487l23,34-23,34-23-34zM3220,4387l23,34-23,34-23-34zM4244,3444l23,34-23,34-23-34zM3640,3750l23,34-23,34-23-34z" fill="#6a86cc" fill-opacity="0.42"/><path d="M3438,4086l23,34-23,34-23-34zM3460,4186l23,34-23,34-23-34zM3160,4211l23,34-23,34-23-34zM3273,4229l23,34-23,34-23-34zM3338,4279l23,34-23,34-23-34zM3016,4671l23,34-23,34-23-34zM3396,4409l23,34-23,34-23-34zM3376,4357l23,34-23,34-23-34zM3402,4252l23,34-23,34-23-34zM3239,4511l23,34-23,34-23-34zM3184,4416l23,34-23,34-23-34zM3587,3821l23,34-23,34-23-34zM3756,4052l23,34-23,34-23-34zM3198,4523l23,34-23,34-23-34zM3223,4437l23,34-23,34-23-34zM3475,4242l23,34-23,34-23-34zM3266,4367l23,34-23,34-23-34zM3279,4282l23,34-23,34-23-34zM3411,3971l23,34-23,34-23-34zM3037,4513l23,34-23,34-23-34zM3225,4420l23,34-23,34-23-34zM3472,4258l23,34-23,34-23-34zM3220,4464l23,34-23,34-23-34zM3186,4344l23,34-23,34-23-34zM3369,4269l23,34-23,34-23-34zM3404,4059l23,34-23,34-23-34zM3287,4048l23,34-23,34-23-34zM3162,4376l23,34-23,34-23-34zM3180,4412l23,34-23,34-23-34zM3366,4151l23,34-23,34-23-34zM3408,3957l23,34-23,34-23-34zM3159,4499l23,34-23,34-23-34zM3434,3785l23,34-23,34-23-34zM3243,4518l23,34-23,34-23-34zM3294,4523l23,34-23,34-23-34zM3372,4357l23,34-23,34-23-34zM3363,3907l23,34-23,34-23-34zM3745,4147l23,34-23,34-23-34zM3462,4013l23,34-23,34-23-34zM3446,4114l23,34-23,34-23-34zM3440,3984l23,34-23,34-23-34zM3573,4327l23,34-23,34-23-34zM3181,4344l23,34-23,34-23-34zM3411,4005l23,34-23,34-23-34zM3357,4278l23,34-23,34-23-34zM3162,4497l23,34-23,34-23-34zM3362,4007l23,34-23,34-23-34zM3250,4338l23,34-23,34-23-34zM3058,4480l23,34-23,34-23-34zM3286,4117l23,34-23,34-23-34zM3384,4069l23,34-23,34-23-34zM3245,4295l23,34-23,34-23-34zM3175,4448l23,34-23,34-23-34zM3395,4033l23,34-23,34-23-34zM3477,4113l23,34-23,34-23-34zM3112,4547l23,34-23,34-23-34zM3143,4322l23,34-23,34-23-34zM3197,4275l23,34-23,34-23-34zM3448,4122l23,34-23,34-23-34zM3524,3499l23,34-23,34-23-34zM3210,4433l23,34-23,34-23-34zM3392,4224l23,34-23,34-23-34zM3376,4126l23,34-23,34-23-34zM3161,4533l23,34-23,34-23-34zM3514,4172l23,34-23,34-23-34zM3185,4376l23,34-23,34-23-34zM3141,4493l23,34-23,34-23-34zM3274,4541l23,34-23,34-23-34zM3173,4296l23,34-23,34-23-34zM3135,4535l23,34-23,34-23-34zM3472,4480l23,34-23,34-23-34zM3864,3742l23,34-23,34-23-34z" fill="#6a86cc" fill-opacity="0.42"/></g></g>
<g clip-path="url(#clipd)"><g transform="scale(.1)"><path d="M2932,4669h0M2920,4717h0M2960,4695h0M3020,4699h0M2945,4686h0M2874,4735h0M2859,4777h0M2822,4776h0M3075,4569h0M2869,4789h0M2892,4719h0M2906,4727h0M2887,4732h0M3291,4549h0M2875,4768h0M3271,4367h0M2932,4690h0M2985,4660h0M2903,4713h0M3037,4696h0M2997,4555h0M2981,4738h0M3130,4460h0M3081,4553h0M3179,4609h0M2922,4706h0M2961,4679h0M2944,4695h0M2879,4702h0M3030,4683h0M2891,4752h0M3030,4669h0M3002,4605h0M2910,4756h0M2861,4748h0M2923,4775h0M3075,4528h0M3037,4668h0M2926,4693h0M3079,4671h0M2940,4713h0M3115,4604h0M3094,4545h0M2970,4619h0M2944,4669h0M2936,4783h0M2909,4625h0M2878,4781h0M2910,4734h0M2958,4685h0M2895,4720h0M2836,4786h0M3030,4611h0M2890,4761h0M2857,4739h0M2892,4700h0M3070,4555h0M3028,4626h0M3005,4640h0M2881,4737h0M3158,4504h0M3050,4642h0M2955,4671h0M3094,4697h0" stroke="#5aaee0" stroke-opacity="0.45" stroke-width="42" stroke-linecap="round"/><path d="M2970,4652h0M2865,4729h0M3085,4430h0M2993,4668h0M3099,4517h0M2909,4725h0M3144,4607h0M3115,4483h0M3078,4659h0M2891,4702h0M2914,4698h0M2891,4745h0M3061,4608h0M3011,4662h0M2843,4778h0M2969,4700h0M2925,4655h0M2883,4757h0M2965,4767h0M2933,4702h0M3106,4572h0M3156,4579h0M3075,4616h0M2931,4691h0M2846,4735h0M3043,4538h0M3047,4684h0M3155,4546h0M2914,4688h0M2941,4703h0M3021,4516h0M2896,4734h0M2984,4542h0M2935,4637h0M2858,4762h0M2926,4667h0M2845,4796h0M3195,4468h0M2875,4716h0M3061,4593h0M3111,4710h0M2924,4641h0M2915,4669h0M3003,4703h0M3293,4398h0M3002,4623h0M2971,4605h0M3149,4438h0M2884,4767h0M3099,4633h0M3146,4392h0M2992,4604h0M2979,4645h0M2945,4683h0M2907,4775h0M2943,4764h0M2851,4735h0M2859,4730h0M2881,4708h0M2864,4781h0M2951,4668h0M3055,4564h0M2946,4679h0M2877,4745h0" stroke="#5aaee0" stroke-opacity="0.45" stroke-width="42" stroke-linecap="round"/><path d="M3144,4656h0M2950,4666h0M2886,4721h0M3255,4399h0M2990,4607h0M3151,4470h0M2895,4775h0M3071,4615h0M2959,4682h0M3049,4520h0M2910,4659h0M2913,4689h0M2942,4687h0M2935,4701h0M3145,4417h0M3144,4509h0M2936,4745h0M3529,4165h0M2936,4700h0M2915,4700h0M2903,4692h0M3018,4597h0M3075,4526h0M3303,4493h0M3124,4462h0M2890,4692h0M2846,4770h0M2961,4674h0M2942,4713h0M2924,4743h0M2959,4713h0M2861,4760h0M2955,4646h0M3072,4538h0M2922,4709h0M2938,4739h0M3010,4627h0M2985,4639h0M2867,4744h0M2886,4708h0M3073,4562h0M2845,4778h0M3094,4536h0M2899,4740h0M2921,4696h0M2992,4678h0M2904,4754h0M2949,4670h0M2924,4701h0M2961,4609h0M3056,4643h0M2923,4692h0M3149,4556h0M2906,4795h0M2942,4710h0M2979,4717h0M3139,4695h0M2886,4759h0M2930,4740h0M2936,4738h0M3136,4438h0M3211,4609h0M3424,4340h0" stroke="#5aaee0" stroke-opacity="0.45" stroke-width="42" stroke-linecap="round"/><path d="M2941,4760h0M2961,4627h0M3016,4521h0M2971,4686h0M2963,4631h0M3010,4655h0M2863,4791h0M2868,4718h0M3260,4549h0M2845,4796h0M2995,4582h0M2861,4773h0M2975,4524h0M2979,4695h0M2898,4722h0M2864,4748h0M4205,4158h0M2951,4680h0M2913,4700h0M3074,4557h0M3069,4593h0M2917,4728h0M2976,4746h0M2868,4747h0M2936,4670h0M3122,4591h0M2867,4721h0M2865,4773h0M3018,4655h0M3152,4434h0M2908,4734h0M2861,4754h0M2852,4767h0M3111,4539h0M2893,4687h0M2942,4695h0M3030,4628h0M2919,4744h0M2894,4756h0M2984,4548h0M2973,4691h0M2938,4693h0M2872,4731h0M2931,4797h0M2936,4658h0M3040,4608h0M2859,4753h0M2917,4763h0M2853,4753h0M2927,4751h0M3034,4598h0M3038,4458h0M2935,4669h0M3019,4552h0M2937,4697h0M3046,4521h0M2908,4726h0M2850,4730h0M2983,4690h0M2932,4666h0M2912,4720h0M2974,4707h0M3093,4529h0" stroke="#5aaee0" stroke-opacity="0.45" stroke-width="42" stroke-linecap="round"/><path d="M2889,4755h0M2893,4784h0M2869,4749h0M3432,4397h0M3010,4543h0M2867,4744h0M3182,4454h0M2930,4644h0M2888,4707h0M2999,4718h0M3001,4623h0M3166,4548h0M2905,4702h0M2891,4722h0M3048,4691h0M3084,4476h0M3037,4729h0M2881,4643h0M2964,4589h0M3180,4590h0M3006,4657h0M2990,4676h0M2954,4667h0M2999,4759h0M2984,4630h0M3078,4611h0M3009,4611h0M3240,4372h0M3098,4546h0M2960,4692h0M2845,4726h0M2915,4733h0M3052,4621h0M2918,4698h0M2978,4740h0M3062,4518h0M2871,4748h0M2875,4731h0M2886,4748h0M3331,4425h0M2883,4776h0M2938,4697h0M2881,4712h0M3009,4580h0M2939,4649h0M3024,4624h0M3031,4587h0M3318,4266h0M3148,4575h0M2829,4782h0M2920,4678h0M2935,4672h0M2967,4671h0M3096,4619h0M2855,4752h0M2886,4774h0M3050,4582h0M2998,4649h0M3067,4585h0M3031,4646h0M2874,4718h0M2948,4696h0M2850,4767h0" stroke="#5aaee0" stroke-opacity="0.45" stroke-width="42" stroke-linecap="round"/><path d="M2971,4632h0M3008,4630h0M3176,4478h0M2982,4621h0M2883,4732h0M3098,4509h0M2876,4736h0M2957,4688h0M3005,4618h0M2998,4607h0M2859,4715h0M2887,4759h0M2902,4757h0M3098,4493h0M2966,4672h0M2877,4664h0M2984,4708h0M2942,4641h0M3007,4684h0M2926,4694h0M3053,4582h0M2892,4718h0M2875,4737h0M2893,4683h0M2920,4748h0M2898,4689h0M3094,4659h0M2891,4767h0M2890,4729h0M2895,4746h0M2848,4760h0M2859,4706h0M3036,4621h0M3085,4565h0M2858,4762h0M2925,4707h0M2921,4745h0M3027,4685h0M2865,4736h0M2967,4630h0M2910,4700h0M2930,4674h0M2896,4665h0M2961,4639h0M2876,4755h0M2876,4786h0M2963,4707h0M2952,4678h0M2890,4713h0M3038,4602h0M3211,4541h0M2925,4702h0M2941,4769h0M2942,4692h0M2842,4800h0M2960,4741h0M2946,4664h0M2967,4672h0M2895,4719h0M3099,4657h0M2869,4729h0M2931,4712h0M3081,4596h0" stroke="#5aaee0" stroke-opacity="0.45" stroke-width="42" stroke-linecap="round"/></g></g>
<path d="M283.5,477.6 L290.9,471.1 L319.3,449.4 L346.1,432.4" fill="none" stroke="#3f9fdc" stroke-width="1.9" stroke-linejoin="round"/>
<circle cx="290.9" cy="471.1" r="1.3" fill="#3f9fdc"/>
<circle cx="319.3" cy="449.4" r="1.3" fill="#3f9fdc"/>
<circle cx="346.1" cy="432.4" r="1.3" fill="#3f9fdc"/>
<path d="M290.9,466.6 L319.5,440.5 L346.1,412.3 L373.4,394.9" fill="none" stroke="#2c4fa8" stroke-width="1.5" stroke-linejoin="round"/>
<circle cx="319.5" cy="440.5" r="1.3" fill="#2c4fa8"/>
<circle cx="346.1" cy="412.3" r="1.3" fill="#2c4fa8"/>
<circle cx="373.4" cy="394.9" r="1.3" fill="#2c4fa8"/>
<path d="M373.4,398.1 L373.4,391.7 M371.6,398.1 L375.2,398.1 M371.6,391.7 L375.2,391.7" stroke="#2c4fa8" stroke-width="1.1" fill="none"/>
<path d="M290.9,471.9 L346.1,455.8" fill="none" stroke="#e43a2d" stroke-width="1.9" stroke-linejoin="round"/>
<circle cx="346.1" cy="455.8" r="1.3" fill="#e43a2d"/>
<path d="M290.9,467.9 L373.4,440.7 L399.8,428.4" fill="none" stroke="#7d1a16" stroke-width="1.5" stroke-linejoin="round"/>
<circle cx="373.4" cy="440.7" r="1.3" fill="#7d1a16"/>
<circle cx="399.8" cy="428.4" r="1.3" fill="#7d1a16"/>
<path d="M399.8,431.2 L399.8,425.6 M398.0,431.2 L401.6,431.2 M398.0,425.6 L401.6,425.6" stroke="#7d1a16" stroke-width="1.1" fill="none"/>
<clipPath id="clipe"><rect x="515.7" y="330" width="185" height="154.7"/></clipPath>
<circle cx="527.9" cy="311.6" r="2.6" fill="#5badde"/>
<text x="535.2" y="315.9" font-size="10.6" fill="#231f20" stroke="#231f20" stroke-width="0.2" textLength="68.6" lengthAdjust="spacingAndGlyphs">SCGE haploid</text>
<path d="M527.9,321.4 L530.8,325.4 L527.9,329.4 L525.0,325.4Z" fill="#3b3f95"/>
<text x="535.2" y="329.7" font-size="10.6" fill="#231f20" stroke="#231f20" stroke-width="0.2" textLength="65.8" lengthAdjust="spacingAndGlyphs">SCGE diploid</text>
<path d="M620.0,307.9 L623.4,314.0 L616.6,314.0Z" fill="#e2322b"/>
<text x="628.1" y="315.9" font-size="10.6" fill="#231f20" stroke="#231f20" stroke-width="0.2" textLength="61.2" lengthAdjust="spacingAndGlyphs">SCD haploid</text>
<rect x="617.5" y="322.9" width="5.0" height="5.0" fill="#8e2320"/>
<text x="628.1" y="329.7" font-size="10.6" fill="#231f20" stroke="#231f20" stroke-width="0.2" textLength="59.2" lengthAdjust="spacingAndGlyphs">SCD diploid</text>
<path d="M518.7,341.4 L518.7,481.7 L696,481.7" fill="none" stroke="#6d6e71" stroke-width="0.8"/>
<line x1="518.70" y1="481.7" x2="518.70" y2="478.7" stroke="#6d6e71" stroke-width="0.8"/>
<text x="518.7" y="495.3" font-size="10.2" text-anchor="middle" fill="#3a3a3a" stroke="#3a3a3a" stroke-width="0.2">0</text>
<line x1="554.15" y1="481.7" x2="554.15" y2="478.7" stroke="#6d6e71" stroke-width="0.8"/>
<text x="554.2" y="495.3" font-size="10.2" text-anchor="middle" fill="#3a3a3a" stroke="#3a3a3a" stroke-width="0.2">50</text>
<line x1="589.60" y1="481.7" x2="589.60" y2="478.7" stroke="#6d6e71" stroke-width="0.8"/>
<text x="589.6" y="495.3" font-size="10.2" text-anchor="middle" fill="#3a3a3a" stroke="#3a3a3a" stroke-width="0.2">100</text>
<line x1="625.05" y1="481.7" x2="625.05" y2="478.7" stroke="#6d6e71" stroke-width="0.8"/>
<text x="625.1" y="495.3" font-size="10.2" text-anchor="middle" fill="#3a3a3a" stroke="#3a3a3a" stroke-width="0.2">150</text>
<line x1="660.50" y1="481.7" x2="660.50" y2="478.7" stroke="#6d6e71" stroke-width="0.8"/>
<text x="660.5" y="495.3" font-size="10.2" text-anchor="middle" fill="#3a3a3a" stroke="#3a3a3a" stroke-width="0.2">200</text>
<line x1="695.95" y1="481.7" x2="695.95" y2="478.7" stroke="#6d6e71" stroke-width="0.8"/>
<text x="696.0" y="495.3" font-size="10.2" text-anchor="middle" fill="#3a3a3a" stroke="#3a3a3a" stroke-width="0.2">250</text>
<line x1="518.7" y1="481.70" x2="521.7" y2="481.70" stroke="#6d6e71" stroke-width="0.8"/>
<text x="513.7" y="485.1" font-size="10.2" text-anchor="end" fill="#3a3a3a" stroke="#3a3a3a" stroke-width="0.2">0</text>
<line x1="518.7" y1="464.16" x2="521.7" y2="464.16" stroke="#6d6e71" stroke-width="0.8"/>
<text x="513.7" y="467.6" font-size="10.2" text-anchor="end" fill="#3a3a3a" stroke="#3a3a3a" stroke-width="0.2">25</text>
<line x1="518.7" y1="446.62" x2="521.7" y2="446.62" stroke="#6d6e71" stroke-width="0.8"/>
<text x="513.7" y="450.0" font-size="10.2" text-anchor="end" fill="#3a3a3a" stroke="#3a3a3a" stroke-width="0.2">50</text>
<line x1="518.7" y1="429.09" x2="521.7" y2="429.09" stroke="#6d6e71" stroke-width="0.8"/>
<text x="513.7" y="432.5" font-size="10.2" text-anchor="end" fill="#3a3a3a" stroke="#3a3a3a" stroke-width="0.2">75</text>
<line x1="518.7" y1="411.55" x2="521.7" y2="411.55" stroke="#6d6e71" stroke-width="0.8"/>
<text x="513.7" y="414.9" font-size="10.2" text-anchor="end" fill="#3a3a3a" stroke="#3a3a3a" stroke-width="0.2">100</text>
<line x1="518.7" y1="394.01" x2="521.7" y2="394.01" stroke="#6d6e71" stroke-width="0.8"/>
<text x="513.7" y="397.4" font-size="10.2" text-anchor="end" fill="#3a3a3a" stroke="#3a3a3a" stroke-width="0.2">125</text>
<line x1="518.7" y1="376.47" x2="521.7" y2="376.47" stroke="#6d6e71" stroke-width="0.8"/>
<text x="513.7" y="379.9" font-size="10.2" text-anchor="end" fill="#3a3a3a" stroke="#3a3a3a" stroke-width="0.2">150</text>
<line x1="518.7" y1="358.94" x2="521.7" y2="358.94" stroke="#6d6e71" stroke-width="0.8"/>
<text x="513.7" y="362.3" font-size="10.2" text-anchor="end" fill="#3a3a3a" stroke="#3a3a3a" stroke-width="0.2">175</text>
<line x1="518.7" y1="341.40" x2="521.7" y2="341.40" stroke="#6d6e71" stroke-width="0.8"/>
<text x="513.7" y="344.8" font-size="10.2" text-anchor="end" fill="#3a3a3a" stroke="#3a3a3a" stroke-width="0.2">200</text>
<text x="490.6" y="411" font-size="10.8" text-anchor="middle" fill="#231f20" stroke="#231f20" stroke-width="0.2" textLength="102.9" lengthAdjust="spacingAndGlyphs" transform="rotate(-90 490.6 411)">Number of nucleoids</text>
<text x="607.4" y="512.2" font-size="10.8" text-anchor="middle" fill="#231f20" stroke="#231f20" stroke-width="0.2" textLength="122.0" lengthAdjust="spacingAndGlyphs">mtNetwork volume (a.u.)</text>
<g clip-path="url(#clipe)"><g transform="scale(.1)"><path d="M5607,4676h0M5283,4679h0M5449,4662h0M5479,4571h0M5504,4717h0M5582,4552h0M5358,4719h0M5457,4511h0M5489,4708h0M5466,4732h0M5488,4577h0M5513,4655h0M5341,4655h0M5627,4650h0M5482,4634h0M5427,4571h0M5427,4586h0M5452,4716h0M5342,4690h0M5454,4630h0M5330,4736h0M5594,4602h0M5453,4672h0M5320,4626h0M5480,4669h0M5364,4658h0M5440,4507h0M5350,4672h0M5640,4551h0M5441,4690h0M5512,4666h0M5400,4592h0M5374,4659h0M5399,4625h0M5261,4736h0M5336,4692h0M5388,4660h0M5391,4648h0M5317,4687h0M5391,4646h0M5372,4740h0M5397,4625h0M5514,4548h0M5338,4673h0M5406,4656h0M5523,4621h0M5401,4607h0M5467,4581h0M5385,4672h0M5328,4746h0M5514,4640h0M5510,4641h0M5474,4557h0M5346,4529h0M5427,4561h0M5509,4577h0M5528,4541h0M5453,4638h0M5336,4699h0M5541,4599h0M5519,4574h0M5496,4605h0M5486,4617h0M6161,4157h0M5344,4699h0M5576,4561h0M5321,4747h0M5404,4637h0M5405,4674h0M5347,4675h0M6321,4151h0" stroke="#b6504b" stroke-opacity="0.42" stroke-width="39" stroke-linecap="square"/><path d="M5503,4471h0M5590,4513h0M5713,4721h0M5494,4579h0M5340,4662h0M5412,4684h0M5527,4730h0M5392,4715h0M5393,4638h0M5481,4545h0M5712,4487h0M5612,4558h0M5469,4601h0M5312,4651h0M5518,4546h0M5346,4677h0M5367,4637h0M5484,4633h0M5485,4683h0M5376,4645h0M5429,4581h0M5452,4657h0M5689,4425h0M5523,4582h0M5447,4554h0M5566,4437h0M5651,4554h0M5430,4628h0M5818,4403h0M5758,4408h0M5336,4661h0M5442,4632h0M5484,4640h0M5391,4648h0M5431,4616h0M5431,4567h0M5394,4652h0M5513,4653h0M5565,4490h0M5423,4696h0M5382,4637h0M5500,4456h0M5309,4794h0M5449,4607h0M5597,4489h0M5430,4589h0M5379,4668h0M5859,4430h0M5493,4605h0M5435,4606h0M5907,4611h0M5766,4511h0M5542,4633h0M5742,4563h0M5324,4731h0M5562,4595h0M5285,4659h0M5392,4569h0M5564,4542h0M5557,4662h0M5801,4418h0M5433,4521h0M5814,4319h0M5574,4660h0M5523,4626h0M5402,4673h0M5570,4585h0M5428,4651h0M5479,4654h0M5524,4679h0M6251,4221h0" stroke="#b6504b" stroke-opacity="0.42" stroke-width="39" stroke-linecap="square"/><path d="M5413,4550h0M5624,4483h0M5494,4567h0M5455,4697h0M5340,4661h0M5507,4579h0M5431,4609h0M5591,4554h0M5449,4660h0M5608,4598h0M5494,4598h0M5785,4584h0M5387,4705h0M5484,4694h0M5406,4606h0M5381,4724h0M5521,4613h0M5833,4572h0M5425,4662h0M5500,4609h0M5453,4621h0M5284,4772h0M5461,4608h0M5390,4602h0M5542,4643h0M5593,4480h0M5398,4644h0M5602,4590h0M5553,4640h0M5288,4691h0M5608,4686h0M5693,4356h0M5503,4574h0M5601,4640h0M5397,4735h0M5439,4603h0M5373,4600h0M5474,4728h0M5356,4548h0M5339,4674h0M5633,4568h0M5628,4625h0M5556,4596h0M5549,4588h0M5410,4569h0M5504,4503h0M5624,4557h0M5445,4591h0M5506,4685h0M5510,4588h0M5532,4546h0M5371,4707h0M5487,4541h0M5414,4612h0M5499,4665h0M5420,4598h0M5386,4612h0M5461,4681h0M5487,4556h0M5752,4407h0M5312,4726h0M5388,4688h0M5440,4558h0M5743,4548h0M5401,4554h0M5387,4631h0M5567,4546h0M5602,4649h0M5405,4611h0M5397,4768h0M6570,4151h0" stroke="#b6504b" stroke-opacity="0.42" stroke-width="39" stroke-linecap="square"/><path d="M5579,4491h0M5554,4613h0M5468,4533h0M5749,4468h0M5379,4669h0M5596,4529h0M5436,4705h0M5479,4599h0M5401,4611h0M5522,4570h0M5538,4583h0M5409,4592h0M5831,4538h0M5415,4716h0M5593,4488h0M5358,4624h0M5453,4718h0M5875,4386h0M5319,4667h0M5472,4663h0M5406,4632h0M5505,4578h0M5444,4701h0M5418,4541h0M5412,4648h0M5623,4603h0M5392,4696h0M5334,4590h0M5720,4429h0M5336,4721h0M5393,4653h0M5362,4634h0M5402,4685h0M5515,4593h0M5351,4704h0M5539,4483h0M5642,4554h0M6096,4186h0M5403,4667h0M5429,4667h0M5418,4582h0M5715,4394h0M5551,4544h0M5613,4412h0M5722,4588h0M5304,4744h0M5411,4675h0M5457,4667h0M5506,4563h0M5447,4540h0M5418,4610h0M5666,4589h0M5588,4589h0M5397,4631h0M5408,4636h0M5491,4611h0M5447,4609h0M5509,4656h0M5390,4684h0M5505,4682h0M5985,4229h0M5408,4609h0M5513,4574h0M5422,4675h0M5308,4666h0M5386,4582h0M5256,4789h0M5422,4582h0M5389,4673h0M5555,4527h0" stroke="#b6504b" stroke-opacity="0.42" stroke-width="39" stroke-linecap="square"/><path d="M5706,4570h0M5427,4673h0M5295,4689h0M5462,4581h0M5289,4719h0M5320,4669h0M5587,4548h0M5501,4600h0M5710,4461h0M5374,4651h0M5515,4683h0M5475,4583h0M5674,4592h0M5342,4607h0M5480,4682h0M5332,4726h0M5321,4747h0M5622,4538h0M5306,4759h0M5425,4650h0M5488,4704h0M5420,4679h0M5753,4422h0M5383,4638h0M5827,4421h0M5280,4777h0M5399,4677h0M5365,4670h0M5311,4704h0M5421,4644h0M5320,4730h0M5532,4601h0M5871,4347h0M5361,4660h0M5403,4764h0M5647,4624h0M5413,4705h0M5352,4717h0M5496,4644h0M5343,4700h0M5527,4686h0M5382,4792h0M5797,4354h0M5453,4635h0M5482,4636h0M5331,4731h0M5450,4606h0M5313,4743h0M5474,4571h0M5498,4609h0M5391,4624h0M5345,4779h0M5293,4676h0M5499,4539h0M5366,4686h0M5425,4728h0M5363,4637h0M5449,4600h0M5855,4490h0M5428,4554h0M5445,4634h0M5603,4445h0M5537,4456h0M5405,4650h0M5649,4604h0M5816,4545h0M5409,4660h0M5540,4590h0M5881,4401h0M5384,4676h0" stroke="#b6504b" stroke-opacity="0.42" stroke-width="39" stroke-linecap="square"/><path d="M5349,4647h0M5470,4632h0M5432,4723h0M6082,4221h0M5495,4613h0M5437,4729h0M5453,4741h0M5515,4646h0M5451,4627h0M5648,4586h0M5420,4651h0M5471,4555h0M5415,4682h0M5308,4628h0M5464,4628h0M5638,4575h0M5439,4681h0M5593,4481h0M5405,4616h0M5434,4689h0M5455,4619h0M5394,4663h0M5599,4575h0M5423,4605h0M5448,4706h0M5540,4530h0M5474,4564h0M5755,4558h0M5406,4623h0M5370,4682h0M5331,4699h0M5614,4590h0M5623,4455h0M5403,4646h0M5392,4606h0M5452,4567h0M5398,4602h0M5682,4548h0M5364,4592h0M5421,4594h0M5475,4605h0M5471,4633h0M5533,4490h0M5579,4640h0M5319,4609h0M5375,4586h0M5264,4777h0M5434,4643h0M5336,4639h0M5377,4693h0M5562,4617h0M5464,4777h0M5528,4610h0M5638,4620h0M5452,4663h0M5706,4460h0M5430,4725h0M5561,4473h0M5414,4686h0M5406,4681h0M5493,4551h0M5440,4606h0M5564,4685h0M5468,4587h0M5419,4695h0M5621,4643h0M5319,4707h0M5540,4545h0M5577,4699h0M5443,4666h0" stroke="#b6504b" stroke-opacity="0.42" stroke-width="39" stroke-linecap="square"/></g></g>
<g clip-path="url(#clipe)"><g transform="scale(.1)"><path d="M5529,4617l23,41h-46zM5461,4642l23,41h-46zM5332,4745l23,41h-46zM5346,4691l23,41h-46zM5310,4684l23,41h-46zM5925,4433l23,41h-46zM5387,4651l23,41h-46zM5576,4557l23,41h-46zM5376,4690l23,41h-46zM5349,4720l23,41h-46zM5371,4771l23,41h-46zM5286,4737l23,41h-46zM5387,4725l23,41h-46zM5379,4712l23,41h-46zM5390,4680l23,41h-46zM5382,4674l23,41h-46zM5554,4636l23,41h-46zM5329,4707l23,41h-46zM5406,4670l23,41h-46zM5306,4728l23,41h-46zM5317,4705l23,41h-46zM5279,4687l23,41h-46zM5304,4714l23,41h-46zM5353,4677l23,41h-46zM5296,4673l23,41h-46zM5373,4727l23,41h-46zM5265,4720l23,41h-46zM5341,4681l23,41h-46zM5267,4755l23,41h-46zM5372,4634l23,41h-46zM5461,4588l23,41h-46zM5475,4662l23,41h-46zM5535,4689l23,41h-46zM5388,4766l23,41h-46zM5539,4644l23,41h-46zM5284,4732l23,41h-46zM5454,4716l23,41h-46zM5891,4450l23,41h-46zM5616,4577l23,41h-46zM5364,4587l23,41h-46zM5423,4733l23,41h-46zM5575,4659l23,41h-46zM5397,4696l23,41h-46zM5321,4714l23,41h-46zM5302,4732l23,41h-46zM5378,4696l23,41h-46zM5327,4698l23,41h-46zM5304,4715l23,41h-46zM5722,4584l23,41h-46zM5366,4700l23,41h-46zM5342,4748l23,41h-46zM5638,4611l23,41h-46zM5576,4631l23,41h-46zM5527,4592l23,41h-46zM5437,4698l23,41h-46zM5274,4729l23,41h-46zM5341,4705l23,41h-46zM5385,4637l23,41h-46zM5294,4738l23,41h-46zM5444,4588l23,41h-46z" fill="#e8574c" fill-opacity="0.38"/><path d="M5556,4670l23,41h-46zM5398,4757l23,41h-46zM5477,4693l23,41h-46zM5410,4628l23,41h-46zM5335,4734l23,41h-46zM5331,4709l23,41h-46zM5692,4568l23,41h-46zM5484,4712l23,41h-46zM5363,4702l23,41h-46zM5278,4732l23,41h-46zM5348,4684l23,41h-46zM5482,4619l23,41h-46zM5449,4612l23,41h-46zM5370,4720l23,41h-46zM5331,4730l23,41h-46zM5384,4663l23,41h-46zM5309,4758l23,41h-46zM5327,4721l23,41h-46zM5285,4724l23,41h-46zM5476,4657l23,41h-46zM5392,4713l23,41h-46zM5354,4769l23,41h-46zM5464,4613l23,41h-46zM5343,4688l23,41h-46zM5269,4764l23,41h-46zM5370,4710l23,41h-46zM5287,4704l23,41h-46zM5546,4653l23,41h-46zM5627,4557l23,41h-46zM5263,4727l23,41h-46zM5313,4648l23,41h-46zM5274,4745l23,41h-46zM5508,4712l23,41h-46zM5432,4702l23,41h-46zM5285,4750l23,41h-46zM5449,4669l23,41h-46zM5656,4697l23,41h-46zM5304,4750l23,41h-46zM5421,4726l23,41h-46zM5302,4762l23,41h-46zM5297,4697l23,41h-46zM5535,4702l23,41h-46zM5269,4739l23,41h-46zM5266,4714l23,41h-46zM5548,4646l23,41h-46zM5445,4678l23,41h-46zM5351,4720l23,41h-46zM5341,4726l23,41h-46zM5386,4677l23,41h-46zM5596,4595l23,41h-46zM5566,4677l23,41h-46zM5507,4602l23,41h-46zM5278,4765l23,41h-46zM5397,4690l23,41h-46zM5390,4659l23,41h-46zM5412,4717l23,41h-46zM5449,4653l23,41h-46zM5409,4640l23,41h-46zM5402,4671l23,41h-46zM5339,4740l23,41h-46z" fill="#e8574c" fill-opacity="0.38"/><path d="M5857,4647l23,41h-46zM5324,4726l23,41h-46zM5362,4685l23,41h-46zM5381,4694l23,41h-46zM5261,4760l23,41h-46zM5531,4618l23,41h-46zM5275,4704l23,41h-46zM5368,4685l23,41h-46zM5367,4707l23,41h-46zM5324,4706l23,41h-46zM5400,4706l23,41h-46zM5373,4697l23,41h-46zM5338,4667l23,41h-46zM5443,4748l23,41h-46zM5274,4716l23,41h-46zM5598,4606l23,41h-46zM5425,4699l23,41h-46zM5517,4676l23,41h-46zM5413,4693l23,41h-46zM5335,4709l23,41h-46zM5460,4631l23,41h-46zM5421,4705l23,41h-46zM5430,4718l23,41h-46zM5390,4687l23,41h-46zM5666,4585l23,41h-46zM5619,4634l23,41h-46zM5518,4579l23,41h-46zM5371,4695l23,41h-46zM5267,4741l23,41h-46zM5272,4777l23,41h-46zM5353,4759l23,41h-46zM5404,4670l23,41h-46zM5349,4645l23,41h-46zM5644,4530l23,41h-46zM5886,4385l23,41h-46zM5402,4700l23,41h-46zM5345,4692l23,41h-46zM5331,4764l23,41h-46zM5646,4692l23,41h-46zM5302,4730l23,41h-46zM5353,4673l23,41h-46zM5359,4704l23,41h-46zM5547,4633l23,41h-46zM5662,4573l23,41h-46zM5520,4668l23,41h-46zM5281,4750l23,41h-46zM5313,4674l23,41h-46zM5371,4655l23,41h-46zM5349,4698l23,41h-46zM5322,4751l23,41h-46zM5521,4717l23,41h-46zM5312,4716l23,41h-46zM5720,4587l23,41h-46zM5603,4656l23,41h-46zM5392,4690l23,41h-46zM5276,4727l23,41h-46zM5327,4778l23,41h-46zM5597,4596l23,41h-46zM5380,4635l23,41h-46zM5336,4643l23,41h-46z" fill="#e8574c" fill-opacity="0.38"/><path d="M5303,4718l23,41h-46zM5239,4749l23,41h-46zM5471,4675l23,41h-46zM5325,4687l23,41h-46zM5326,4772l23,41h-46zM5405,4708l23,41h-46zM5249,4729l23,41h-46zM5241,4740l23,41h-46zM5595,4592l23,41h-46zM5310,4720l23,41h-46zM5241,4704l23,41h-46zM5273,4762l23,41h-46zM5290,4717l23,41h-46zM5328,4717l23,41h-46zM5383,4717l23,41h-46zM5260,4719l23,41h-46zM5361,4686l23,41h-46zM5506,4608l23,41h-46zM5585,4719l23,41h-46zM5446,4765l23,41h-46zM5290,4738l23,41h-46zM5370,4759l23,41h-46zM5374,4656l23,41h-46zM5406,4608l23,41h-46zM5419,4656l23,41h-46zM5339,4695l23,41h-46zM5426,4680l23,41h-46zM5286,4716l23,41h-46zM5601,4593l23,41h-46zM5340,4781l23,41h-46zM5593,4718l23,41h-46zM5316,4734l23,41h-46zM5404,4633l23,41h-46zM5577,4582l23,41h-46zM5416,4695l23,41h-46zM5304,4746l23,41h-46zM5271,4707l23,41h-46zM5458,4650l23,41h-46zM5545,4645l23,41h-46zM5399,4689l23,41h-46zM5872,4470l23,41h-46zM5369,4644l23,41h-46zM5514,4660l23,41h-46zM5434,4587l23,41h-46zM5395,4677l23,41h-46zM5391,4758l23,41h-46zM5335,4750l23,41h-46zM5450,4677l23,41h-46zM5393,4744l23,41h-46zM5298,4711l23,41h-46zM5351,4673l23,41h-46zM5425,4665l23,41h-46zM5316,4722l23,41h-46zM5292,4691l23,41h-46zM5366,4692l23,41h-46zM5345,4725l23,41h-46zM5303,4715l23,41h-46zM5460,4673l23,41h-46zM5287,4714l23,41h-46zM5367,4702l23,41h-46z" fill="#e8574c" fill-opacity="0.38"/><path d="M5344,4729l23,41h-46zM5439,4749l23,41h-46zM5352,4699l23,41h-46zM5263,4688l23,41h-46zM5451,4660l23,41h-46zM5334,4699l23,41h-46zM5523,4674l23,41h-46zM5492,4714l23,41h-46zM5317,4672l23,41h-46zM5315,4709l23,41h-46zM5678,4527l23,41h-46zM5324,4755l23,41h-46zM5283,4696l23,41h-46zM5358,4682l23,41h-46zM5525,4598l23,41h-46zM5308,4701l23,41h-46zM5297,4716l23,41h-46zM5513,4611l23,41h-46zM5382,4620l23,41h-46zM5304,4709l23,41h-46zM5263,4749l23,41h-46zM5365,4649l23,41h-46zM5420,4664l23,41h-46zM5314,4763l23,41h-46zM5313,4763l23,41h-46zM5365,4735l23,41h-46zM5371,4665l23,41h-46zM5494,4689l23,41h-46zM5395,4697l23,41h-46zM5342,4713l23,41h-46zM5455,4587l23,41h-46zM5328,4704l23,41h-46zM5736,4598l23,41h-46zM5390,4750l23,41h-46zM5268,4756l23,41h-46zM5574,4600l23,41h-46zM5316,4762l23,41h-46zM5432,4712l23,41h-46zM5263,4770l23,41h-46zM5480,4733l23,41h-46zM5352,4680l23,41h-46zM5303,4706l23,41h-46zM5468,4665l23,41h-46zM5508,4626l23,41h-46zM5428,4736l23,41h-46zM5547,4588l23,41h-46zM5712,4605l23,41h-46zM5523,4660l23,41h-46zM5429,4619l23,41h-46zM5499,4665l23,41h-46zM5411,4748l23,41h-46zM5405,4759l23,41h-46zM5600,4571l23,41h-46zM5396,4646l23,41h-46zM5366,4688l23,41h-46zM5316,4717l23,41h-46zM5380,4724l23,41h-46zM5257,4759l23,41h-46zM5423,4660l23,41h-46zM5377,4642l23,41h-46z" fill="#e8574c" fill-opacity="0.38"/><path d="M5339,4711l23,41h-46zM5489,4710l23,41h-46zM5312,4735l23,41h-46zM5383,4700l23,41h-46zM5351,4702l23,41h-46zM5476,4653l23,41h-46zM5431,4650l23,41h-46zM5412,4699l23,41h-46zM5332,4667l23,41h-46zM5300,4683l23,41h-46zM5339,4672l23,41h-46zM5480,4685l23,41h-46zM5760,4487l23,41h-46zM5243,4741l23,41h-46zM5343,4714l23,41h-46zM5404,4715l23,41h-46zM5431,4689l23,41h-46zM5648,4616l23,41h-46zM5301,4724l23,41h-46zM5765,4566l23,41h-46zM5454,4683l23,41h-46zM5288,4769l23,41h-46zM5759,4589l23,41h-46zM5454,4780l23,41h-46zM5408,4683l23,41h-46zM5356,4745l23,41h-46zM5460,4684l23,41h-46zM5474,4700l23,41h-46zM5430,4598l23,41h-46zM5301,4708l23,41h-46zM5462,4672l23,41h-46zM5559,4547l23,41h-46zM5240,4752l23,41h-46zM5478,4696l23,41h-46zM5545,4630l23,41h-46zM5372,4744l23,41h-46zM5358,4701l23,41h-46zM5442,4699l23,41h-46zM5359,4706l23,41h-46zM5503,4626l23,41h-46zM5445,4653l23,41h-46zM5344,4702l23,41h-46zM5285,4718l23,41h-46zM5603,4633l23,41h-46zM5296,4715l23,41h-46zM5260,4759l23,41h-46zM5413,4540l23,41h-46zM5504,4651l23,41h-46zM5418,4666l23,41h-46zM5318,4768l23,41h-46zM5510,4631l23,41h-46zM5384,4746l23,41h-46zM5511,4592l23,41h-46zM5418,4752l23,41h-46zM5476,4698l23,41h-46zM5392,4681l23,41h-46zM5377,4658l23,41h-46zM5479,4646l23,41h-46zM5314,4730l23,41h-46zM5540,4574l23,41h-46z" fill="#e8574c" fill-opacity="0.38"/></g></g>
<g clip-path="url(#clipe)"><g transform="scale(.1)"><path d="M5537,4470l23,34-23,34-23-34zM5726,4511l23,34-23,34-23-34zM6020,4415l23,34-23,34-23-34zM5914,4393l23,34-23,34-23-34zM5629,4477l23,34-23,34-23-34zM5952,4200l23,34-23,34-23-34zM5994,4379l23,34-23,34-23-34zM5503,4656l23,34-23,34-23-34zM5648,4387l23,34-23,34-23-34zM5706,4424l23,34-23,34-23-34zM6005,4440l23,34-23,34-23-34zM5541,4471l23,34-23,34-23-34zM5647,4477l23,34-23,34-23-34zM5495,4646l23,34-23,34-23-34zM5860,4364l23,34-23,34-23-34zM5450,4579l23,34-23,34-23-34zM5711,4563l23,34-23,34-23-34zM5462,4623l23,34-23,34-23-34zM5558,4591l23,34-23,34-23-34zM5646,4359l23,34-23,34-23-34zM5685,4416l23,34-23,34-23-34zM5768,4336l23,34-23,34-23-34zM5545,4491l23,34-23,34-23-34zM5475,4578l23,34-23,34-23-34zM5354,4561l23,34-23,34-23-34zM6336,4024l23,34-23,34-23-34zM6223,4337l23,34-23,34-23-34zM6231,4106l23,34-23,34-23-34zM5525,4525l23,34-23,34-23-34zM5838,4380l23,34-23,34-23-34zM5685,4489l23,34-23,34-23-34zM5626,4495l23,34-23,34-23-34zM5678,4528l23,34-23,34-23-34zM5452,4538l23,34-23,34-23-34zM5520,4391l23,34-23,34-23-34zM6025,4212l23,34-23,34-23-34zM5710,4402l23,34-23,34-23-34zM5692,4420l23,34-23,34-23-34zM5647,4595l23,34-23,34-23-34zM5750,4382l23,34-23,34-23-34zM5471,4583l23,34-23,34-23-34zM6033,4287l23,34-23,34-23-34zM5530,4467l23,34-23,34-23-34zM5663,4503l23,34-23,34-23-34zM5763,4432l23,34-23,34-23-34zM5970,4411l23,34-23,34-23-34zM5677,4369l23,34-23,34-23-34zM5737,4427l23,34-23,34-23-34zM5509,4668l23,34-23,34-23-34zM5811,4364l23,34-23,34-23-34zM5660,4410l23,34-23,34-23-34zM5440,4598l23,34-23,34-23-34zM5467,4473l23,34-23,34-23-34zM5648,4675l23,34-23,34-23-34zM5458,4448l23,34-23,34-23-34zM5921,4405l23,34-23,34-23-34zM5409,4576l23,34-23,34-23-34zM5892,4379l23,34-23,34-23-34zM5436,4630l23,34-23,34-23-34zM5951,4337l23,34-23,34-23-34zM5661,4480l23,34-23,34-23-34zM5922,4369l23,34-23,34-23-34zM5557,4508l23,34-23,34-23-34zM5643,4488l23,34-23,34-23-34zM5653,4388l23,34-23,34-23-34zM5639,4594l23,34-23,34-23-34zM5723,4525l23,34-23,34-23-34zM5471,4540l23,34-23,34-23-34zM5477,4515l23,34-23,34-23-34zM5732,4525l23,34-23,34-23-34zM6839,3759l23,34-23,34-23-34zM6251,3941l23,34-23,34-23-34z" fill="#6a86cc" fill-opacity="0.42"/><path d="M6121,4188l23,34-23,34-23-34zM5495,4513l23,34-23,34-23-34zM5447,4580l23,34-23,34-23-34zM5599,4484l23,34-23,34-23-34zM5756,4352l23,34-23,34-23-34zM5553,4556l23,34-23,34-23-34zM6412,4065l23,34-23,34-23-34zM5391,4536l23,34-23,34-23-34zM5516,4475l23,34-23,34-23-34zM5677,4448l23,34-23,34-23-34zM5932,4310l23,34-23,34-23-34zM5987,4299l23,34-23,34-23-34zM5405,4524l23,34-23,34-23-34zM5776,4398l23,34-23,34-23-34zM5929,4333l23,34-23,34-23-34zM5793,4524l23,34-23,34-23-34zM5391,4611l23,34-23,34-23-34zM5602,4450l23,34-23,34-23-34zM5601,4511l23,34-23,34-23-34zM5798,4361l23,34-23,34-23-34zM5698,4540l23,34-23,34-23-34zM6141,4332l23,34-23,34-23-34zM5886,4216l23,34-23,34-23-34zM6195,4149l23,34-23,34-23-34zM5390,4626l23,34-23,34-23-34zM5502,4473l23,34-23,34-23-34zM5680,4572l23,34-23,34-23-34zM5646,4404l23,34-23,34-23-34zM5842,4394l23,34-23,34-23-34zM5673,4410l23,34-23,34-23-34zM6019,4346l23,34-23,34-23-34zM5772,4400l23,34-23,34-23-34zM5517,4555l23,34-23,34-23-34zM5711,4363l23,34-23,34-23-34zM5933,4322l23,34-23,34-23-34zM5705,4450l23,34-23,34-23-34zM5791,4362l23,34-23,34-23-34zM6049,4147l23,34-23,34-23-34zM6197,4122l23,34-23,34-23-34zM5613,4441l23,34-23,34-23-34zM6066,4235l23,34-23,34-23-34zM5493,4487l23,34-23,34-23-34zM5866,4325l23,34-23,34-23-34zM5925,4374l23,34-23,34-23-34zM5885,4213l23,34-23,34-23-34zM5712,4550l23,34-23,34-23-34zM5769,4457l23,34-23,34-23-34zM5536,4580l23,34-23,34-23-34zM5673,4356l23,34-23,34-23-34zM5718,4380l23,34-23,34-23-34zM5664,4444l23,34-23,34-23-34zM5666,4555l23,34-23,34-23-34zM5793,4363l23,34-23,34-23-34zM5772,4506l23,34-23,34-23-34zM5962,4328l23,34-23,34-23-34zM5711,4414l23,34-23,34-23-34zM5733,4359l23,34-23,34-23-34zM5698,4395l23,34-23,34-23-34zM6100,4382l23,34-23,34-23-34zM5818,4386l23,34-23,34-23-34zM5813,4289l23,34-23,34-23-34zM5491,4507l23,34-23,34-23-34zM5661,4542l23,34-23,34-23-34zM5518,4458l23,34-23,34-23-34zM5536,4450l23,34-23,34-23-34zM6071,4204l23,34-23,34-23-34zM5721,4584l23,34-23,34-23-34zM5573,4576l23,34-23,34-23-34zM5686,4379l23,34-23,34-23-34zM5698,4561l23,34-23,34-23-34zM6874,3626l23,34-23,34-23-34z" fill="#6a86cc" fill-opacity="0.42"/><path d="M5502,4423l23,34-23,34-23-34zM5761,4273l23,34-23,34-23-34zM5667,4525l23,34-23,34-23-34zM5521,4500l23,34-23,34-23-34zM5704,4334l23,34-23,34-23-34zM5808,4364l23,34-23,34-23-34zM5693,4217l23,34-23,34-23-34zM5802,4395l23,34-23,34-23-34zM6005,4213l23,34-23,34-23-34zM5676,4481l23,34-23,34-23-34zM5662,4502l23,34-23,34-23-34zM5640,4489l23,34-23,34-23-34zM5502,4541l23,34-23,34-23-34zM5971,4440l23,34-23,34-23-34zM5460,4583l23,34-23,34-23-34zM5445,4636l23,34-23,34-23-34zM5617,4528l23,34-23,34-23-34zM5580,4625l23,34-23,34-23-34zM5701,4451l23,34-23,34-23-34zM5683,4333l23,34-23,34-23-34zM5540,4607l23,34-23,34-23-34zM5426,4538l23,34-23,34-23-34zM5690,4369l23,34-23,34-23-34zM5455,4526l23,34-23,34-23-34zM5589,4415l23,34-23,34-23-34zM5907,4316l23,34-23,34-23-34zM5728,4421l23,34-23,34-23-34zM5515,4482l23,34-23,34-23-34zM5716,4388l23,34-23,34-23-34zM5697,4440l23,34-23,34-23-34zM5878,4465l23,34-23,34-23-34zM5780,4285l23,34-23,34-23-34zM5614,4399l23,34-23,34-23-34zM5734,4452l23,34-23,34-23-34zM5535,4404l23,34-23,34-23-34zM6576,3913l23,34-23,34-23-34zM5571,4285l23,34-23,34-23-34zM5830,4507l23,34-23,34-23-34zM6227,4435l23,34-23,34-23-34zM5539,4421l23,34-23,34-23-34zM5549,4582l23,34-23,34-23-34zM5511,4591l23,34-23,34-23-34zM6482,3737l23,34-23,34-23-34zM6056,4169l23,34-23,34-23-34zM5511,4511l23,34-23,34-23-34zM5548,4373l23,34-23,34-23-34zM5838,4238l23,34-23,34-23-34zM5622,4469l23,34-23,34-23-34zM5722,4395l23,34-23,34-23-34zM5598,4371l23,34-23,34-23-34zM5653,4461l23,34-23,34-23-34zM5619,4463l23,34-23,34-23-34zM5534,4564l23,34-23,34-23-34zM5760,4504l23,34-23,34-23-34zM5677,4297l23,34-23,34-23-34zM6061,4315l23,34-23,34-23-34zM5581,4463l23,34-23,34-23-34zM5965,4304l23,34-23,34-23-34zM6526,4279l23,34-23,34-23-34zM6411,4063l23,34-23,34-23-34zM5661,4512l23,34-23,34-23-34zM5506,4559l23,34-23,34-23-34zM5915,4226l23,34-23,34-23-34zM5823,4436l23,34-23,34-23-34zM5393,4592l23,34-23,34-23-34zM5625,4637l23,34-23,34-23-34zM5786,4384l23,34-23,34-23-34zM5568,4440l23,34-23,34-23-34zM5580,4526l23,34-23,34-23-34zM5636,4463l23,34-23,34-23-34zM6711,3913l23,34-23,34-23-34z" fill="#6a86cc" fill-opacity="0.42"/><path d="M5594,4586l23,34-23,34-23-34zM5732,4452l23,34-23,34-23-34zM5487,4597l23,34-23,34-23-34zM5581,4464l23,34-23,34-23-34zM5587,4356l23,34-23,34-23-34zM5689,4362l23,34-23,34-23-34zM5545,4537l23,34-23,34-23-34zM5710,4437l23,34-23,34-23-34zM5496,4514l23,34-23,34-23-34zM5784,4342l23,34-23,34-23-34zM5913,4427l23,34-23,34-23-34zM5874,4212l23,34-23,34-23-34zM5624,4590l23,34-23,34-23-34zM5614,4611l23,34-23,34-23-34zM6191,3981l23,34-23,34-23-34zM5530,4536l23,34-23,34-23-34zM5753,4617l23,34-23,34-23-34zM5711,4578l23,34-23,34-23-34zM6188,4235l23,34-23,34-23-34zM6072,4298l23,34-23,34-23-34zM5960,4392l23,34-23,34-23-34zM5637,4527l23,34-23,34-23-34zM5733,4544l23,34-23,34-23-34zM5526,4630l23,34-23,34-23-34zM5454,4477l23,34-23,34-23-34zM5630,4490l23,34-23,34-23-34zM5988,4257l23,34-23,34-23-34zM5559,4469l23,34-23,34-23-34zM5803,4336l23,34-23,34-23-34zM5574,4504l23,34-23,34-23-34zM5749,4362l23,34-23,34-23-34zM5532,4478l23,34-23,34-23-34zM5921,4481l23,34-23,34-23-34zM5638,4541l23,34-23,34-23-34zM5569,4548l23,34-23,34-23-34zM6146,4267l23,34-23,34-23-34zM5580,4473l23,34-23,34-23-34zM5646,4566l23,34-23,34-23-34zM5438,4679l23,34-23,34-23-34zM6054,4374l23,34-23,34-23-34zM5783,4398l23,34-23,34-23-34zM6145,4245l23,34-23,34-23-34zM5509,4652l23,34-23,34-23-34zM5760,4499l23,34-23,34-23-34zM5922,4243l23,34-23,34-23-34zM6426,3980l23,34-23,34-23-34zM5951,4165l23,34-23,34-23-34zM6393,3997l23,34-23,34-23-34zM5950,4338l23,34-23,34-23-34zM5498,4381l23,34-23,34-23-34zM5830,4286l23,34-23,34-23-34zM5620,4483l23,34-23,34-23-34zM5627,4593l23,34-23,34-23-34zM5628,4302l23,34-23,34-23-34zM5484,4777l23,34-23,34-23-34zM5958,4292l23,34-23,34-23-34zM5907,4390l23,34-23,34-23-34zM5456,4656l23,34-23,34-23-34zM5465,4482l23,34-23,34-23-34zM5960,4340l23,34-23,34-23-34zM6109,4282l23,34-23,34-23-34zM5407,4668l23,34-23,34-23-34zM5523,4472l23,34-23,34-23-34zM5390,4630l23,34-23,34-23-34zM5892,4286l23,34-23,34-23-34zM5659,4348l23,34-23,34-23-34zM5550,4301l23,34-23,34-23-34zM5819,4328l23,34-23,34-23-34zM5527,4419l23,34-23,34-23-34zM5686,4467l23,34-23,34-23-34zM6640,3927l23,34-23,34-23-34z" fill="#6a86cc" fill-opacity="0.42"/><path d="M5879,4513l23,34-23,34-23-34zM5707,4485l23,34-23,34-23-34zM6021,4391l23,34-23,34-23-34zM5467,4511l23,34-23,34-23-34zM5606,4601l23,34-23,34-23-34zM5699,4484l23,34-23,34-23-34zM5723,4428l23,34-23,34-23-34zM5745,4330l23,34-23,34-23-34zM5697,4449l23,34-23,34-23-34zM5618,4600l23,34-23,34-23-34zM5726,4451l23,34-23,34-23-34zM5677,4474l23,34-23,34-23-34zM5983,4440l23,34-23,34-23-34zM5580,4594l23,34-23,34-23-34zM5412,4578l23,34-23,34-23-34zM6173,4259l23,34-23,34-23-34zM5532,4536l23,34-23,34-23-34zM5631,4550l23,34-23,34-23-34zM5489,4587l23,34-23,34-23-34zM5799,4342l23,34-23,34-23-34zM6054,4277l23,34-23,34-23-34zM5753,4343l23,34-23,34-23-34zM5791,4420l23,34-23,34-23-34zM5928,4279l23,34-23,34-23-34zM5752,4395l23,34-23,34-23-34zM5510,4422l23,34-23,34-23-34zM6145,4320l23,34-23,34-23-34zM5576,4639l23,34-23,34-23-34zM6588,3893l23,34-23,34-23-34zM5894,4281l23,34-23,34-23-34zM5820,4284l23,34-23,34-23-34zM5615,4415l23,34-23,34-23-34zM5649,4460l23,34-23,34-23-34zM6045,4104l23,34-23,34-23-34zM5468,4503l23,34-23,34-23-34zM5569,4515l23,34-23,34-23-34zM5798,4485l23,34-23,34-23-34zM6053,4227l23,34-23,34-23-34zM5602,4469l23,34-23,34-23-34zM5507,4543l23,34-23,34-23-34zM5649,4437l23,34-23,34-23-34zM6109,4187l23,34-23,34-23-34zM5572,4417l23,34-23,34-23-34zM5577,4501l23,34-23,34-23-34zM5789,4443l23,34-23,34-23-34zM5525,4565l23,34-23,34-23-34zM5936,4279l23,34-23,34-23-34zM5683,4445l23,34-23,34-23-34zM6150,4266l23,34-23,34-23-34zM5564,4500l23,34-23,34-23-34zM5736,4398l23,34-23,34-23-34zM5577,4563l23,34-23,34-23-34zM5560,4478l23,34-23,34-23-34zM5667,4460l23,34-23,34-23-34zM5510,4533l23,34-23,34-23-34zM5626,4511l23,34-23,34-23-34zM5702,4521l23,34-23,34-23-34zM5539,4538l23,34-23,34-23-34zM5983,4176l23,34-23,34-23-34zM5679,4435l23,34-23,34-23-34zM5582,4514l23,34-23,34-23-34zM5720,4471l23,34-23,34-23-34zM5606,4558l23,34-23,34-23-34zM5591,4575l23,34-23,34-23-34zM5493,4583l23,34-23,34-23-34zM5818,4682l23,34-23,34-23-34zM5781,4469l23,34-23,34-23-34zM5764,4392l23,34-23,34-23-34zM5985,4228l23,34-23,34-23-34zM5331,4612l23,34-23,34-23-34zM6463,3892l23,34-23,34-23-34z" fill="#6a86cc" fill-opacity="0.42"/><path d="M5523,4515l23,34-23,34-23-34zM5782,4633l23,34-23,34-23-34zM5973,4248l23,34-23,34-23-34zM5822,4430l23,34-23,34-23-34zM5980,4201l23,34-23,34-23-34zM5620,4503l23,34-23,34-23-34zM5451,4567l23,34-23,34-23-34zM5740,4418l23,34-23,34-23-34zM5468,4589l23,34-23,34-23-34zM5576,4476l23,34-23,34-23-34zM5832,4387l23,34-23,34-23-34zM5637,4524l23,34-23,34-23-34zM5704,4468l23,34-23,34-23-34zM6064,4197l23,34-23,34-23-34zM6141,4298l23,34-23,34-23-34zM5675,4357l23,34-23,34-23-34zM5569,4585l23,34-23,34-23-34zM5872,4338l23,34-23,34-23-34zM5322,4618l23,34-23,34-23-34zM5578,4481l23,34-23,34-23-34zM5885,4391l23,34-23,34-23-34zM5485,4494l23,34-23,34-23-34zM5481,4549l23,34-23,34-23-34zM5653,4689l23,34-23,34-23-34zM5592,4529l23,34-23,34-23-34zM6275,4169l23,34-23,34-23-34zM5881,4536l23,34-23,34-23-34zM5806,4450l23,34-23,34-23-34zM5581,4420l23,34-23,34-23-34zM5785,4542l23,34-23,34-23-34zM5550,4579l23,34-23,34-23-34zM5727,4385l23,34-23,34-23-34zM5750,4563l23,34-23,34-23-34zM5590,4673l23,34-23,34-23-34zM6337,4166l23,34-23,34-23-34zM5738,4486l23,34-23,34-23-34zM5710,4646l23,34-23,34-23-34zM5517,4445l23,34-23,34-23-34zM5454,4549l23,34-23,34-23-34zM5649,4358l23,34-23,34-23-34zM6029,4417l23,34-23,34-23-34zM5832,4302l23,34-23,34-23-34zM5627,4498l23,34-23,34-23-34zM5578,4577l23,34-23,34-23-34zM5907,4331l23,34-23,34-23-34zM6432,3786l23,34-23,34-23-34zM6276,3863l23,34-23,34-23-34zM5377,4587l23,34-23,34-23-34zM6169,4295l23,34-23,34-23-34zM5473,4551l23,34-23,34-23-34zM5639,4469l23,34-23,34-23-34zM5791,4319l23,34-23,34-23-34zM5785,4317l23,34-23,34-23-34zM5888,4292l23,34-23,34-23-34zM5476,4409l23,34-23,34-23-34zM5502,4510l23,34-23,34-23-34zM5898,4278l23,34-23,34-23-34zM5431,4500l23,34-23,34-23-34zM5952,4371l23,34-23,34-23-34zM5577,4403l23,34-23,34-23-34zM5432,4523l23,34-23,34-23-34zM5896,4392l23,34-23,34-23-34zM5775,4400l23,34-23,34-23-34zM5870,4436l23,34-23,34-23-34zM5738,4403l23,34-23,34-23-34zM5734,4351l23,34-23,34-23-34zM6266,3898l23,34-23,34-23-34zM5739,4442l23,34-23,34-23-34zM5787,4441l23,34-23,34-23-34zM5320,4738l23,34-23,34-23-34zM6570,3857l23,34-23,34-23-34z" fill="#6a86cc" fill-opacity="0.42"/></g></g>
<g clip-path="url(#clipe)"><g transform="scale(.1)"><path d="M5770,4568h0M5445,4686h0M5351,4791h0M5558,4660h0M5312,4722h0M5396,4709h0M5781,4451h0M5598,4596h0M5438,4683h0M5361,4761h0M5841,4607h0M5519,4672h0M5776,4519h0M5422,4666h0M5627,4575h0M5675,4598h0M5570,4679h0M5505,4639h0M5489,4685h0M5514,4687h0M5385,4712h0M5579,4652h0M5439,4723h0M5443,4666h0M5300,4763h0M5420,4676h0M5751,4517h0M5396,4733h0M5377,4734h0M5556,4640h0M5466,4645h0M5832,4447h0M5786,4530h0M5935,4349h0M5403,4748h0M5888,4351h0M5503,4653h0M5417,4764h0M6117,4291h0M5394,4722h0M5580,4652h0M5568,4697h0M5540,4707h0M6065,4388h0M5558,4655h0M5714,4520h0M5605,4556h0M5483,4635h0M5527,4592h0M5404,4725h0M5934,4491h0M5370,4681h0M5370,4702h0M5546,4685h0M5308,4740h0M5720,4480h0M5715,4627h0M5723,4551h0M5536,4627h0M6120,4550h0M5445,4661h0M5605,4684h0M5702,4669h0M5533,4696h0" stroke="#5aaee0" stroke-opacity="0.45" stroke-width="42" stroke-linecap="round"/><path d="M5485,4646h0M5661,4656h0M5441,4742h0M5351,4726h0M5458,4581h0M5376,4763h0M5740,4595h0M5452,4721h0M5495,4661h0M6029,4518h0M5936,4499h0M5601,4627h0M5568,4661h0M5439,4667h0M5500,4632h0M5907,4423h0M5461,4741h0M5448,4786h0M5477,4709h0M5413,4660h0M5586,4642h0M5547,4696h0M5394,4700h0M5424,4718h0M5722,4546h0M5398,4706h0M5767,4514h0M5506,4651h0M5457,4659h0M5505,4708h0M5435,4741h0M5490,4671h0M5388,4742h0M5402,4699h0M5490,4666h0M5708,4533h0M5348,4758h0M5409,4702h0M5963,4547h0M5565,4675h0M5534,4630h0M5390,4702h0M5606,4598h0M5570,4572h0M5398,4610h0M6078,4381h0M5649,4511h0M5429,4739h0M5412,4673h0M5440,4675h0M5683,4553h0M5450,4718h0M5598,4652h0M5726,4588h0M5597,4616h0M5365,4703h0M5600,4568h0M5586,4547h0M5502,4679h0M5535,4648h0M5644,4625h0M5663,4475h0M5526,4690h0M5320,4803h0" stroke="#5aaee0" stroke-opacity="0.45" stroke-width="42" stroke-linecap="round"/><path d="M5377,4780h0M5313,4713h0M5418,4751h0M5654,4568h0M5297,4768h0M5442,4639h0M6004,4496h0M5468,4740h0M5300,4791h0M5441,4701h0M5307,4709h0M5513,4713h0M5423,4686h0M5746,4556h0M5617,4567h0M5509,4624h0M5760,4508h0M5483,4668h0M5614,4628h0M5721,4521h0M5316,4759h0M5371,4768h0M5650,4491h0M5458,4705h0M5383,4740h0M5569,4617h0M5435,4693h0M6261,4226h0M5566,4581h0M5679,4604h0M5800,4579h0M5571,4602h0M5664,4635h0M5334,4711h0M5517,4621h0M5518,4695h0M5379,4782h0M5993,4489h0M5536,4639h0M5681,4625h0M5325,4717h0M5535,4692h0M5446,4720h0M5791,4637h0M5411,4700h0M5468,4710h0M5321,4733h0M5396,4689h0M5412,4711h0M5305,4770h0M5573,4559h0M5255,4793h0M5334,4782h0M5744,4475h0M5681,4469h0M5416,4723h0M5601,4665h0M5400,4699h0M5622,4662h0M5581,4651h0M5517,4677h0M5416,4724h0M5422,4724h0" stroke="#5aaee0" stroke-opacity="0.45" stroke-width="42" stroke-linecap="round"/><path d="M5686,4570h0M5626,4574h0M5368,4753h0M5361,4786h0M5318,4759h0M5386,4687h0M5359,4739h0M5361,4733h0M5546,4542h0M5283,4766h0M5462,4705h0M5393,4727h0M5340,4737h0M5465,4654h0M5561,4670h0M5393,4690h0M5329,4752h0M5304,4745h0M5515,4630h0M5429,4659h0M5335,4773h0M5402,4738h0M5439,4707h0M5434,4679h0M5470,4675h0M5357,4786h0M5483,4635h0M5506,4616h0M5726,4465h0M5669,4670h0M5628,4583h0M5677,4563h0M5439,4665h0M5516,4636h0M5466,4659h0M5385,4757h0M5717,4681h0M5330,4767h0M5744,4589h0M5434,4715h0M5337,4764h0M5386,4681h0M5649,4610h0M5633,4638h0M5357,4692h0M5345,4718h0M5364,4724h0M5439,4732h0M5667,4650h0M5617,4571h0M6002,4399h0M5340,4749h0M5829,4402h0M5529,4649h0M5599,4626h0M5326,4774h0M5569,4626h0M5565,4546h0M5894,4402h0M5490,4663h0M5518,4648h0M5428,4725h0M5659,4622h0" stroke="#5aaee0" stroke-opacity="0.45" stroke-width="42" stroke-linecap="round"/><path d="M5482,4668h0M5632,4605h0M5676,4500h0M5746,4630h0M5446,4667h0M5485,4646h0M5931,4438h0M5687,4589h0M5459,4691h0M5423,4699h0M5484,4686h0M5592,4567h0M5445,4676h0M5335,4767h0M5338,4713h0M5459,4687h0M5760,4557h0M5485,4669h0M5424,4693h0M5346,4764h0M5563,4666h0M5417,4709h0M5333,4697h0M5443,4735h0M5455,4751h0M5485,4632h0M5576,4641h0M5449,4645h0M5471,4636h0M5938,4402h0M5646,4701h0M5577,4658h0M5698,4604h0M5521,4750h0M5289,4785h0M5490,4703h0M5863,4452h0M5409,4665h0M5649,4625h0M5382,4731h0M5478,4651h0M5468,4675h0M5616,4660h0M5410,4733h0M5540,4639h0M5841,4465h0M5453,4684h0M5396,4716h0M5454,4733h0M5398,4732h0M5387,4722h0M5689,4546h0M5300,4771h0M5623,4619h0M5559,4512h0M5504,4722h0M6007,4512h0M5642,4655h0M5532,4696h0M5739,4511h0M5560,4664h0M5486,4678h0M5299,4753h0" stroke="#5aaee0" stroke-opacity="0.45" stroke-width="42" stroke-linecap="round"/><path d="M5950,4477h0M5386,4710h0M5523,4635h0M5528,4786h0M5507,4633h0M5519,4663h0M5673,4701h0M5475,4679h0M5316,4774h0M5569,4559h0M5678,4540h0M5510,4677h0M5397,4721h0M5724,4543h0M5500,4597h0M5455,4688h0M5485,4677h0M5606,4582h0M5867,4593h0M5361,4762h0M5611,4575h0M5357,4722h0M5641,4618h0M5339,4709h0M5593,4642h0M5625,4677h0M5339,4769h0M5380,4715h0M5554,4652h0M5604,4549h0M5441,4712h0M5777,4515h0M5456,4633h0M5400,4666h0M5616,4735h0M5902,4513h0M5338,4717h0M5370,4750h0M5804,4576h0M5663,4643h0M5482,4603h0M5748,4499h0M5768,4582h0M5423,4676h0M5695,4709h0M5322,4767h0M5342,4767h0M5375,4696h0M5503,4725h0M5386,4735h0M5637,4607h0M5503,4663h0M5615,4637h0M5374,4779h0M5633,4546h0M5507,4646h0M5700,4480h0M5628,4589h0M5653,4562h0M5570,4773h0M5496,4669h0M5426,4701h0M5492,4708h0" stroke="#5aaee0" stroke-opacity="0.45" stroke-width="42" stroke-linecap="round"/></g></g>
<path d="M524.4,478.2 L554.2,466.3 L589.6,450.1 L604.5,442.4 L620.8,439.6" fill="none" stroke="#3f9fdc" stroke-width="1.9" stroke-linejoin="round"/>
<circle cx="554.2" cy="466.3" r="1.3" fill="#3f9fdc"/>
<circle cx="589.6" cy="450.1" r="1.3" fill="#3f9fdc"/>
<circle cx="604.5" cy="442.4" r="1.3" fill="#3f9fdc"/>
<circle cx="620.8" cy="439.6" r="1.3" fill="#3f9fdc"/>
<path d="M604.5,445.2 L604.5,439.6 M602.7,445.2 L606.3,445.2 M602.7,439.6 L606.3,439.6" stroke="#3f9fdc" stroke-width="1.1" fill="none"/>
<path d="M620.8,441.0 L620.8,438.2 M619.0,441.0 L622.6,441.0 M619.0,438.2 L622.6,438.2" stroke="#3f9fdc" stroke-width="1.1" fill="none"/>
<path d="M524.4,472.2 L554.2,458.6 L589.6,441.0 L604.5,430.2 L620.8,418.6 L637.1,412.3 L652.7,401.7" fill="none" stroke="#2c4fa8" stroke-width="1.5" stroke-linejoin="round"/>
<circle cx="554.2" cy="458.6" r="1.3" fill="#2c4fa8"/>
<circle cx="589.6" cy="441.0" r="1.3" fill="#2c4fa8"/>
<circle cx="604.5" cy="430.2" r="1.3" fill="#2c4fa8"/>
<circle cx="620.8" cy="418.6" r="1.3" fill="#2c4fa8"/>
<circle cx="637.1" cy="412.3" r="1.3" fill="#2c4fa8"/>
<circle cx="652.7" cy="401.7" r="1.3" fill="#2c4fa8"/>
<path d="M637.1,414.0 L637.1,410.5 M635.3,414.0 L638.9,414.0 M635.3,410.5 L638.9,410.5" stroke="#2c4fa8" stroke-width="1.1" fill="none"/>
<path d="M652.7,403.8 L652.7,399.6 M650.9,403.8 L654.5,403.8 M650.9,399.6 L654.5,399.6" stroke="#2c4fa8" stroke-width="1.1" fill="none"/>
<path d="M524.4,476.8 L547.1,469.8 L572.2,459.3" fill="none" stroke="#e43a2d" stroke-width="1.9" stroke-linejoin="round"/>
<circle cx="547.1" cy="469.8" r="1.3" fill="#e43a2d"/>
<circle cx="572.2" cy="459.3" r="1.3" fill="#e43a2d"/>
<path d="M524.4,473.3 L554.2,458.6 L589.2,440.3" fill="none" stroke="#7d1a16" stroke-width="1.5" stroke-linejoin="round"/>
<circle cx="554.2" cy="458.6" r="1.3" fill="#7d1a16"/>
<circle cx="589.2" cy="440.3" r="1.3" fill="#7d1a16"/>
<path d="M73.5,614.02 L73.5,760.6 L258.7,760.6" fill="none" stroke="#6d6e71" stroke-width="0.8"/>
<line x1="73.50" y1="760.6" x2="73.50" y2="757.6" stroke="#6d6e71" stroke-width="0.8"/>
<text x="73.5" y="774.2" font-size="10.2" text-anchor="middle" fill="#3a3a3a" stroke="#3a3a3a" stroke-width="0.2">0</text>
<line x1="119.80" y1="760.6" x2="119.80" y2="757.6" stroke="#6d6e71" stroke-width="0.8"/>
<text x="119.8" y="774.2" font-size="10.2" text-anchor="middle" fill="#3a3a3a" stroke="#3a3a3a" stroke-width="0.2">50</text>
<line x1="166.10" y1="760.6" x2="166.10" y2="757.6" stroke="#6d6e71" stroke-width="0.8"/>
<text x="166.1" y="774.2" font-size="10.2" text-anchor="middle" fill="#3a3a3a" stroke="#3a3a3a" stroke-width="0.2">100</text>
<line x1="212.40" y1="760.6" x2="212.40" y2="757.6" stroke="#6d6e71" stroke-width="0.8"/>
<text x="212.4" y="774.2" font-size="10.2" text-anchor="middle" fill="#3a3a3a" stroke="#3a3a3a" stroke-width="0.2">150</text>
<line x1="258.70" y1="760.6" x2="258.70" y2="757.6" stroke="#6d6e71" stroke-width="0.8"/>
<text x="258.7" y="774.2" font-size="10.2" text-anchor="middle" fill="#3a3a3a" stroke="#3a3a3a" stroke-width="0.2">200</text>
<line x1="73.5" y1="760.60" x2="76.5" y2="760.60" stroke="#6d6e71" stroke-width="0.8"/>
<text x="68.5" y="764.0" font-size="10.2" text-anchor="end" fill="#3a3a3a" stroke="#3a3a3a" stroke-width="0.2">0</text>
<line x1="73.5" y1="736.17" x2="76.5" y2="736.17" stroke="#6d6e71" stroke-width="0.8"/>
<text x="68.5" y="739.6" font-size="10.2" text-anchor="end" fill="#3a3a3a" stroke="#3a3a3a" stroke-width="0.2">100</text>
<line x1="73.5" y1="711.74" x2="76.5" y2="711.74" stroke="#6d6e71" stroke-width="0.8"/>
<text x="68.5" y="715.1" font-size="10.2" text-anchor="end" fill="#3a3a3a" stroke="#3a3a3a" stroke-width="0.2">200</text>
<line x1="73.5" y1="687.31" x2="76.5" y2="687.31" stroke="#6d6e71" stroke-width="0.8"/>
<text x="68.5" y="690.7" font-size="10.2" text-anchor="end" fill="#3a3a3a" stroke="#3a3a3a" stroke-width="0.2">300</text>
<line x1="73.5" y1="662.88" x2="76.5" y2="662.88" stroke="#6d6e71" stroke-width="0.8"/>
<text x="68.5" y="666.3" font-size="10.2" text-anchor="end" fill="#3a3a3a" stroke="#3a3a3a" stroke-width="0.2">400</text>
<line x1="73.5" y1="638.45" x2="76.5" y2="638.45" stroke="#6d6e71" stroke-width="0.8"/>
<text x="68.5" y="641.9" font-size="10.2" text-anchor="end" fill="#3a3a3a" stroke="#3a3a3a" stroke-width="0.2">500</text>
<line x1="73.5" y1="614.02" x2="76.5" y2="614.02" stroke="#6d6e71" stroke-width="0.8"/>
<text x="68.5" y="617.4" font-size="10.2" text-anchor="end" fill="#3a3a3a" stroke="#3a3a3a" stroke-width="0.2">600</text>
<text x="42.2" y="686.9" font-size="10.8" text-anchor="middle" fill="#231f20" stroke="#231f20" stroke-width="0.2" textLength="139.9" lengthAdjust="spacingAndGlyphs" transform="rotate(-90 42.2 686.9)">Mitochondrial diameter (nm)</text>
<text x="166.4" y="790.0" font-size="10.8" text-anchor="middle" fill="#231f20" stroke="#231f20" stroke-width="0.2" textLength="79.0" lengthAdjust="spacingAndGlyphs">Cell volume (fL)</text>
<path d="M117.9,668.3 L117.9,652.1 M116.1,668.3 L119.7,668.3 M116.1,652.1 L119.7,652.1 M116.1,660.4 L119.8,660.4 M116.1,658.6 L116.1,662.2 M119.8,658.6 L119.8,662.2" stroke="#e2322b" stroke-width="0.9" fill="none"/>
<path d="M131.8,667.8 L131.8,653.1 M130.0,667.8 L133.6,667.8 M130.0,653.1 L133.6,653.1 " stroke="#e2322b" stroke-width="0.9" fill="none"/>
<path d="M153.6,672.9 L153.6,656.0 M151.8,672.9 L155.4,672.9 M151.8,656.0 L155.4,656.0 M142.5,664.1 L164.7,664.1 M142.5,662.3 L142.5,665.9 M164.7,662.3 L164.7,665.9" stroke="#e2322b" stroke-width="0.9" fill="none"/>
<path d="M168.0,663.4 L168.0,652.4 M166.2,663.4 L169.8,663.4 M166.2,652.4 L169.8,652.4 M154.1,658.5 L181.8,658.5 M154.1,656.7 L154.1,660.3 M181.8,656.7 L181.8,660.3" stroke="#e2322b" stroke-width="0.9" fill="none"/>
<path d="M107.8,679.0 L126.3,679.0 M107.8,677.2 L107.8,680.8 M126.3,677.2 L126.3,680.8" stroke="#4aa3d8" stroke-width="0.9" fill="none"/>
<path d="M120.7,673.1 L120.7,667.8 M118.9,673.1 L122.5,673.1 M118.9,667.8 L122.5,667.8 " stroke="#4aa3d8" stroke-width="0.9" fill="none"/>
<path d="M154.1,690.5 L154.1,674.1 M152.3,690.5 L155.9,690.5 M152.3,674.1 L155.9,674.1 M135.5,681.9 L172.6,681.9 M135.5,680.1 L135.5,683.7 M172.6,680.1 L172.6,683.7" stroke="#4aa3d8" stroke-width="0.9" fill="none"/>
<path d="M228.1,681.9 L228.1,679.0 M226.3,681.9 L229.9,681.9 M226.3,679.0 L229.9,679.0 M207.8,680.5 L248.5,680.5 M207.8,678.7 L207.8,682.3 M248.5,678.7 L248.5,682.3" stroke="#4aa3d8" stroke-width="0.9" fill="none"/>
<path d="M117.9,657.3 L121.1,663.0 L114.7,663.0Z" fill="#e2322b"/>
<path d="M153.6,660.9 L156.8,666.7 L150.4,666.7Z" fill="#e2322b"/>
<path d="M168.0,655.3 L171.2,661.1 L164.8,661.1Z" fill="#e2322b"/>
<path d="M131.8,657.6 L134.4,662.7 L129.2,662.7Z" fill="#fff" stroke="#e2322b" stroke-width="1"/>
<circle cx="117.0" cy="679.0" r="2.7" fill="#4aa3d8"/>
<circle cx="120.7" cy="673.1" r="2.1" fill="#fff" stroke="#4aa3d8" stroke-width="1.1"/>
<circle cx="154.1" cy="681.9" r="2.9" fill="#4aa3d8"/>
<rect x="225.9" y="678.3" width="4.4" height="4.4" fill="#4aa3d8"/>
<path d="M173.3,727.0 L176.4,732.5 L170.2,732.5Z" fill="#e2322b"/>
<text x="180.3" y="734.4" font-size="10.6" fill="#231f20" stroke="#231f20" stroke-width="0.2" textLength="61.2" lengthAdjust="spacingAndGlyphs">SCD haploid</text>
<circle cx="172.7" cy="745.4" r="2.4" fill="#4aa3d8"/>
<text x="180.3" y="749.5" font-size="10.6" fill="#231f20" stroke="#231f20" stroke-width="0.2" textLength="68.6" lengthAdjust="spacingAndGlyphs">SCGE haploid</text>
<defs>
<filter id="tem" x="0" y="0" width="1" height="1" color-interpolation-filters="sRGB">
<feTurbulence type="fractalNoise" baseFrequency="0.55" numOctaves="2" seed="11" result="n1"/>
<feColorMatrix in="n1" type="matrix" values="0 0 0 0 0  0 0 0 0 0  0 0 0 0 0  1.1 0 0 0 -0.53" result="dk"/>
<feColorMatrix in="n1" type="matrix" values="0 0 0 0 1  0 0 0 0 1  0 0 0 0 1  0 -1.1 0 0 0.55" result="lt"/>
<feTurbulence type="fractalNoise" baseFrequency="0.1" numOctaves="2" seed="4" result="n2"/>
<feColorMatrix in="n2" type="matrix" values="0 0 0 0 0  0 0 0 0 0  0 0 0 0 0  0.6 0 0 0 -0.26" result="blot"/>
<feMerge result="m"><feMergeNode in="SourceGraphic"/><feMergeNode in="blot"/><feMergeNode in="dk"/><feMergeNode in="lt"/></feMerge>
<feGaussianBlur in="m" stdDeviation="0.35" result="mb"/>
<feComposite in="mb" in2="SourceGraphic" operator="in"/>
</filter>
<filter id="tb03"><feGaussianBlur stdDeviation="0.25"/></filter>
<filter id="tb1"><feGaussianBlur stdDeviation="0.6"/></filter>
<filter id="tb2"><feGaussianBlur stdDeviation="1.4"/></filter>
</defs>
<text x="500.4" y="551.7" font-size="10.4" text-anchor="middle" fill="#231f20" stroke="#231f20" stroke-width="0.2" textLength="28.4" lengthAdjust="spacingAndGlyphs">SCGE</text>
<rect x="307.4" y="555.10" width="385.20" height="1.6" fill="#1a1a1a"/>
<text x="401.2" y="570.4" font-size="10.4" text-anchor="middle" fill="#231f20" stroke="#231f20" stroke-width="0.2" textLength="15.8" lengthAdjust="spacingAndGlyphs">WT</text>
<text x="599.6" y="570.4" font-size="10.4" text-anchor="middle" fill="#231f20" stroke="#231f20" stroke-width="0.2" textLength="131" lengthAdjust="spacingAndGlyphs">β-estradiol inducible <tspan font-style="italic">WHI5</tspan></text>
<rect x="307.4" y="574.50" width="187.40" height="1.6" fill="#1a1a1a"/>
<rect x="506.6" y="574.50" width="186.00" height="1.6" fill="#1a1a1a"/>
<text x="353.2" y="588.2" font-size="10.4" text-anchor="middle" fill="#231f20" stroke="#231f20" stroke-width="0.2" textLength="25.3" lengthAdjust="spacingAndGlyphs">0 nM</text>
<text x="353.2" y="599.9" font-size="10.4" text-anchor="middle" fill="#231f20" stroke="#231f20" stroke-width="0.2" textLength="53.2" lengthAdjust="spacingAndGlyphs">β-estradiol</text>
<text x="449.2" y="588.2" font-size="10.4" text-anchor="middle" fill="#231f20" stroke="#231f20" stroke-width="0.2" textLength="31.7" lengthAdjust="spacingAndGlyphs">30 nM</text>
<text x="449.2" y="599.9" font-size="10.4" text-anchor="middle" fill="#231f20" stroke="#231f20" stroke-width="0.2" textLength="53.2" lengthAdjust="spacingAndGlyphs">β-estradiol</text>
<text x="552.6" y="588.2" font-size="10.4" text-anchor="middle" fill="#231f20" stroke="#231f20" stroke-width="0.2" textLength="25.3" lengthAdjust="spacingAndGlyphs">0 nM</text>
<text x="552.6" y="599.9" font-size="10.4" text-anchor="middle" fill="#231f20" stroke="#231f20" stroke-width="0.2" textLength="53.2" lengthAdjust="spacingAndGlyphs">β-estradiol</text>
<text x="647.2" y="588.2" font-size="10.4" text-anchor="middle" fill="#231f20" stroke="#231f20" stroke-width="0.2" textLength="31.7" lengthAdjust="spacingAndGlyphs">30 nM</text>
<text x="647.2" y="599.9" font-size="10.4" text-anchor="middle" fill="#231f20" stroke="#231f20" stroke-width="0.2" textLength="53.2" lengthAdjust="spacingAndGlyphs">β-estradiol</text>
<text x="501.4" y="731.0" font-size="10.4" text-anchor="middle" fill="#231f20" stroke="#231f20" stroke-width="0.2" textLength="21.4" lengthAdjust="spacingAndGlyphs">SCD</text>
<rect x="307.4" y="735.40" width="385.20" height="1.6" fill="#1a1a1a"/>
<text x="401.2" y="749.7" font-size="10.4" text-anchor="middle" fill="#231f20" stroke="#231f20" stroke-width="0.2" textLength="15.8" lengthAdjust="spacingAndGlyphs">WT</text>
<text x="600.9" y="749.7" font-size="10.4" text-anchor="middle" fill="#231f20" stroke="#231f20" stroke-width="0.2" textLength="131" lengthAdjust="spacingAndGlyphs">β-estradiol inducible <tspan font-style="italic">WHI5</tspan></text>
<rect x="307.4" y="754.70" width="187.40" height="1.6" fill="#1a1a1a"/>
<rect x="506.6" y="754.70" width="186.00" height="1.6" fill="#1a1a1a"/>
<text x="353.2" y="767.5" font-size="10.4" text-anchor="middle" fill="#231f20" stroke="#231f20" stroke-width="0.2" textLength="25.3" lengthAdjust="spacingAndGlyphs">0 nM</text>
<text x="353.2" y="779.2" font-size="10.4" text-anchor="middle" fill="#231f20" stroke="#231f20" stroke-width="0.2" textLength="53.2" lengthAdjust="spacingAndGlyphs">β-estradiol</text>
<text x="449.2" y="767.5" font-size="10.4" text-anchor="middle" fill="#231f20" stroke="#231f20" stroke-width="0.2" textLength="35.2" lengthAdjust="spacingAndGlyphs">150 nM</text>
<text x="449.2" y="779.2" font-size="10.4" text-anchor="middle" fill="#231f20" stroke="#231f20" stroke-width="0.2" textLength="53.2" lengthAdjust="spacingAndGlyphs">β-estradiol</text>
<text x="552.6" y="767.5" font-size="10.4" text-anchor="middle" fill="#231f20" stroke="#231f20" stroke-width="0.2" textLength="25.3" lengthAdjust="spacingAndGlyphs">0 nM</text>
<text x="552.6" y="779.2" font-size="10.4" text-anchor="middle" fill="#231f20" stroke="#231f20" stroke-width="0.2" textLength="53.2" lengthAdjust="spacingAndGlyphs">β-estradiol</text>
<text x="647.2" y="767.5" font-size="10.4" text-anchor="middle" fill="#231f20" stroke="#231f20" stroke-width="0.2" textLength="35.2" lengthAdjust="spacingAndGlyphs">150 nM</text>
<text x="647.2" y="779.2" font-size="10.4" text-anchor="middle" fill="#231f20" stroke="#231f20" stroke-width="0.2" textLength="53.2" lengthAdjust="spacingAndGlyphs">β-estradiol</text>
<clipPath id="tc0"><rect x="307.6" y="606.2" width="91.2" height="90.9"/></clipPath>
<clipPath id="tc1"><rect x="403.4" y="606.2" width="91.2" height="90.9"/></clipPath>
<clipPath id="tc2"><rect x="506.1" y="606.2" width="91.8" height="90.9"/></clipPath>
<clipPath id="tc3"><rect x="602.2" y="606.3" width="90.4" height="84"/></clipPath>
<clipPath id="tc4"><rect x="309.1" y="786.5" width="91.1" height="91.5"/></clipPath>
<clipPath id="tc5"><rect x="404.1" y="786.5" width="91.1" height="91.5"/></clipPath>
<clipPath id="tc6"><rect x="507.1" y="786.5" width="91.8" height="91.5"/></clipPath>
<clipPath id="tc7"><rect x="603.2" y="786.5" width="91.1" height="91.5"/></clipPath>
<g clip-path="url(#tc0)">
<rect x="307.6" y="606.2" width="91.2" height="90.9" fill="#a8a8a8" filter="url(#tem)"/>
<path d="M303,650 C306,640 312,628 322,614 C326,609 329,606 332,603" stroke="#707070" stroke-width="8" fill="none" stroke-opacity="0.8" filter="url(#tb1)"/>
<path d="M307,676 C310,656 316,636 327,619 C331,612 335,607 339,603" stroke="#262626" stroke-width="6" fill="none" stroke-opacity="0.8" filter="url(#tb2)"/>
<path d="M306,672 C307,662 309,652 312,643" stroke="#151515" stroke-width="6" fill="none" stroke-opacity="0.85" filter="url(#tb2)"/>
<path d="M399.5,630 C395,640 393.5,652 395,670 L400,672 Z" fill="#151515" filter="url(#tb1)"/>
<path d="M330,690 C336,688 342,688 348,690" stroke="#444" stroke-width="2" stroke-opacity="0.6" fill="none" filter="url(#tb1)"/>
<ellipse cx="354.3" cy="651" rx="21.3" ry="18.6" fill="#c4c4c4" fill-opacity="0.28"/>
<path d="M340.7,656.9 L344.3,656.9 M356.7,654.6 L359.8,656.6 M344.1,655.0 L345.3,659.7 M356.1,663.3 L360.9,663.7 M342.2,655.6 L345.1,657.0 M357.8,636.0 L360.5,640.1 M363.7,641.5 L366.3,642.2 M359.6,661.8 L363.4,663.0 M366.9,646.8 L364.8,649.7" stroke="#4a4a4a" stroke-width="2.4" stroke-linecap="round" stroke-opacity="0.75" fill="none" filter="url(#tb03)"/>
<ellipse cx="354.3" cy="651" rx="21.3" ry="18.6" fill="none" stroke="#383838" stroke-width="1.4" filter="url(#tb03)"/>
</g>
<path d="M300,640 L307.6,631.5 C311,624 317,615 327,605.5 L328,600 L300,600 Z" fill="#fff"/>
<g clip-path="url(#tc1)">
<rect x="403.4" y="606.2" width="91.2" height="90.9" fill="#a6a6a6" filter="url(#tem)"/>
<path d="M418,605.5 C445,610 472,620 496,638" stroke="#2e2e2e" stroke-width="1.6" fill="none"/>
<path d="M428,604 C452,608 476,617 497,632" stroke="#333" stroke-width="4" fill="none" stroke-opacity="0.8" filter="url(#tb1)"/>
<path d="M402,631.5 C408,628.5 416,627 422,627.5" stroke="#333" stroke-width="1.2" fill="none"/>
<ellipse cx="405" cy="674" rx="3.2" ry="4.5" fill="#1e1e1e" filter="url(#tb1)"/>
<ellipse cx="452.5" cy="686" rx="1.5" ry="1.7" fill="#333"/>
<ellipse cx="449" cy="650.6" rx="23" ry="19.8" fill="#c4c4c4" fill-opacity="0.28"/>
<path d="M444.0,650.6 L443.4,654.5 M437.8,653.6 L441.5,656.4 M446.8,656.7 L445.2,660.7 M455.3,657.4 L459.6,660.2 M457.9,641.4 L455.4,642.7 M442.1,649.0 L442.7,651.8 M457.4,658.0 L459.6,659.9 M450.9,658.2 L451.2,661.4 M441.1,640.4 L441.1,644.3 M450.5,638.3 L454.8,640.7 M463.0,647.6 L459.5,648.8" stroke="#4a4a4a" stroke-width="2.4" stroke-linecap="round" stroke-opacity="0.75" fill="none" filter="url(#tb03)"/>
<ellipse cx="449" cy="650.6" rx="23" ry="19.8" fill="none" stroke="#383838" stroke-width="1.4" filter="url(#tb03)"/>
</g>
<path d="M444,603 C462,607.5 480,616 497,629 L497,603 Z" fill="#fff"/>
<g clip-path="url(#tc2)">
<rect x="506.1" y="606.2" width="91.8" height="90.9" fill="#a8a8a8" filter="url(#tem)"/>
<path d="M553,604 C573,614 588,633 593,656 C596,670 596,684 594,700" stroke="#3e3e3e" stroke-width="7" fill="none" stroke-opacity="0.85" filter="url(#tb1)"/>
<path d="M560,604 C578,614 591,632 596,654 C598.5,668 598.5,684 597.5,700" stroke="#1a1a1a" stroke-width="2.4" fill="none" stroke-opacity="0.9" filter="url(#tb03)"/>
<ellipse cx="524" cy="624" rx="2" ry="1.8" fill="#444" fill-opacity="0.8"/>
<path d="M548,695 C556,692 564,692 570,695" stroke="#333" stroke-width="3" stroke-opacity="0.6" fill="none" filter="url(#tb1)"/>
<ellipse cx="550.6" cy="651.3" rx="19.3" ry="20" fill="#c4c4c4" fill-opacity="0.28"/>
<path d="M537.6,645.6 L540.3,649.0 M559.8,641.9 L562.7,643.1 M558.1,654.4 L562.2,654.8 M546.8,642.3 L544.4,646.2 M560.2,651.6 L562.9,654.5 M547.8,662.1 L548.3,665.1 M537.4,646.3 L539.2,649.0 M542.4,660.4 L537.6,660.8 M560.9,642.1 L562.0,644.7" stroke="#4a4a4a" stroke-width="2.4" stroke-linecap="round" stroke-opacity="0.75" fill="none" filter="url(#tb03)"/>
<ellipse cx="550.6" cy="651.3" rx="19.3" ry="20" fill="none" stroke="#383838" stroke-width="1.4" filter="url(#tb03)"/>
</g>
<path d="M567,603 C584,614 596,630 600,648 L600,603 Z" fill="#fff"/>
<g clip-path="url(#tc3)">
<rect x="602.2" y="606.3" width="90.4" height="90" fill="#a5a5a5" filter="url(#tem)"/>
<path d="M601,627 C610,620 620,612 634,604" stroke="#333" stroke-width="1.4" fill="none"/>
<path d="M601,678 C630,681.5 665,680.5 693,676" stroke="#222" stroke-width="1.5" fill="none"/>
<path d="M625,680 C632,676 638,677 645,681" stroke="#333" stroke-width="1.2" fill="none"/>
<path d="M601,686.5 C630,689.5 665,688.5 693,685" stroke="#222" stroke-width="1.6" fill="none"/>
<ellipse cx="681.5" cy="630.5" rx="4.2" ry="2.8" transform="rotate(-10 681.5 630.5)" fill="#6a6a6a" stroke="#2a2a2a" stroke-width="1.3"/>
<ellipse cx="675.5" cy="636.5" rx="1.4" ry="1.4" fill="#333"/><ellipse cx="667" cy="626.5" rx="1.5" ry="1.5" fill="#444"/><ellipse cx="631" cy="621" rx="1.6" ry="1.4" fill="#444"/>
<ellipse cx="647.1" cy="651.4" rx="21.7" ry="17.4" fill="#c4c4c4" fill-opacity="0.28"/>
<path d="M661.7,649.1 L656.7,649.6 M645.6,644.8 L643.1,644.9 M648.1,659.4 L645.7,661.4 M655.5,640.6 L659.5,642.8 M654.9,651.5 L660.7,652.3 M634.8,654.6 L630.5,658.0 M650.6,654.5 L649.6,657.4 M646.2,639.8 L645.7,645.6 M638.2,649.6 L642.1,651.7 M633.3,647.5 L634.8,652.1" stroke="#4a4a4a" stroke-width="2.4" stroke-linecap="round" stroke-opacity="0.75" fill="none" filter="url(#tb03)"/>
<ellipse cx="647.1" cy="651.4" rx="21.7" ry="17.4" fill="none" stroke="#383838" stroke-width="1.4" filter="url(#tb03)"/>
</g>
<path d="M601,688 C630,691 665,690 693,686.5 L693,700 L601,700 Z" fill="#fff"/>
<rect x="642.4" y="691.8" width="48.2" height="2.9" fill="#000"/>
<g clip-path="url(#tc4)">
<rect x="309.1" y="786.5" width="91.1" height="91.5" fill="#a9a9a9" filter="url(#tem)"/>
<path d="M372.5,786 C381,802 388,826 391.5,850 C393,862 394,870 394.5,880" stroke="#1e1e1e" stroke-width="1.4" fill="none"/>
<path d="M380,786 C388,802 395,826 398,850 C399,862 400,870 400.5,880" stroke="#444" stroke-width="4" stroke-opacity="0.45" fill="none" filter="url(#tb1)"/>
<path d="M385.5,786 C391.5,796 397,808 400.5,823" stroke="#1e1e1e" stroke-width="1.6" fill="none"/>
<path d="M373,791 C376,797 378,803 379.5,812" stroke="#2a2a2a" stroke-width="3" stroke-opacity="0.6" fill="none" filter="url(#tb1)"/>
<path d="M330,870 C335,868 340,867 344,869" stroke="#333" stroke-width="2.5" stroke-opacity="0.6" fill="none" filter="url(#tb1)"/>
<ellipse cx="354" cy="831.7" rx="20.3" ry="20.6" fill="#c4c4c4" fill-opacity="0.28"/>
<path d="M354.2,844.1 L358.8,847.6 M343.5,831.1 L340.3,834.0 M349.3,838.5 L354.2,839.8 M348.8,833.7 L345.6,835.0 M347.1,834.3 L345.4,838.5 M345.9,825.2 L348.0,827.8 M348.1,836.6 L353.2,839.5 M359.9,829.6 L363.1,829.9 M347.6,818.5 L352.1,818.9 M366.5,829.1 L364.0,834.5" stroke="#4a4a4a" stroke-width="2.4" stroke-linecap="round" stroke-opacity="0.75" fill="none" filter="url(#tb03)"/>
<ellipse cx="354" cy="831.7" rx="20.3" ry="20.6" fill="none" stroke="#383838" stroke-width="1.4" filter="url(#tb03)"/>
</g>
<path d="M388,785 C394,795 399,806 402,820 L402,785 Z" fill="#fff"/>
<g clip-path="url(#tc5)">
<rect x="404.1" y="786.5" width="91.1" height="91.5" fill="#a7a7a7" filter="url(#tem)"/>
<path d="M413,856 C419,866 428,871 441,869.5 C461,867 480,857 497,849.5" stroke="#1e1e1e" stroke-width="1.8" fill="none"/>
<path d="M404,876 C430,873 462,868 497,858.5" stroke="#2a2a2a" stroke-width="1.4" fill="none"/>
<path d="M404,874 C430,871 462,866 497,856.5" stroke="#444" stroke-width="3.5" stroke-opacity="0.4" fill="none" filter="url(#tb1)"/>
<ellipse cx="425" cy="858" rx="2.2" ry="1.8" fill="#222"/>
<path d="M404,786 L410,786 C408,790 406,793 404,795 Z" fill="#333"/>
<ellipse cx="450.3" cy="832.3" rx="21.2" ry="24.4" transform="rotate(20 450.3 832.3)" fill="#c4c4c4" fill-opacity="0.28"/>
<path d="M459.1,824.5 L456.9,825.9 M460.2,839.3 L459.9,843.3 M443.3,842.4 L444.3,847.4 M439.3,828.0 L436.7,833.4 M457.4,820.1 L452.4,822.1 M465.1,836.1 L461.0,839.0 M444.5,817.8 L450.0,820.1 M445.3,835.5 L441.5,840.2 M450.6,845.1 L449.1,849.8" stroke="#4a4a4a" stroke-width="2.4" stroke-linecap="round" stroke-opacity="0.75" fill="none" filter="url(#tb03)"/>
<ellipse cx="450.3" cy="832.3" rx="21.2" ry="24.4" transform="rotate(20 450.3 832.3)" fill="none" stroke="#383838" stroke-width="1.4" filter="url(#tb03)"/>
</g>
<path d="M468,880 C478,876 488,873 497,870 L497,880 Z" fill="#fff"/>
<g clip-path="url(#tc6)">
<rect x="507.1" y="786.5" width="91.8" height="91.5" fill="#a5a5a5" filter="url(#tem)"/>
<path d="M507,803 C513,795 520,790 530,790.5 M534,798.5 C539,797 544,797 549,797.5 M566,792 C568,797 570,801 573.5,806" stroke="#222" stroke-width="2" stroke-opacity="0.85" fill="none" filter="url(#tb03)"/>
<path d="M524,787 C527,792 529,796 531,798" stroke="#222" stroke-width="2.6" stroke-opacity="0.7" fill="none" filter="url(#tb1)"/>
<ellipse cx="590" cy="826" rx="1.6" ry="1.6" fill="#333"/><ellipse cx="594" cy="831.5" rx="1.6" ry="1.6" fill="#333"/><ellipse cx="513" cy="818" rx="1.5" ry="1.5" fill="#444"/>
<path d="M591,841 C594,844 597,847 600,851" stroke="#222" stroke-width="1.8" fill="none"/>
<ellipse cx="552" cy="833" rx="23.2" ry="21.2" fill="#c4c4c4" fill-opacity="0.28"/>
<path d="M565.2,837.0 L566.1,842.0 M565.0,830.0 L565.0,832.7 M551.9,842.3 L549.1,846.8 M545.3,834.9 L548.9,839.4 M556.0,843.6 L553.5,844.1 M536.8,822.5 L540.1,825.4 M558.9,826.5 L558.5,831.6 M544.3,821.9 L547.7,824.4 M542.2,838.7 L544.4,843.7 M553.6,821.7 L552.8,825.1" stroke="#4a4a4a" stroke-width="2.4" stroke-linecap="round" stroke-opacity="0.75" fill="none" filter="url(#tb03)"/>
<ellipse cx="552" cy="833" rx="23.2" ry="21.2" fill="none" stroke="#383838" stroke-width="1.4" filter="url(#tb03)"/>
</g>
<g clip-path="url(#tc7)">
<rect x="603.2" y="786.5" width="91.1" height="91.5" fill="#a6a6a6" filter="url(#tem)"/>
<path d="M603,806 C612,799 623,793 635,787" stroke="#222" stroke-width="1.5" fill="none"/>
<path d="M695,818 C691,835 684,856 677,880" stroke="#222" stroke-width="1.5" fill="none"/>
<path d="M603,818 C607,816.5 611,818.5 612.5,822.5 C611.5,827 606,828.5 603,827" stroke="#333" stroke-width="1.4" fill="#777"/>
<path d="M640,868 C645,864 650,862 656,862" stroke="#333" stroke-width="2.2" stroke-opacity="0.6" fill="none" filter="url(#tb1)"/>
<ellipse cx="649.5" cy="831.3" rx="25.6" ry="17.8" transform="rotate(-10 649.5 831.3)" fill="#c4c4c4" fill-opacity="0.28"/>
<path d="M664.6,821.1 L660.6,822.9 M649.7,833.6 L650.6,837.4 M636.3,827.8 L635.5,832.1 M651.3,818.1 L649.9,821.8 M644.1,842.5 L645.8,845.4 M665.1,835.9 L668.4,837.3 M657.9,831.7 L659.7,837.1 M637.0,842.0 L640.7,842.3 M638.9,838.9 L635.4,839.6 M641.4,833.1 L637.5,835.8" stroke="#4a4a4a" stroke-width="2.4" stroke-linecap="round" stroke-opacity="0.75" fill="none" filter="url(#tb03)"/>
<ellipse cx="649.5" cy="831.3" rx="25.6" ry="17.8" transform="rotate(-10 649.5 831.3)" fill="none" stroke="#383838" stroke-width="1.4" filter="url(#tb03)"/>
</g>
<rect x="644" y="872.8" width="48" height="3" fill="#000"/>
</svg>
</body></html>
